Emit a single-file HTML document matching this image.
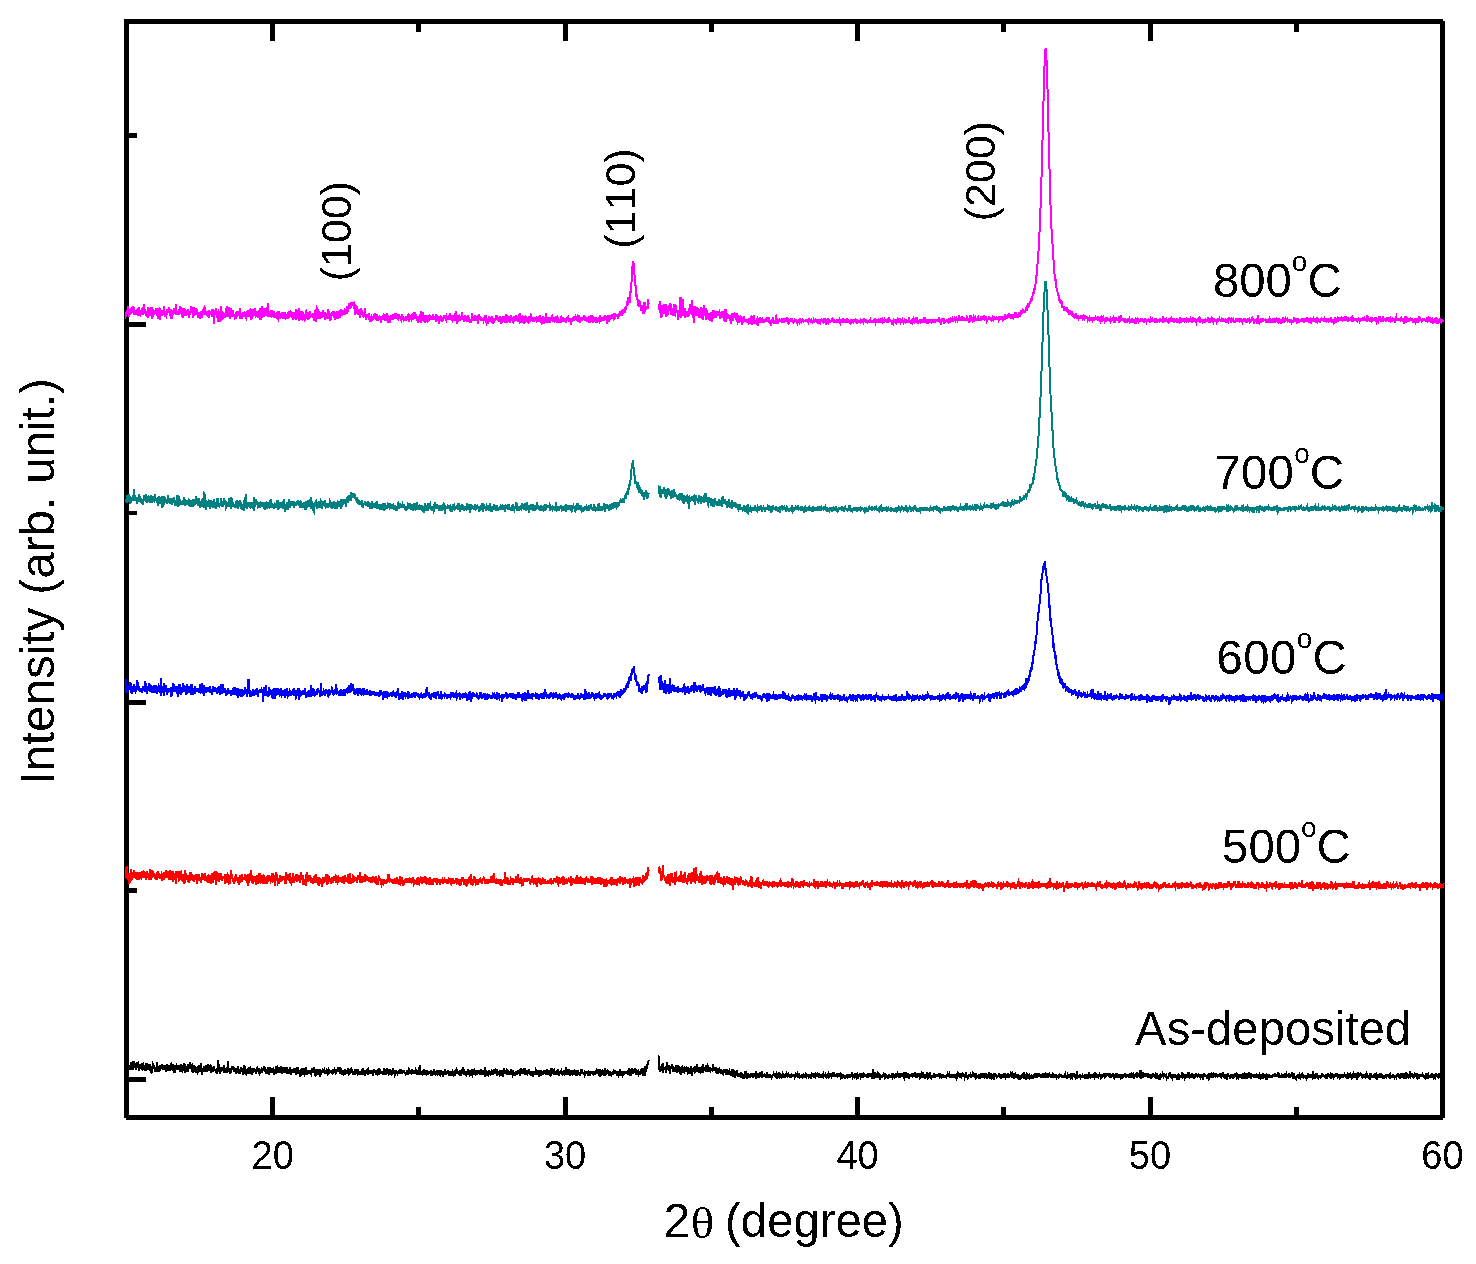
<!DOCTYPE html>
<html><head><meta charset="utf-8"><title>XRD patterns</title><style>
html,body{margin:0;padding:0;background:#fff;width:1476px;height:1264px;overflow:hidden}
svg{display:block}
text{font-family:"Liberation Sans",sans-serif;fill:#000;font-kerning:none;font-feature-settings:"kern" 0,"liga" 0}
</style></head><body>
<svg width="1476" height="1264" viewBox="0 0 1476 1264">
<defs><filter id="crisp" x="0" y="0" width="1476" height="1264" filterUnits="userSpaceOnUse"><feComponentTransfer><feFuncA type="discrete" tableValues="0 1"/></feComponentTransfer></filter></defs>
<rect x="0" y="0" width="1476" height="1264" fill="#fff"/>
<g fill="#000" shape-rendering="crispEdges">
<rect x="124" y="19" width="1319" height="5"/>
<rect x="124" y="19" width="5" height="1099"/>
<rect x="1440" y="21" width="5" height="1097"/>
<rect x="126" y="1115" width="1317" height="5"/>
<rect x="270" y="1097" width="5" height="18"/>
<rect x="270" y="24" width="5" height="17"/>
<rect x="563" y="1097" width="5" height="18"/>
<rect x="563" y="24" width="5" height="17"/>
<rect x="855" y="1097" width="5" height="18"/>
<rect x="855" y="24" width="5" height="17"/>
<rect x="1148" y="1097" width="5" height="18"/>
<rect x="1148" y="24" width="5" height="17"/>
<rect x="416" y="1107" width="5" height="8"/>
<rect x="416" y="24" width="5" height="8"/>
<rect x="709" y="1107" width="5" height="8"/>
<rect x="709" y="24" width="5" height="8"/>
<rect x="1001" y="1107" width="5" height="8"/>
<rect x="1001" y="24" width="5" height="8"/>
<rect x="1294" y="1107" width="5" height="8"/>
<rect x="1294" y="24" width="5" height="8"/>
<rect x="129" y="133" width="8" height="5"/>
<rect x="129" y="322" width="17" height="5"/>
<rect x="129" y="511" width="8" height="4"/>
<rect x="129" y="700" width="17" height="5"/>
<rect x="129" y="888" width="8" height="5"/>
<rect x="129" y="1077" width="17" height="5"/>
</g>
<g fill="none" stroke-width="2" shape-rendering="crispEdges">
<path stroke="#ff00ff" d="M125.7 312.1l .3 4.1 .3-.4 .3-5.4 .3 .7 .3-.7 .3 3.4 .2-2 .3 2.5 .3-8 .3 10.6 .3-5.2 .3 2.4 .3-2.5 .3-.7 .3 2.6 .3 1.1 .3-3.2 .3 .2 .3 2.6 .2-4.9 .3-2 .3 6 .3-3.3 .3-3.9 .3 3.4 .3 1.1 .3-2.2 .3-1 .3 4.8 .3 2.7 .3-3.5 .3-1.6 .3 3.5 .2 1 .3-3.1 .3 2.6 .3 1.5 .3-3.8 .3-1.9 .3 3.6 .3-.3 .3 2.6 .3-7.4 .3 2 .3-.6 .3-2.7 .2 5.7 .3 1.3 .3-3.9 .3 6.5 .3-1.7 .3-.6 .3-.7 .3 1.7 .3-7.1 .3 6.1 .3-.1 .3-7.3 .3 6.6 .2-1.9 .3 3.2 .3-10.9 .3 8.4 .3 1.2 .3-3.8 .3 4.5 .3-2.1 .3 1.8 .3-3.1 .3 5 .3-1.5 .3-2.4 .2 2.5 .3 1.9 .3 1.7 .3-10.4 .3 7.6 .3-1.3 .3-1.7 .3-2.9 .3 7 .3-7.7 .3 5.6 .3 2.3 .3-9 .3 4 .2-3.1 .3 4.8 .3 3.9 .3 1.6 .3-11.7 .3 3.7 .3 4 .3 2.6 .3-3.5 .3-3.6 .3 3.2 .3-.9 .3-.6 .2-1.6 .3 3.4 .3-.2 .3-1.3 .3-.4 .3-3.2 .3 2.4 .3 5.2 .3-4.2 .3-3.9 .3 8.5 .3-2.4 .3 4.8 .2-6.3 .3-1.6 .3-3 .3 8.5 .3 3.8 .3-10.3 .3 .5 .3 3.8 .3-4.4 .3 1.8 .3-.3 .3 1.7 .3 2.7 .2-3.2 .3 2.7 .3-4.1 .3 2.3 .3-7.5 .3 2.1 .3 6.8 .3-4.2 .3 3.6 .3-.1 .3 2.4 .3-1.6 .3 .6 .2-3.4 .3-1.8 .3-.1 .3 .8 .3-2 .3 1.8 .3 1.4 .3 1 .3-1.8 .3-4.8 .3 5.7 .3 .9 .3 2.6 .3-1.6 .2-3.7 .3-.2 .3 8.3 .3-3.8 .3 3.3 .3 .9 .3-9 .3 3.7 .3 .2 .3 .3 .3 0 .3-1 .3-.1 .2-5.1 .3 4.1 .3-1.8 .3 2.7 .3-1.8 .3 3.3 .3 .6 .3-10.7 .3 9.2 .3-.7 .3-1.7 .3 .9 .3-1 .2 2.7 .3-1.1 .3 1.7 .3-5.8 .3 6.7 .3-5 .3 .1 .3-4.2 .3 4.8 .3 2.5 .3-2.6 .3-1.5 .3 .7 .2 6.5 .3-3.8 .3-3.6 .3 3.5 .3-4.7 .3 10.1 .3-10 .3 6.1 .3 .2 .3-6 .3 5.2 .3 2.1 .3-1.6 .3-.6 .2 2.1 .3-2.4 .3 .6 .3-1.4 .3 2.3 .3-4.8 .3 5.3 .3-3.9 .3-1.8 .3 4.4 .3 4 .3-2.2 .3-4.4 .2 3.6 .3-3.4 .3 .9 .3 .7 .3-7.2 .3 7.5 .3-3.7 .3 1.1 .3-2.4 .3-.1 .3 1.7 .3 5.3 .3 2.6 .2-5.1 .3 3.4 .3-4.1 .3-4.9 .3 6.1 .3 .9 .3-2.6 .3 2.2 .3 .8 .3-4.3 .3-1.8 .3 3.8 .3 0 .2-.4 .3 4 .3 2.2 .3-6.4 .3 3.3 .3 .8 .3-.7 .3 1 .3-4.3 .3 3.4 .3 3.8 .3-3.6 .3-4.2 .3 3.6 .2 2 .3-2.7 .3-2.7 .3 6.3 .3-8.4 .3 5.3 .3-1.5 .3-3.5 .3-.6 .3 5.2 .3-4.5 .3 5.2 .3-3 .2-4.4 .3 3.6 .3 2.9 .3 1.1 .3-1.4 .3-.3 .3 1.2 .3-2 .3 4.2 .3-3.1 .3 .5 .3 .7 .3-4.7 .2 1 .3 6.7 .3-3.6 .3-1.8 .3 1.9 .3-2.5 .3 2.3 .3-2.8 .3 2.8 .3-5.5 .3 8.7 .3-5.5 .3-3.1 .2 4 .3-.4 .3 1.5 .3-3.8 .3 4.6 .3 9.5 .3-14.5 .3 4.8 .3-1.9 .3 1.5 .3-5.9 .3 2 .3 4.7 .3-1.4 .2 4.9 .3-6.9 .3 2.6 .3 8.2 .3-10.9 .3-.4 .3 2.6 .3 0 .3 2.6 .3-2.1 .3-2.6 .3 2.9 .3 7.1 .2-4 .3-11.9 .3 7.8 .3-2.2 .3 4.4 .3-2.3 .3 6.2 .3-2.9 .3-.1 .3-2.1 .3-.7 .3 1.2 .3 2.8 .2-2.2 .3-2.6 .3 4.8 .3-3.2 .3-.8 .3-2.1 .3 .7 .3-.2 .3-6.3 .3 11.2 .3-1.3 .3-2.3 .3 3.7 .2-1.8 .3-.2 .3-8.3 .3 6.6 .3 2.2 .3 3.2 .3-4.8 .3 4.3 .3-7.6 .3-3 .3 8.1 .3-1.6 .3 2.8 .2-3.2 .3 1 .3-5 .3 5.7 .3-2.6 .3 2.4 .3 .3 .3-1.7 .3 1.3 .3-1 .3 2.3 .3-.7 .3-3.1 .3-.1 .2 6.8 .3-5.4 .3 3.2 .3-1.7 .3-2.8 .3-.5 .3 2.5 .3 .5 .3 1 .3-5.5 .3 2 .3 1.5 .3 4.9 .2-11.5 .3 8.1 .3-2.8 .3 2.8 .3-2.7 .3 2.4 .3 3.5 .3-3.5 .3 .2 .3-.2 .3-3.3 .3 3.7 .3-2.2 .2-1.8 .3 2.3 .3-.6 .3 2.8 .3-2.3 .3-1.4 .3 5.7 .3-1.4 .3 .8 .3-1.9 .3-2.1 .3-.9 .3 .4 .2 3.5 .3-2.4 .3-4.7 .3 4.2 .3-4 .3 4.5 .3-4 .3-.2 .3 4 .3-.6 .3-4.6 .3 7 .3 4.1 .3-10.6 .2 9.5 .3-7.2 .3 .5 .3 .9 .3-3.7 .3 7.9 .3-2.3 .3-3.6 .3 1.3 .3-3.6 .3 3.4 .3 3.6 .3-7.6 .2 3.6 .3 1.7 .3 2.6 .3 .8 .3-5.2 .3-.8 .3 3.4 .3-2.4 .3 .1 .3 4 .3 1.8 .3-4.2 .3-1.3 .2 2.2 .3-7.1 .3 5.4 .3-3.1 .3 9.9 .3-4.8 .3-1.7 .3-1 .3-6.7 .3 9.3 .3 2.6 .3-6.8 .3 4.1 .2 .1 .3-6.6 .3 7.1 .3 1.2 .3-3.2 .3-.9 .3 2.4 .3-6.6 .3 4.7 .3 2.8 .3-6.5 .3 6.5 .3-4 .3-4.7 .2 5.7 .3-2.4 .3 3.8 .3-11.3 .3 13.5 .3-5.1 .3 3.2 .3-2.6 .3 .8 .3 4.4 .3-2.7 .3-1.7 .3-2.4 .2 7 .3-1.2 .3-3 .3 1.7 .3-3.6 .3 .1 .3 .7 .3 3.4 .3-.1 .3-2.9 .3 4.3 .3 .2 .3-1.7 .2 2.5 .3-3.7 .3 .5 .3 1.8 .3-1.4 .3 2.4 .3-5.8 .3 7.7 .3-6.2 .3 1.8 .3-3.4 .3 5.7 .3 2 .2-.5 .3-.6 .3-6.8 .3 2.3 .3 1 .3-1.3 .3 5.8 .3-2.7 .3-.6 .3 1.5 .3-4.1 .3 .1 .3 0 .3 3.9 .2-.4 .3 .6 .3 1.4 .3-6.9 .3 2.2 .3 2 .3-4.2 .3 2.3 .3 4.4 .3 .2 .3-.1 .3-2.9 .3-.8 .2 3.7 .3-4.2 .3 2 .3 2.8 .3-4.8 .3-.7 .3 1.7 .3 1.7 .3-.4 .3-.9 .3 1.1 .3-6.1 .3 2.1 .2 2.9 .3-3.1 .3-1.2 .3 .3 .3 .9 .3 2 .3-2.4 .3 3.6 .3 4.1 .3-5.2 .3 3.9 .3-2.8 .3-3.9 .2 2.4 .3-2.1 .3 4.9 .3-5.4 .3 7 .3-2.1 .3-7.4 .3 7.9 .3 2.2 .3-6.7 .3 5 .3-7.8 .3 5.7 .2-5.4 .3 6 .3-6.4 .3-2.3 .3 8.5 .3 5.3 .3-8.2 .3 4 .3-2 .3-1.2 .3 2.6 .3 2.9 .3-8 .3 5 .2-.6 .3-4.9 .3 8.5 .3 .9 .3-8.1 .3 7.5 .3-4.6 .3-.7 .3 4.7 .3-3.6 .3 .3 .3 3.3 .3-.6 .2-1.1 .3-6.3 .3-.5 .3 7.5 .3-5.7 .3 3 .3-3.4 .3 2.5 .3-3 .3 8 .3-7.3 .3 2.5 .3-.2 .2 3.8 .3-7.1 .3 3.8 .3-.5 .3 2 .3-.1 .3-2.6 .3 1.9 .3-1.6 .3 2.3 .3-1.6 .3-1.5 .3 1.7 .2 1.1 .3 5.2 .3-7.5 .3 2.2 .3 3.1 .3-9.5 .3 .9 .3 1.5 .3 2.9 .3 6.8 .3-5.5 .3 2.2 .3-3.8 .3-6 .2 .4 .3 8.9 .3-2.2 .3-3.9 .3 6.4 .3-7.1 .3 7.2 .3 .8 .3-5.9 .3-.9 .3 5.2 .3-5.2 .3 5.2 .2-5.5 .3 5.3 .3-1.9 .3-1.4 .3-1.2 .3 3 .3-5.7 .3 4.3 .3-.4 .3 2.9 .3-5.1 .3 7.7 .3-5.3 .2-2.2 .3 6.6 .3 .7 .3-4.8 .3-1.9 .3 2.4 .3-1.9 .3 1 .3 4.8 .3-3 .3-.7 .3-6.2 .3 5.7 .2 2.3 .3 .1 .3-3.3 .3 1.2 .3 5.9 .3-5.1 .3-1.6 .3 5.7 .3-5.2 .3-2.9 .3 4.5 .3-4 .3 1 .3 2.1 .2-1.2 .3-1.7 .3 .6 .3-.2 .3 4.5 .3-4.9 .3 .4 .3 6.6 .3-6.6 .3 5.1 .3-.4 .3-3.8 .3-3.2 .2 4.7 .3 .5 .3 .7 .3-2.3 .3 2.8 .3 .4 .3-6.2 .3 6.2 .3-3.2 .3-1.9 .3 .6 .3 5.4 .3-2.3 .2-6.9 .3 4.6 .3-.6 .3-.1 .3-.9 .3-2.4 .3 5.7 .3-4.6 .3 1.3 .3-.6 .3-.4 .3 3.5 .3-1 .2-2.7 .3-.8 .3 1 .3 3.4 .3-2.3 .3 .1 .3-1.7 .3 0 .3 .8 .3-5.3 .3 8.1 .3-6.3 .3 .1 .3 4.2 .2-3.2 .3-1 .3-2.1 .3-3 .3 3.7 .3 2 .3-5.6 .3 5.1 .3-6.3 .3 .9 .3 3.1 .3-1 .3-1.7 .2 .6 .3-.3 .3-1.6 .3 2 .3 .8 .3-.5 .3 4.6 .3-2 .3-2.9 .3 11 .3-7.6 .3-.8 .3 6.2 .2 .1 .3-5.3 .3-.5 .3 1.3 .3 5.3 .3-3.2 .3-.9 .3 2 .3 3.1 .3-5.9 .3 2.6 .3-2.2 .3 8.5 .2-.6 .3-1.9 .3-2.4 .3 2 .3-6.3 .3 5.7 .3-3.6 .3 .2 .3 1.5 .3 1 .3 2.2 .3 .4 .3-.9 .2-2.7 .3 3.9 .3-1.8 .3 3.1 .3-4.7 .3-4.2 .3 5.4 .3 6.1 .3-3.8 .3-1.4 .3 2.6 .3-.8 .3 0 .3-2.2 .2 1.4 .3 .4 .3-1.9 .3-1 .3 3 .3 1.9 .3-.6 .3-.3 .3 .1 .3 4.7 .3-5.2 .3 1.8 .3 2.2 .2-4.3 .3 .6 .3 1.8 .3 1.5 .3-3.1 .3 .2 .3-.6 .3-2.8 .3 5.2 .3-3 .3-3.2 .3 3.6 .3-3.5 .2 1.7 .3 2.3 .3-2 .3 4.4 .3-5.6 .3 3.9 .3 .7 .3 2.1 .3-1.2 .3-1.5 .3-.2 .3-.3 .3 2.7 .2-3.9 .3 2.6 .3-1.3 .3 .8 .3-1.2 .3 5.3 .3-6.1 .3 2 .3 0 .3 .7 .3-.3 .3-.1 .3 1.2 .3-5.4 .2 3.3 .3-2.7 .3 3.2 .3-3.1 .3 .4 .3 2 .3 3.2 .3-1.8 .3-.7 .3 2.4 .3-5.1 .3-2.5 .3 3.6 .2 .3 .3 3.3 .3 2 .3-7.6 .3 8.3 .3-2 .3-1.6 .3-1 .3 4.5 .3-5.2 .3-1.2 .3 1.4 .3-3.3 .2 4 .3-1.3 .3 .9 .3 .1 .3-3.1 .3 5.1 .3-5 .3 4.1 .3-5.4 .3 4.2 .3-2.6 .3 1.9 .3-1.5 .2-3.4 .3 2.4 .3 2.5 .3 1.2 .3-4.5 .3-1.5 .3 2.7 .3 1.5 .3-1 .3-.4 .3 3.6 .3 .3 .3-.5 .3-3.7 .2 2.2 .3-.6 .3-2.7 .3 5 .3-1.7 .3-1.2 .3 4.1 .3-1.4 .3 .2 .3 .8 .3-1.1 .3-4.3 .3 2 .2 3 .3-3.8 .3 1.7 .3 .8 .3 2.3 .3-.3 .3-.8 .3-2.4 .3 2.4 .3-.8 .3-1.5 .3 3.3 .3-1.8 .2-2.7 .3 4.4 .3-3.3 .3 1.8 .3-4.5 .3 3.2 .3-2 .3 0 .3-2 .3 8.8 .3-5 .3 .9 .3 1.9 .2-2.7 .3 1.4 .3-4 .3 3.3 .3-1.3 .3 2 .3-.6 .3-3.4 .3-1 .3 1.8 .3 3.8 .3-6.3 .3 5.6 .3-5.2 .2-1.4 .3 4.4 .3 .7 .3-.6 .3 2.1 .3-1.1 .3-2.2 .3 .7 .3 2.2 .3-.2 .3-.3 .3 5.1 .3-5.4 .2 .8 .3-2.4 .3 1.4 .3 1.9 .3 .1 .3-1.5 .3 1.2 .3-.8 .3-4.1 .3-3.1 .3 12.1 .3-3.2 .3-8 .2 2.5 .3 .9 .3 5.7 .3-8.9 .3 5.3 .3 2.6 .3-1.6 .3 1.3 .3-1.9 .3 5.4 .3-7.3 .3-.8 .3 3.6 .2 2.4 .3-3.2 .3 2.4 .3-3.4 .3-1.4 .3 5.6 .3 .3 .3-.1 .3-4.2 .3-1.5 .3-.1 .3 2.1 .3 1.7 .2-.2 .3-4.2 .3 3.5 .3-.3 .3 .1 .3-.2 .3-.4 .3 1.7 .3-1 .3 .2 .3-2 .3 2.4 .3-1.2 .3-4.2 .2 5.5 .3-1.6 .3 2.6 .3-2.4 .3 .2 .3 .6 .3-.4 .3-1 .3-2.9 .3 7.8 .3-7.3 .3 2.6 .3 2.2 .2-.6 .3 .4 .3 .4 .3 1.1 .3-2.1 .3 5.6 .3-8.4 .3 2.6 .3-1.2 .3-.4 .3 1.7 .3 2.6 .3-4.7 .2 0 .3 3.1 .3-.4 .3 3 .3-2 .3-1.7 .3-1.2 .3 1.2 .3-.9 .3-2.5 .3 2.9 .3-.4 .3-.1 .2-.4 .3-1.6 .3 4 .3 .5 .3-3.3 .3-.9 .3 1.6 .3 1.1 .3-1.3 .3 .4 .3 2.4 .3-1.4 .3-2.7 .3 1.1 .2-.5 .3 1.8 .3-2.9 .3 2.2 .3 1.8 .3-1.4 .3-2 .3 .7 .3 1.6 .3 .8 .3 .7 .3-2.1 .3-2.4 .2 5.8 .3-2.4 .3 .3 .3-.2 .3-2.9 .3 1.6 .3 1.2 .3 1.7 .3-2.1 .3-6.8 .3 6.2 .3 1.3 .3 2 .2-1.2 .3 3.8 .3-2.3 .3-.1 .3-.9 .3-4.9 .3 4.7 .3-.5 .3-2.4 .3 2.4 .3-.3 .3-1.9 .3 .8 .2-.3 .3 1 .3-1.3 .3 2 .3-5.2 .3-2.5 .3 3 .3 2.6 .3 2.1 .3-1 .3-.3 .3 .4 .3 3.2 .3-5.6 .2 4.2 .3-5.1 .3 2.3 .3 1.3 .3-2.1 .3 2.2 .3 1.2 .3-4.1 .3 2.4 .3-.6 .3-3.4 .3 3.8 .3-1.3 .2 4.6 .3-4.7 .3 5.4 .3-4.7 .3 5.3 .3-3 .3-.1 .3 .7 .3 .2 .3 1.1 .3 .7 .3-4.4 .3-1.9 .2-3 .3 4.9 .3 2.4 .3-.8 .3-.5 .3-1 .3-.6 .3 .8 .3 1.4 .3-4.5 .3 5.3 .3-4.7 .3 2.8 .2-1 .3 .6 .3-1.4 .3-.2 .3 1.9 .3-1.8 .3 7.5 .3-6 .3-.5 .3 .2 .3-1.1 .3-2.9 .3 4.7 .3 1.2 .2-3.9 .3 3.2 .3-2.5 .3 2.5 .3 .8 .3 .3 .3-.1 .3-2.5 .3 3.4 .3-2.8 .3 1.7 .3 .7 .3-2.1 .2-2.1 .3 4 .3-3.6 .3 .4 .3-.4 .3 4.1 .3-2.1 .3-4.4 .3 6.3 .3 2.8 .3-.6 .3-5 .3 1.4 .2 .9 .3 .8 .3-1.8 .3-2.4 .3 3.9 .3-.3 .3-4.1 .3 2.1 .3 1.3 .3-.6 .3 1.1 .3 .6 .3-.5 .2-1.4 .3-2.6 .3 4.1 .3 1.7 .3 1.2 .3-4.2 .3 0 .3 3.1 .3 0 .3-2.3 .3 .7 .3-3.1 .3 2.9 .2-3 .3 1.4 .3 .1 .3-.7 .3-3.5 .3 2.7 .3 2.4 .3-.8 .3-.7 .3 1.7 .3 .6 .3 .3 .3-3.5 .3 1.8 .2-.8 .3-1.1 .3-1.3 .3 2.9 .3-1.6 .3 6.4 .3-4.8 .3-.2 .3-.4 .3 4.8 .3-5.9 .3 1.6 .3-1.3 .2 1.4 .3 .2 .3 2.4 .3-5.3 .3 2.9 .3 3.4 .3-4.4 .3 .7 .3-1.5 .3-3.7 .3 5.3 .3-1.6 .3 .9 .2-2.9 .3 4.4 .3-.4 .3 2 .3-.2 .3-2.5 .3 1.4 .3-4.6 .3 6.1 .3-2 .3 1.9 .3 0 .3-2.9 .2 .3 .3-1.5 .3-2.5 .3 4.1 .3 .6 .3-2.6 .3 3.7 .3-1.2 .3 .7 .3-2.6 .3-2 .3 5.3 .3-.4 .3-1.5 .2-.6 .3 .3 .3 .3 .3-.8 .3-3.2 .3 5.9 .3-4.8 .3 2.5 .3 0 .3 1.2 .3-3.9 .3 5.9 .3-1.2 .2 .3 .3 1 .3-4.3 .3-4.9 .3 7.3 .3 2 .3-.3 .3-3.5 .3 .9 .3 .8 .3-4.4 .3 2.4 .3 .1 .2 4.6 .3-4.7 .3 4.7 .3-3.3 .3-3.5 .3 8.1 .3-6.6 .3 3.3 .3 2.3 .3-4.7 .3-1.5 .3 4.8 .3-2.1 .2-2.7 .3 .3 .3 1.5 .3 2.8 .3-2.6 .3 2 .3 2.1 .3-.8 .3 .3 .3-.4 .3-6 .3 6 .3-1.9 .3-1 .2-2 .3-1 .3 1 .3 2.3 .3-2.4 .3 .7 .3 .4 .3 2.7 .3-2 .3 .3 .3 3.1 .3-3.5 .3 2 .2-3.5 .3 2.9 .3-.4 .3 .1 .3-1.4 .3-1.1 .3 1.5 .3-.4 .3 3.2 .3-.3 .3-4.4 .3 3.8 .3-2.3 .2 2 .3-2 .3-2.1 .3 5.2 .3-1.1 .3-3.5 .3-1.4 .3 2.8 .3-1.3 .3 1.7 .3 2 .3 1.8 .3-3.8 .2 3.6 .3-.5 .3-3.3 .3-2.6 .3 5.3 .3-.5 .3 3.6 .3-1.9 .3-1.4 .3 1.9 .3-5.7 .3 2.6 .3-.9 .3 4.1 .2-2.4 .3-7.5 .3 9.2 .3-4.8 .3 3.5 .3-2.6 .3 1.5 .3 .9 .3-1 .3-2.3 .3 4.8 .3-2 .3-.9 .2 1.5 .3-2.6 .3 5.1 .3-3.5 .3 .3 .3 0 .3-2.6 .3-.6 .3 2.9 .3 .3 .3 2 .3-1.8 .3-3.2 .2 3.3 .3 .7 .3 .3 .3-1.4 .3-3.2 .3 5 .3-4 .3 2.7 .3-4.4 .3 4.8 .3-3.2 .3 3.9 .3 1.4 .2-1.2 .3-4.9 .3 .5 .3 .1 .3 3.2 .3-.6 .3-.4 .3 .3 .3 .5 .3 .2 .3 2.1 .3-3.6 .3 .6 .2-4.3 .3 1.1 .3 1.3 .3-1 .3 2.9 .3 1.7 .3-3.1 .3-.1 .3 0 .3 1.3 .3-1.4 .3 2 .3-.3 .3 .1 .2 .9 .3-1.5 .3 .2 .3 3.3 .3-3.7 .3 1.7 .3-1.5 .3-1.1 .3 0 .3-.7 .3 1.7 .3-1.3 .3 .4 .2 3.4 .3-2.8 .3 2.6 .3-1.8 .3 1.3 .3-3.1 .3 1.6 .3 5.1 .3-3.7 .3 .3 .3-1.6 .3 1.3 .3-4.1 .2 .6 .3 2.6 .3 .8 .3-2.5 .3 .5 .3-.4 .3 .4 .3-2.1 .3-.5 .3 2.8 .3-3.4 .3 1.5 .3 .7 .2-.8 .3 2.6 .3-1.4 .3 .8 .3-2 .3 .6 .3 2.6 .3-.4 .3-5.2 .3 5.2 .3-.3 .3-.1 .3 3 .3-4.1 .2 1.6 .3 0 .3-1.3 .3-1.9 .3 3.8 .3-.9 .3-.4 .3-.1 .3 0 .3-1.9 .3 2.4 .3-4.3 .3 3.7 .2-3.1 .3 2.4 .3 2.2 .3-2 .3-.5 .3 2 .3-1.6 .3-.3 .3 .1 .3 3.9 .3-1.8 .3-.4 .3-3.4 .2 3.7 .3-3.9 .3 3.6 .3-3.3 .3 6.3 .3-7.4 .3 5.9 .3-.8 .3-5.3 .3 3.1 .3 3.5 .3-.7 .3-5.7 .2 2.3 .3-1.3 .3 .3 .3 .7 .3 5.1 .3-3.5 .3-.7 .3-.2 .3 2 .3 0 .3-3.3 .3 4.9 .3-5.2 .3 1.6 .2 1.5 .3 2.6 .3-4.2 .3 1.3 .3 2 .3-1.4 .3 1.1 .3-.2 .3-1.6 .3 .7 .3 .6 .3-2 .3 3.4 .2-7.4 .3 2.2 .3 4.8 .3-2.1 .3-2.2 .3 2 .3 1.4 .3-3.3 .3 2.6 .3-1.8 .3 0 .3 0 .3 2.4 .2-4.6 .3 1.6 .3 2 .3-3.8 .3-.8 .3 4.3 .3-1.2 .3-.3 .3 .6 .3-2.3 .3 7.8 .3-7.9 .3 1 .2-2 .3 2 .3 3.9 .3-3.1 .3 1.2 .3-2.3 .3 4.7 .3-3.5 .3-2.9 .3 4.1 .3-2.4 .3 2 .3-1 .3 .2 .2-.4 .3-2.1 .3-1.3 .3 4.9 .3-2.3 .3 .8 .3-1.6 .3-3.3 .3 1.5 .3 5.3 .3-4.5 .3 .7 .3-2.3 .2 1.8 .3 .2 .3 .2 .3 .2 .3-1.2 .3 0 .3 1 .3 .5 .3-1.1 .3 3.7 .3-3.2 .3-.3 .3-1.8 .2 3.2 .3-4.3 .3-1.4 .3 1.1 .3 3 .3-3.9 .3 4.9 .3-3 .3-3.4 .3 2.4 .3 3.9 .3-5.9 .3-1.3 .2 3.5 .3 1.4 .3-1 .3-3.3 .3 .7 .3-.2 .3 1.4 .3 1.7 .3-5.5 .3 2.5 .3-4.2 .3 1.5 .3-4 .2-.3 .3 2 .3-3.6 .3 3.3 .3-4.1 .3 .6 .3-1.2 .3-1.6 .3 .1 .3 1.1 .3 3.5 .3-11.6 .3 1.9 .3-3 .2-4.1 .3 .3 .3-5.9 .3-1.5 .3-.6 .3-12.1 .3 2 .3-2.4 .3-5 .3 4.1 .3 1.7 .3 1.7 .3 8.1 .2-2.1 .3 9.1 .3 1.4 .3 1.1 .3 5 .3 2 .3 5 .3-4.1 .3 4.7 .3 .6 .3 1.2 .3-.8 .3 6.4 .2-6.5 .3 6 .3-.7 .3 1.8 .3-2.4 .3-2.9 .3 1.3 .3 7.8 .3-2.7 .3-2.7 .3 4.8 .3-4.2 .3 .1 .2-1.2 .3 6.5 .3 2.2 .3-7.8 .3 3.4 .3 1.9 .3 3.1 .3-12.3 .3 6.8 .3 1.4 .3-5.9 .3 5.1 .3-.6 .3 1.4 .2-3.7 .3 2.7 .3-2.9 .3 3.3 .3-1.3 .3-1.6 .3-6.9 .3 4.7"/>
<path stroke="#ff00ff" d="M658.5 306.2l .3-.6 .3 2.6 .3 .5 .3 3.4 .3-6.7 .3-4.4 .3 17.3 .3-6.8 .3-2.5 .3 8.3 .3-12.3 .2 1.3 .3 1.2 .3 3.3 .3-3.3 .3 4.3 .3-3.8 .3 5.7 .3-2.8 .3-7.3 .3 5.6 .3-3.7 .3 3.4 .3 .5 .2 7.7 .3-8.4 .3-4.7 .3 5.9 .3-4.3 .3 10.3 .3-3.8 .3 3 .3-6.7 .3-2.2 .3 4.6 .3-5.7 .3 1.5 .2 .7 .3 2.1 .3-4.6 .3-1.8 .3 11.9 .3-6.7 .3 1.3 .3 2.7 .3-.5 .3-3.7 .3 .7 .3 7 .3-1.1 .2-1.7 .3 3.1 .3-11.9 .3 6.8 .3-1.3 .3-5.5 .3 7.6 .3 1.1 .3-1.2 .3-7 .3 5.4 .3 1.5 .3-1.5 .3 1.8 .2 .8 .3 3.1 .3-3.9 .3 8 .3-8 .3 .2 .3 1.7 .3-2.8 .3-.8 .3 5.3 .3-18.8 .3 8.8 .3 12.9 .2-4.5 .3-.6 .3-.7 .3-.1 .3-4 .3 2.2 .3-11.7 .3 16.6 .3-1.7 .3-1.3 .3 .5 .3-1.7 .3-3.3 .2 9.5 .3-3.5 .3-2.7 .3 2.6 .3 2.2 .3-.3 .3-1.6 .3 .5 .3-3.4 .3 5.2 .3-1.3 .3 0 .3-7.3 .2 6.4 .3 .1 .3 .4 .3-11.1 .3 2.4 .3 7.1 .3-4 .3 4.3 .3-1.5 .3 3.1 .3-4.6 .3-10.6 .3 14.2 .2-2.6 .3-2.9 .3-2.6 .3 16.6 .3-11.3 .3 .4 .3-5.6 .3 3.1 .3 2.8 .3 1.6 .3 1.5 .3-4.9 .3 4 .3 2.1 .2-5.3 .3 1.4 .3-5.5 .3 3.2 .3-1.8 .3 6.6 .3-2.7 .3 5.7 .3-4.5 .3 2 .3-.9 .3-1 .3-4 .2 8.7 .3-5.5 .3-5.5 .3 4 .3-1.6 .3 7.3 .3-.4 .3 1.5 .3 2.1 .3-8.9 .3-3.9 .3 3 .3 4.3 .2-9.7 .3 6.6 .3 4.6 .3-5.3 .3 2.3 .3-2.4 .3 8.3 .3 .7 .3-9.2 .3 .5 .3 3.1 .3 1.8 .3-.8 .2 .8 .3 1.1 .3 .7 .3 2.1 .3-5.1 .3-2 .3 1.3 .3 7.1 .3-4.2 .3-.3 .3 1.9 .3-.3 .3 3.5 .3-9.6 .2 3.1 .3 1.7 .3 .2 .3-3.6 .3-3.7 .3 4.1 .3-1.2 .3 1.7 .3 3.7 .3-1.2 .3-5.4 .3 1.2 .3 2.8 .2 2.9 .3-3.6 .3 .9 .3-5 .3 3 .3-.8 .3 2.9 .3-1.3 .3-1.7 .3-.6 .3 3.8 .3-2.5 .3 5.3 .2-2.9 .3-1.1 .3 3.4 .3-6 .3 6.1 .3-4.6 .3 4.2 .3-4 .3-.7 .3-2.5 .3 5.4 .3 1.3 .3-5.3 .2 9 .3-5 .3-3.1 .3 8.7 .3-6.5 .3 5.2 .3-11.8 .3 13.8 .3-5.4 .3-.5 .3 1 .3-4 .3 5.7 .3-1.2 .2-.3 .3-2.4 .3-1.6 .3 4.2 .3 1.3 .3-1.8 .3-.8 .3-.8 .3 3.3 .3 2 .3-4.2 .3-1.9 .3 8.9 .2-10.7 .3 4.9 .3-1 .3 3.8 .3-3.8 .3-4 .3 1.5 .3 3.3 .3-.4 .3-1.6 .3 .3 .3-2.6 .3 .3 .2 2.2 .3-.1 .3 1.5 .3-2.7 .3 7.1 .3-8.5 .3 6.8 .3-.8 .3 2.7 .3-.5 .3-6.8 .3 4.3 .3 1 .2 .5 .3-1 .3-2.7 .3 4.7 .3-3.5 .3-.8 .3 1.7 .3-1.5 .3-.4 .3 2 .3 6.2 .3-5.6 .3-.5 .3-1.3 .2 2.1 .3-3.7 .3 4.1 .3-.4 .3-.4 .3 1 .3-1.6 .3 2.1 .3-.2 .3 .1 .3-1.2 .3 2.1 .3-2.4 .2 3.5 .3-3.3 .3 3.3 .3-2.3 .3-.6 .3-2.1 .3 3.8 .3-.6 .3-.6 .3 .9 .3-.6 .3-2.4 .3-.5 .2 4 .3-1 .3 3 .3 1.1 .3-2.7 .3-.4 .3-.1 .3-1 .3-1.6 .3-4.3 .3 7.3 .3-.4 .3-1.1 .2 .2 .3 1.8 .3-.2 .3-1.5 .3-.9 .3 1.8 .3 .4 .3 2.9 .3-6.4 .3-.5 .3 .6 .3 .8 .3 5.7 .2-5.6 .3 .6 .3-.9 .3 2.9 .3-2.5 .3-2.5 .3 3.6 .3 1.3 .3-1.6 .3 .3 .3-1.6 .3-.5 .3 1.9 .3-2.2 .2 1.3 .3-1 .3 1.4 .3 2 .3-1.6 .3 2.2 .3-1.4 .3-1 .3-1.4 .3 1.9 .3-2.3 .3 3.5 .3-3.8 .2-.1 .3 1 .3-1.5 .3 3.2 .3-1.5 .3 .5 .3 1.9 .3-4.9 .3 3.4 .3 1.1 .3 1.1 .3-1.5 .3-1.4 .2 2.8 .3-.1 .3 2.2 .3-.1 .3-4 .3 2.6 .3-1.9 .3-2 .3 2.8 .3 1 .3-5.9 .3 5.9 .3-3.4 .2 3.8 .3-2.1 .3-.2 .3 2 .3-2.7 .3 3.7 .3-4.7 .3-3.2 .3-.4 .3 5.9 .3-.9 .3 1.3 .3 .4 .3-.4 .2 .4 .3 0 .3-1.7 .3-1 .3-.3 .3 2.4 .3-1.8 .3-.6 .3 .2 .3 .9 .3 .6 .3-.7 .3-1.1 .2 2.2 .3-3.8 .3 2.6 .3 1.8 .3-1 .3 1.2 .3-1.4 .3 .6 .3-.7 .3-.6 .3 1 .3 .7 .3-3.7 .2 1.5 .3-1.6 .3 1.4 .3-.4 .3 1 .3-2.7 .3 4.4 .3 .4 .3-2.5 .3 .4 .3 1.3 .3-1.5 .3 .3 .2-1.6 .3 2.9 .3-.5 .3-1.4 .3-.4 .3 .3 .3 1.7 .3-1.1 .3-.8 .3 1 .3 1.4 .3 .4 .3 .1 .3-1.4 .2 .2 .3 0 .3 .5 .3-.1 .3-1.8 .3 .3 .3 .4 .3 1.2 .3-1.4 .3-.2 .3 2 .3 .5 .3-2.7 .2 .9 .3 1.4 .3-1.7 .3 1.5 .3-2.7 .3 1.4 .3 1 .3 1 .3-.7 .3-2.9 .3 .1 .3 .8 .3 1.9 .2-.1 .3 .4 .3-.5 .3-1.4 .3 .2 .3-.6 .3 2 .3-2.4 .3 1.5 .3 .2 .3 1.1 .3-2.2 .3 1.3 .2-1.6 .3 2.3 .3-1.6 .3 .1 .3-.7 .3 .4 .3-.1 .3 .1 .3 1.9 .3-2.4 .3 1.4 .3 .7 .3-2.2 .3-1.2 .2 3 .3-2.4 .3 1 .3 .7 .3 .5 .3-.7 .3-.4 .3 1.9 .3-.9 .3 1.9 .3-3.2 .3 1 .3 0 .2 .7 .3-.4 .3-.2 .3 2.2 .3-2.4 .3 .7 .3-.3 .3-.9 .3 1.5 .3-2.9 .3 3.3 .3-3 .3 1.4 .2 .5 .3-.7 .3 0 .3 1.9 .3 1.4 .3-1.6 .3-.9 .3-.9 .3-.2 .3 2.2 .3-.3 .3 .5 .3-.4 .2 .4 .3-2.2 .3-.2 .3-.3 .3 1.1 .3-.1 .3 .3 .3-1.5 .3 1.6 .3 .7 .3-.8 .3-3.1 .3 2.9 .2-.3 .3 1.4 .3-1.2 .3 .9 .3-1.2 .3 .8 .3 .8 .3-1.4 .3 .6 .3-.1 .3 .5 .3-.9 .3 .7 .3-2.6 .2 1.8 .3 1.2 .3-.2 .3-1.8 .3 .2 .3 1.3 .3 0 .3 .1 .3-.4 .3 0 .3 1 .3-2.2 .3-.5 .2 2.7 .3-2 .3 1.6 .3-1.5 .3-.4 .3 2.9 .3-1.8 .3-1.5 .3 1.3 .3 .1 .3-.1 .3 .5 .3-1.5 .2 1 .3 .8 .3 .2 .3-.6 .3-1 .3-1.3 .3 3.8 .3-2.9 .3 .8 .3 .5 .3 .5 .3-.5 .3-.9 .2 .8 .3 2.4 .3 .5 .3-3.1 .3 1 .3-2.7 .3 2.2 .3 .6 .3-1.1 .3 2.3 .3-1 .3-.3 .3-3.6 .3 2.2 .2 1.5 .3-1.3 .3-1.5 .3 1.4 .3 2.3 .3-.9 .3 .2 .3-.8 .3 1.6 .3-4.9 .3 1.8 .3 3.4 .3-.9 .2-.9 .3-.7 .3-1.6 .3 1.5 .3 .4 .3-.9 .3 2.5 .3-.3 .3-1.5 .3 1.3 .3-1 .3 .3 .3-.8 .2 3.3 .3-4.4 .3 1.5 .3 1.3 .3 0 .3-3 .3 .8 .3 .9 .3-.8 .3 .2 .3 .4 .3 .2 .3 1.3 .2-3.1 .3 3.1 .3-1.4 .3 .9 .3-1.1 .3 3 .3-4.6 .3 3.3 .3-1.8 .3 .3 .3 1.8 .3-1.8 .3 1.2 .3 .7 .2-2.3 .3 2.9 .3-.9 .3-1.6 .3 .5 .3-1 .3 1.1 .3 .6 .3 .2 .3-.9 .3-.8 .3-.2 .3-.3 .2 .7 .3 1 .3-1.3 .3-.1 .3-.4 .3 1.8 .3-.9 .3-1.5 .3 3 .3-.1 .3-1.1 .3-.4 .3 .3 .2-1 .3 2.2 .3 .4 .3-.4 .3-.9 .3 0 .3 .3 .3 1.3 .3-2.7 .3 .8 .3-.7 .3-.6 .3 1.7 .2 .9 .3-2.4 .3 2.2 .3-.3 .3-.2 .3 1 .3-2.3 .3 2.5 .3-2.1 .3 1 .3-2.4 .3 2.8 .3-1 .3-.7 .2-.5 .3 1.4 .3 1.2 .3-.9 .3-.9 .3-.5 .3-.3 .3 .8 .3-1.4 .3 1.3 .3 1.7 .3-1.3 .3-.1 .2-.5 .3 1.4 .3-.1 .3 .9 .3-2.3 .3-.5 .3 .6 .3-.7 .3 1.3 .3-.4 .3-.5 .3 .9 .3 1.1 .2-.3 .3-1.5 .3 .8 .3 .3 .3 .4 .3-1.1 .3-1.1 .3 1.8 .3-1.4 .3 .6 .3 .1 .3 1.3 .3-1.5 .2 .7 .3-.4 .3-.4 .3 1.6 .3-1.5 .3 1.1 .3-.3 .3-2.3 .3 .2 .3-1.7 .3 3.9 .3-.1 .3-.9 .2 .1 .3 .2 .3-.4 .3 .7 .3 0 .3-1 .3 2.6 .3-.5 .3-1.5 .3 2.8 .3 .3 .3-1.3 .3 0 .3-2 .2 .3 .3-1.4 .3 1.3 .3 1.5 .3-1.5 .3-1.4 .3 3.6 .3 .4 .3-.5 .3-3.4 .3 2.7 .3-1.9 .3 .8 .2 .9 .3 .9 .3-2.4 .3 .4 .3-1.1 .3-1.2 .3 1.6 .3 .5 .3 1.4 .3-.9 .3 .2 .3 .2 .3 .5 .2 .7 .3-2.9 .3-.4 .3 2.3 .3 .2 .3 .8 .3-.7 .3 1.1 .3-1.4 .3-1.3 .3 1.9 .3-2.2 .3 .3 .2 1.2 .3-.7 .3 1.3 .3-1.5 .3 2.5 .3-3.2 .3 1.9 .3-1.3 .3 2.1 .3-2.2 .3 1.5 .3-4.4 .3 2.7 .3 2.7 .2-1.6 .3-.2 .3 .9 .3 1.7 .3-3.9 .3 1.2 .3-.5 .3 1.3 .3-1.5 .3-1 .3 .1 .3 2.4 .3-.5 .2 .7 .3-2.7 .3 .7 .3 .4 .3 1.6 .3-.5 .3-.6 .3-1 .3 1.4 .3-3.8 .3 4.5 .3 1 .3-1.8 .2-3.9 .3 6.4 .3-1.9 .3-.2 .3-.4 .3 0 .3-.1 .3 .2 .3-1.9 .3 .9 .3 .6 .3-1.5 .3 1.9 .2 .2 .3-2.5 .3 1 .3 .3 .3 .9 .3-.4 .3 2.4 .3-2.6 .3 .2 .3-3.6 .3 5.9 .3-2 .3-.2 .3-.6 .2 .8 .3-.5 .3 1.8 .3-2.3 .3 .5 .3-.2 .3 1.3 .3-.3 .3 .7 .3-.5 .3 .1 .3-.6 .3 .9 .2-.4 .3-.2 .3-2.2 .3 1.3 .3-.2 .3-1.3 .3 3.5 .3 .1 .3-.4 .3-.5 .3 1 .3-3.6 .3 3.3 .2-3.6 .3 2.4 .3-.1 .3 .5 .3 .1 .3 .1 .3-1.6 .3 0 .3-.1 .3 1 .3-.5 .3-1.4 .3 2.9 .2-2.4 .3 .7 .3-.2 .3-.1 .3 1.5 .3-1.4 .3-.8 .3 .8 .3-.4 .3-.5 .3 2.7 .3 .2 .3-2.8 .3 3.3 .2 .3 .3-3.6 .3 2 .3-.8 .3 1.3 .3-4.2 .3 3.9 .3-1.1 .3 1 .3 .4 .3-3.6 .3 2.6 .3 0 .2 .7 .3 .6 .3-.4 .3-1.7 .3 1.6 .3-1.6 .3 1.7 .3-1.1 .3 0 .3 .4 .3-2 .3 1.5 .3-1 .2 2.3 .3 .4 .3-3 .3-.9 .3 2.8 .3-.9 .3-.5 .3 3.5 .3-3.1 .3-.8 .3 .7 .3 .5 .3 1.4 .2-1.5 .3-1.9 .3 .8 .3 2.4 .3-4 .3 1.7 .3 1.3 .3-1.1 .3-.7 .3-.8 .3 1 .3 .3 .3-.4 .2 .8 .3-.9 .3 1.2 .3-1.3 .3 .9 .3-1.4 .3 2.3 .3-.5 .3-.7 .3-1.8 .3 1.3 .3-3.5 .3 2.9 .3 .6 .2-1.2 .3 1.2 .3 .5 .3 1.3 .3-2 .3-1.7 .3-.9 .3 2.4 .3 1.2 .3 .3 .3-1.2 .3-.8 .3-.1 .2 .7 .3 .2 .3 .6 .3-.5 .3 2.1 .3-2.1 .3 .4 .3 .6 .3-.1 .3-1.8 .3-1.1 .3 .4 .3 1.9 .2 .2 .3-.3 .3 .5 .3 .6 .3-2.3 .3 3.7 .3 .1 .3-2.1 .3-4.3 .3 3.7 .3-1.8 .3 1.6 .3-.9 .2 .8 .3-.3 .3 2.7 .3-3.3 .3 1.3 .3-.8 .3 2.2 .3-.6 .3-2.8 .3 .6 .3 1.4 .3-2.8 .3 3 .3-.5 .2-1.2 .3 .8 .3 .9 .3-.6 .3 .2 .3 .3 .3-.6 .3 1.7 .3-3 .3 2 .3-1.1 .3 1 .3 .5 .2-.2 .3 0 .3 .1 .3-.3 .3-.8 .3 1 .3 .3 .3-.1 .3-.7 .3 0 .3-2.5 .3 1.3 .3 .7 .2-.4 .3 1.9 .3-1.2 .3-1.4 .3-.5 .3 2.9 .3-.3 .3-1.6 .3-.5 .3 .2 .3-.2 .3 2.4 .3-.8 .2 2 .3-.5 .3-.8 .3-1.9 .3 1.5 .3-.2 .3-2.1 .3 .1 .3 .6 .3 2.3 .3-1.9 .3-1.1 .3 1.6 .3 .6 .2-2.1 .3 3.5 .3-3 .3 2.1 .3-.5 .3-1.6 .3 .7 .3 .1 .3-.4 .3 1.2 .3-.7 .3-2.1 .3 2.1 .2-1.4 .3 1 .3 .5 .3-.4 .3 1.2 .3-1.2 .3-.5 .3 2.4 .3-1 .3-1 .3 .1 .3-.5 .3 .6 .2-1.2 .3 3 .3-.6 .3-3.9 .3 1.4 .3 1 .3-.7 .3-1.7 .3 3.1 .3-2.1 .3 2.1 .3-.3 .3 1.1 .2-2.7 .3 3 .3-3.5 .3 3.1 .3-.5 .3-.8 .3-1.7 .3 3 .3-1 .3-2.8 .3-1.1 .3 2.2 .3-.3 .3 1.7 .2-.7 .3 .2 .3-1 .3 1.6 .3-1.8 .3-1.1 .3-1 .3 3.2 .3-1.3 .3-1.3 .3 .9 .3 .5 .3 1.2 .2-3.3 .3 1.9 .3 1.2 .3-.3 .3 .3 .3 1.3 .3-3.3 .3 .2 .3 1.9 .3 .5 .3-1.5 .3-.9 .3-1 .2 2 .3-.4 .3-1.7 .3 .5 .3-.6 .3 1.7 .3-.9 .3 1.5 .3 0 .3-1.3 .3 .9 .3-.3 .3 .4 .2-2.3 .3 1.1 .3 1.3 .3-1.5 .3-1.4 .3 .7 .3 2.2 .3-3.3 .3-.4 .3 1.6 .3-1.6 .3-1.6 .3-.2 .2 1.7 .3-.9 .3 2.2 .3-2.6 .3-1.1 .3 .5 .3-.8 .3 2.6 .3-2.5 .3 2.4 .3-1.3 .3 1.5 .3-2.9 .3 .9 .2-3.8 .3 1.6 .3-.7 .3 1.9 .3-1.9 .3 .6 .3-2 .3-1.1 .3 1 .3 1.2 .3-2.1 .3 1.5 .3-2.9 .2-.6 .3-.5 .3-.5 .3-1.2 .3-.1 .3-1.5 .3-1 .3 2.4 .3-1.7 .3-2.3 .3-1.4 .3-2.2 .3 1.6 .2-2.7 .3 2.1 .3-6.1 .3 1.3 .3-.3 .3-4 .3 1.7 .3-3.2 .3-2.1 .3-4.7 .3 .2 .3-2.6 .3-4.1 .2-.6 .3-5.5 .3-7.4 .3-.1 .3-2.2 .3-8.3 .3-2.9 .3-7.7 .3-5 .3-11 .3-5.6 .3-5.1 .3-8.6 .3-11.2 .2-4.7 .3-10.6 .3-12.9 .3-13.4 .3-6.3 .3-14 .3-9.4 .3-11 .3-14.8 .3-10.6 .3-7.8 .3-10.8 .3-10.9 .2 1.2 .3-3.2 .3-2.3 .3 4.9 .3 2.4 .3 6.6 .3 11.1 .3 4.9 .3 10.4 .3 14.7 .3 9.4 .3 16.6 .3 8.5 .2 9.6 .3 13.8 .3 7.1 .3 16.8 .3 6.9 .3 10.1 .3 7.9 .3 7.1 .3 5.1 .3 9.5 .3 4.3 .3 4.9 .3 3.2 .2 9.8 .3 2 .3 3.8 .3 1.4 .3 7.6 .3 1.6 .3 4.4 .3 1.1 .3 1.3 .3 4.2 .3-.8 .3 1.9 .3 3.8 .3 2.7 .2 2 .3-.1 .3 1.3 .3 1.6 .3 .7 .3 .7 .3 2.3 .3-.3 .3 1.2 .3 2.7 .3-.5 .3-.1 .3 2.2 .2-.3 .3 1.6 .3-1.3 .3 .7 .3-.2 .3 3.6 .3 .9 .3 .2 .3-.5 .3 .2 .3-.1 .3 1.4 .3-.6 .2-.6 .3 2.8 .3 .2 .3-.1 .3-.4 .3-3 .3 3.7 .3 .4 .3-1.3 .3 1.1 .3-.5 .3 2.8 .3-2.7 .2 .4 .3 .6 .3 1.4 .3-1.1 .3 3.4 .3-1.1 .3-3.4 .3 3.2 .3 .3 .3-1.7 .3 1.5 .3 .4 .3-.7 .3 .7 .2 .7 .3-.9 .3 .7 .3-1.2 .3 2.2 .3-1.3 .3 2.2 .3 1.1 .3-.4 .3-2.3 .3 1.1 .3-.7 .3 .9 .2-1.3 .3-.2 .3 1.2 .3-.8 .3 2.4 .3-.5 .3-.3 .3-.5 .3 .1 .3 1.3 .3-.9 .3 0 .3 2.2 .2-1.9 .3-.4 .3 .1 .3 1.7 .3-1.9 .3 .1 .3 1.8 .3 .1 .3 .4 .3-2.5 .3 1.5 .3-1.1 .3 1.2 .2-2.3 .3 1.7 .3 1.4 .3-.9 .3-2.9 .3 3.9 .3-.7 .3-.7 .3 .4 .3-.3 .3 1.7 .3-1.3 .3-1.8 .2 .9 .3 2.9 .3-.6 .3-.3 .3-1.8 .3 1.6 .3 .6 .3-1.1 .3 .8 .3 .5 .3-.1 .3-.6 .3 0 .3-1.9 .2 1.1 .3 1.3 .3 1 .3-1.7 .3 1.1 .3-1.2 .3-1.1 .3 1.6 .3 .1 .3-1.5 .3 0 .3 1.1 .3-.6 .2 1.2 .3-2.1 .3 2.4 .3-1.5 .3 1.1 .3-2.2 .3 2.9 .3-.8 .3 2.1 .3-4.2 .3-.2 .3 2.9 .3 .2 .2-2.9 .3 2.6 .3 .4 .3 .6 .3-1.4 .3-1.9 .3-.4 .3 4.5 .3-1.8 .3 .6 .3-1.4 .3 .1 .3 0 .2-.8 .3 .8 .3-.9 .3 .8 .3 1.7 .3-1.2 .3-.8 .3 2.7 .3-.4 .3-1.4 .3-2 .3 3.4 .3 0 .3-2.1 .2 2.3 .3-2.5 .3 .6 .3-.2 .3 .7 .3-.3 .3 1.8 .3-2 .3 .9 .3-.5 .3 .3 .3-1.2 .3 .9 .2 1.6 .3-.6 .3-2.2 .3 .8 .3-.6 .3 .3 .3 .1 .3-.7 .3 1.9 .3 .6 .3-.9 .3-.7 .3 .7 .2-1 .3 2.1 .3 1.4 .3-5.6 .3 3.4 .3-.3 .3 .2 .3-.6 .3-1.3 .3 1.6 .3-.4 .3 .3 .3 .1 .2-.5 .3 3.2 .3-4 .3-1.9 .3 1.9 .3 1.3 .3 1.9 .3-1.8 .3-.9 .3-3.5 .3 5.1 .3-1.4 .3 1.5 .3-1.5 .2 .2 .3 .5 .3-1.7 .3 3.2 .3-2.6 .3 1.4 .3 .4 .3 2.1 .3-2.1 .3 .4 .3-1.5 .3 .4 .3 .2 .2 1.2 .3-2.3 .3 1.6 .3 2.7 .3-4.2 .3-1 .3 1.5 .3 .4 .3 2 .3-1.3 .3 .7 .3-2 .3 .7 .2 .4 .3-1.2 .3 1.2 .3-.6 .3 .6 .3-1.8 .3-.7 .3 3.8 .3-1.5 .3-.1 .3 2.9 .3-1.7 .3-.6 .2-1.2 .3 1.1 .3-.1 .3-.6 .3 1.9 .3-.7 .3-.2 .3-1.6 .3 .2 .3-.9 .3 1.9 .3-.8 .3 .9 .3-.3 .2-.5 .3 .3 .3 1.1 .3-.5 .3-1.3 .3 .1 .3 1.2 .3-1.5 .3 1.3 .3-.3 .3-1.3 .3-1.2 .3 1.7 .2 .9 .3 .1 .3 1.4 .3-1.4 .3-.1 .3 .5 .3-.9 .3 2.4 .3-2.6 .3-.3 .3 .4 .3 1.9 .3-1.9 .2-.2 .3 1.4 .3 .7 .3-1.8 .3 1.3 .3-1.5 .3 2.3 .3-2.8 .3 .9 .3-.2 .3-.5 .3 .9 .3 .9 .2-1.7 .3 3 .3-1.8 .3 .1 .3-1.2 .3 .8 .3 1 .3-2.1 .3 .4 .3-.2 .3-.5 .3 2.2 .3-1.6 .2 2.7 .3-3.2 .3 1 .3 .4 .3-1.1 .3-1.3 .3 1.7 .3 .7 .3-1.1 .3 1.4 .3-2.3 .3 2.3 .3 2 .3-1.2 .2 0 .3-1.5 .3 0 .3 1.7 .3-1.6 .3 1.1 .3-1.8 .3 1.5 .3-.3 .3-2.6 .3 2.3 .3 .8 .3 0 .2-.2 .3 1 .3-1.5 .3-.8 .3 1.9 .3 1.3 .3-2.7 .3 2 .3-1.8 .3-1.5 .3 .7 .3 0 .3 2.2 .2-1.1 .3-.8 .3 .8 .3 1.4 .3-1.6 .3-.8 .3 1.2 .3-1.3 .3 1.5 .3 .5 .3-.8 .3-.7 .3 .6 .2-1.7 .3 3.3 .3 .9 .3-2.6 .3-2.3 .3 1.5 .3-.9 .3-.4 .3 1.9 .3 0 .3-.6 .3 2 .3-1.2 .3-1.2 .2 1.6 .3-1.9 .3 1 .3-.5 .3 1.3 .3-.7 .3-.3 .3 .9 .3 .3 .3-.3 .3 1 .3-2.4 .3 1.6 .2 1.4 .3-1.9 .3-2.4 .3 3.5 .3-1.3 .3 .9 .3-.4 .3 .4 .3 .7 .3-1.2 .3 .7 .3-2.3 .3 .4 .2 .9 .3 1.9 .3-2.7 .3 .5 .3 1.1 .3-1.3 .3-.8 .3-.8 .3 3.1 .3-2.2 .3 1.7 .3 .2 .3-1.7 .2 1.6 .3-2.9 .3 2.3 .3-1.1 .3 1.4 .3 0 .3 0 .3 .5 .3-1.4 .3-.9 .3 .2 .3 2.5 .3-2.3 .3 .8 .2 .8 .3-.6 .3-.9 .3-1.3 .3 3.4 .3-1.7 .3-1.1 .3 1.1 .3 .7 .3-2.2 .3 2.3 .3-.1 .3 .5 .2-.5 .3-1.1 .3-.7 .3 1.5 .3-.3 .3 2.3 .3-2.1 .3 .8 .3-.4 .3-2 .3 2.8 .3-1.4 .3-1.1 .2 2.1 .3 .9 .3-1.5 .3-.2 .3-.4 .3 .3 .3 1.7 .3-1.2 .3-2.9 .3 3.5 .3-3.9 .3 3.4 .3 .4 .2-.3 .3-1.9 .3 .7 .3 1.7 .3-.3 .3 0 .3-1.8 .3 1.6 .3 1.3 .3-1.6 .3 1.5 .3-.5 .3-.1 .3-1.6 .2 0 .3 0 .3 2 .3 .1 .3-2.6 .3-.2 .3 1.5 .3 1.3 .3-1.1 .3 .4 .3-.2 .3 .1 .3-.8 .2 .7 .3 .2 .3-.8 .3 1.9 .3-3 .3 .7 .3-.5 .3 2.1 .3 .1 .3-2.1 .3 .9 .3-.5 .3-1 .2 .6 .3 1.2 .3 .3 .3-1.4 .3 .8 .3 .9 .3 .6 .3-1.2 .3-1.2 .3-.9 .3 1.8 .3-.4 .3-.3 .2-.1 .3 .1 .3 .8 .3 .6 .3-1.7 .3 3 .3-.5 .3-1.8 .3 .6 .3 1.3 .3-2.7 .3 .4 .3 0 .2-.5 .3 1.9 .3-1 .3 .3 .3 0 .3-.3 .3 1.9 .3-1.8 .3-.8 .3-.6 .3 .8 .3 .9 .3 0 .3 .1 .2-.7 .3 .9 .3 0 .3-1.8 .3 1.8 .3 0 .3-.8 .3 1.5 .3-1.1 .3-.9 .3 1.9 .3 .9 .3-3.2 .2 1.2 .3 1 .3-.3 .3 .5 .3 .3 .3-3.4 .3-.4 .3 .6 .3 .7 .3-.1 .3 1.7 .3-2.4 .3 2 .2-1.8 .3 3.8 .3-2.7 .3 .5 .3-1.3 .3 .7 .3 2.1 .3-1.2 .3-1.5 .3 .7 .3 .4 .3 2.1 .3-2.1 .2 .6 .3 .7 .3 1.5 .3-1.9 .3-1.9 .3 .1 .3 2.9 .3-1.4 .3-2.6 .3 1.6 .3 0 .3 .2 .3 1 .3 .1 .2 .7 .3-3.5 .3 2.4 .3-.6 .3-.9 .3 2.1 .3-2.4 .3-.1 .3 3.3 .3-1.3 .3 .4 .3 .6 .3-2.9 .2 3 .3-1.4 .3 .4 .3 .3 .3-.1 .3-1.2 .3 .4 .3 .2 .3 1 .3-3.6 .3 4 .3-2.6 .3 3.5 .2-1.9 .3 1.4 .3-2.2 .3 2.2 .3-1.5 .3 0 .3 .1 .3-3.3 .3 1.1 .3-.1 .3 1.8 .3-.3 .3 1.2 .2-.6 .3 1 .3-2.1 .3 1.1 .3-.9 .3-.7 .3-.7 .3 1.8 .3-.9 .3 .4 .3-.4 .3-.2 .3 4.4 .3-3.1 .2-1.5 .3 1.2 .3 .3 .3-1.7 .3 2.8 .3-2.2 .3 1.6 .3-1.1 .3-.4 .3 4.5 .3-4.3 .3-1 .3 1.1 .2-.5 .3 2.3 .3-.7 .3-1.8 .3 3.3 .3-2.3 .3-1.2 .3 2.7 .3-.5 .3-1.8 .3-.2 .3 1.1 .3-.6 .2 1.4 .3-.3 .3-1.6 .3 .1 .3 .9 .3 1.7 .3-2.1 .3 1.4 .3-1.4 .3 1.2 .3-1.2 .3 1.2 .3-1.5 .2 .1 .3 3 .3-1.1 .3-2.4 .3 2.7 .3-1.5 .3 1.7 .3-3 .3 1.4 .3-.4 .3-.3 .3-.5 .3 3.4 .3-2.1 .2-.4 .3-1.5 .3 3.1 .3 0 .3-1.4 .3-1.4 .3 2.2 .3-.6 .3-1.7 .3 4 .3-1.5 .3-1.9 .3 .2 .2 1.8 .3 .4 .3-.6 .3-.1 .3-1 .3 2.7 .3-2.6 .3 .6 .3 .1 .3-.7 .3 1.2 .3 .9 .3-4.3 .2 2.3 .3 1.6 .3 .2 .3-2.1 .3 1.3 .3-2.8 .3 2.2 .3-2.8 .3 3.8 .3 .2 .3 .4 .3-1.5 .3-.1 .2 1.1 .3 2.5 .3-4 .3 .2 .3 2 .3-3.2 .3-1.6 .3 4 .3 .4 .3-.1 .3-.3 .3 .1 .3-2 .2 1.9 .3-2.3 .3-.6 .3 1.5 .3-1.2 .3 .2 .3 .5 .3 .3 .3 .6 .3-1.3 .3 .5 .3 .5 .3 .3 .3 .4 .2 .3 .3-.6 .3 .2 .3 .3 .3-.8 .3 .2 .3-1.2 .3 1.3 .3 .8 .3-1.8 .3 2.2 .3-2.1 .3 1.8 .2 .7 .3-1.6 .3-.7 .3 .9 .3-.9 .3-.6 .3 2.2 .3-3.4 .3 3.2 .3-1.9 .3 1.9 .3-1.6 .3 2.6 .2-2.6 .3-2 .3 5.8 .3-3.2 .3-.2 .3 .1 .3-.3 .3 .7 .3-1.2 .3 3.3 .3-3.3 .3 1.5 .3 .8 .2-1.7 .3 1.2 .3-1.6 .3-.5 .3 .2 .3 2.1 .3-2.2 .3 0 .3 2.1 .3-2.1 .3 1.2 .3 .6 .3-3.1 .3 3 .2-1.1 .3-1.3 .3 2.4 .3-.4 .3 0 .3-.7 .3-.4 .3-.7 .3 1.2 .3-1 .3 .7 .3 1 .3 .4 .2-.4 .3-.2 .3-.6 .3 1.4 .3 .2 .3-1.9 .3 .1 .3-.6 .3 .7 .3-.1 .3 2.7 .3-.7 .3-3.1 .2 2.4 .3-1.1 .3-1.7 .3 2.2 .3-1 .3 1.1 .3 .2 .3-1.3 .3 2.4 .3-1.5 .3-1.1 .3-.9 .3 4.3 .2-3.4 .3 1 .3 .2 .3 .7 .3-2.5 .3-1.2 .3 2.8 .3-1.8 .3 1.4 .3 2.6 .3-3 .3 1.4 .3-2 .3 4.6 .2-3.8 .3 .9 .3-.6 .3-.5 .3 1.8 .3-1.4 .3-.8 .3 .4 .3 .3 .3 .4 .3 0 .3-1 .3 .3 .2 2.9 .3-2.6 .3 1.8 .3-2 .3 .8 .3-1.1 .3-1.5 .3 1.6 .3 1.6 .3 .4 .3-.2 .3-1.8 .3 .2 .2-.9 .3 1.6 .3 .6 .3-.7 .3-1.1 .3 1.3 .3-.3 .3 .4 .3-.8 .3 .5 .3-1.1 .3-.1 .3-1.9 .2 3.1 .3-.1 .3-1.2 .3 2.8 .3-.4 .3 .6 .3-2.1 .3-.1 .3 .6 .3 .7 .3 .6 .3-2.7 .3 .9 .3-2.1 .2 1.9 .3 1.4 .3-.3 .3 1.9 .3-1.9 .3-1.2 .3-.4 .3 1.1 .3 1.6 .3-3.3 .3 .3 .3 1.2 .3-.5 .2 1.4 .3-1.5 .3 .6 .3-.1 .3 .2 .3 1.3 .3-3 .3-.5 .3 .3 .3 1.4 .3-1.4 .3 2.3 .3-.3 .2-.2 .3-2.1 .3 1.2 .3 1.2 .3-1.8 .3 .8 .3 .1 .3 1 .3-1.6 .3-.9 .3 1.5 .3 .1 .3 1.3 .2-1.7 .3 .5 .3-.4 .3 .1 .3 2.8 .3-5.2 .3 3.6 .3-1.6 .3 1 .3-1.8 .3 1.9 .3-1.1 .3 1.5 .2 .9 .3-2.9 .3-.4 .3 3.1 .3 .9 .3-2.2 .3-2.4 .3 .6 .3 2.8 .3 .9 .3-2.1 .3-1.4 .3 2.9 .3-2.9 .2 .8 .3 0 .3 0 .3 1.4 .3-1.7 .3 1.2 .3 1.1 .3 0 .3 .3 .3-2 .3-1.5 .3 2.2 .3 0 .2 .1 .3-.8 .3 .9 .3-1.6 .3 2.1 .3 1 .3-1.8 .3-.1 .3 .7 .3-.1 .3 0 .3-.4 .3-.6 .2 2.1 .3-3.1 .3 2.6 .3-2.2 .3 1.5 .3-1.7 .3-.6 .3 .6 .3 0 .3 2.6 .3-2.2 .3-.1 .3-.3 .2 1.1 .3 0 .3 .6 .3-1.4 .3-3.3 .3 4 .3 1.1 .3-.2 .3-1.9 .3 .5 .3 .9 .3-1 .3-.9 .3 1.8 .2-.6 .3 .7 .3 .6 .3-1.5 .3-.7 .3 .4 .3 1.7 .3-.7 .3 .7 .3-1.2 .3 1.2 .3-1.4 .3-.2 .2 .7 .3-.1 .3-.1 .3 .3 .3 1 .3-1.8 .3-1.2 .3 2.4 .3 1.6 .3-.9 .3-2.5 .3 1.8 .3 .8 .2-.3 .3 1.1 .3-1.1 .3-4.1 .3 3.8 .3-1.5 .3-.2 .3-.9 .3 .5 .3 1 .3 1.6 .3 .1 .3-.5 .2 .6 .3-1.8 .3-.5 .3 3 .3-1.6 .3-.9 .3 1.2 .3-1.6 .3 2.6 .3-3.3 .3 .9 .3 .4 .3 0 .3-1.2 .2 2.4 .3-.3 .3-.6 .3 .5 .3-1.1 .3-1.3 .3 1.1 .3-.5 .3 1 .3 0 .3 .6 .3 .3 .3 1.2 .2-3.4 .3-.3 .3 2.1 .3 1.2 .3-.4 .3-1.2 .3-.2 .3 0 .3 2.3 .3-2.2 .3 .6 .3-1.8 .3 2.4 .2-1.1 .3-.2 .3 0 .3 .2 .3 3.1 .3-2.3 .3 0 .3-1.5 .3-.8 .3-.8 .3 1.7 .3 .9 .3 .1 .2-1.9 .3 2.3 .3-1.3 .3 1.9 .3-1.6 .3 .3 .3-.8 .3 0 .3 .8 .3 .6 .3 .2 .3-1.6 .3-.6 .3 1.9 .2 1 .3-2 .3 .1 .3 0 .3 .8 .3 .7 .3-2.1 .3 1.6 .3 1.1 .3-.9 .3-1.6 .3-.7 .3 1.7 .2 1.4 .3-.6 .3 .7 .3-2 .3 .5 .3-.9 .3 1.5 .3-.8 .3-.7 .3 .5 .3 1 .3-2.4 .3 2.7 .2 1.7 .3-1.7 .3-1.9 .3 2.3 .3-2.2 .3-.2 .3 2 .3-1.4 .3 .6 .3-.5 .3 .3 .3-1.7 .3 2.9 .2 .4 .3-1.6 .3 1.7 .3-.5 .3 .4 .3 .3 .3-2.9 .3 2.2 .3-1 .3 1 .3-1.2 .3 2.6 .3-.4 .2-1.8 .3 .5 .3-.3 .3 .1 .3 .7 .3-2.1 .3-.5 .3 2.9 .3-.9 .3-.9 .3-.2 .3-.9 .3 1.3 .3-1.5 .2 2 .3 .2 .3-1.1 .3 1.9 .3-.3 .3-.6 .3-1 .3 .1 .3-.3 .3-1.2 .3 2.2 .3 .8 .3-2.5 .2 2.1 .3-.7 .3 .4 .3 .7 .3 .2 .3-1.7 .3 1.6 .3-1.3 .3-2.4 .3 5.1 .3-2.2 .3-.4 .3 1.8 .2-.9 .3-1.2 .3 .9 .3 .1 .3-.5 .3-2.4 .3 2.8 .3-1.2 .3-.2 .3 1.3 .3 2.3 .3-3.7 .3 1.7 .2-2 .3-.1 .3 1.3 .3 1.5 .3-.7 .3 0 .3 1 .3-.8 .3-1.2 .3-.4 .3 .8 .3 .7 .3-.7 .3 .1 .2-3.1 .3 2.4 .3-.4 .3 .5 .3 2.8 .3-.7 .3 .3 .3-1.4 .3-.2 .3 1 .3-1.3 .3 1.7 .3-1.1 .2 .7 .3-1.7 .3 2.9 .3-1.8 .3 .5 .3-1.6 .3 .1 .3 1.6 .3-2.6 .3 3.2 .3-2.1 .3 1.8 .3-1.8"/>
<path stroke="#008080" d="M125.7 498.7l .3 2.8 .3-.8 .3 0 .3 2.4 .3-7.7 .3 1.6 .2-1.9 .3 3.4 .3 3 .3-2.8 .3 1.4 .3-6.5 .3 5.6 .3-2.9 .3 7.4 .3-2.5 .3 .2 .3-2.7 .3 1.8 .2 .2 .3-2.8 .3-.4 .3 1.1 .3-1.3 .3 0 .3 .9 .3-1.2 .3 4 .3-12 .3 12.2 .3-3.9 .3 .2 .3-2.2 .2 3.3 .3-.3 .3 1.2 .3-1.9 .3 1.7 .3 4.7 .3-3.8 .3-2.7 .3 4.2 .3-3 .3 2 .3 .1 .3-2.7 .2-4.2 .3 4.3 .3 2.4 .3-2.5 .3 2.3 .3 1.4 .3-4.1 .3 4.8 .3 1.1 .3-1.5 .3 .3 .3-.2 .3 3.1 .2-5.5 .3-.5 .3 1.6 .3-4.1 .3-1.7 .3 1.8 .3 3.4 .3 .3 .3-5.4 .3-.9 .3 4.2 .3 .4 .3 .3 .2 2 .3 1.5 .3-2.7 .3 1.1 .3-4.6 .3-.2 .3 3.8 .3 1.1 .3 .2 .3-.3 .3 .5 .3 .1 .3-6.9 .3 2.8 .2 3.2 .3 .4 .3-5.6 .3 7.2 .3-4.3 .3 .6 .3 1.4 .3 1.3 .3-5.9 .3 6.5 .3-2.4 .3-2.2 .3 1.3 .2-5.1 .3 4.2 .3 2.2 .3-2.4 .3 1.1 .3 .5 .3 .6 .3 2.6 .3-2.8 .3-.6 .3 2.2 .3 4.1 .3-6.5 .2 2.4 .3-5.6 .3 7.8 .3-1.8 .3 1.8 .3-3.7 .3-2.6 .3 5.2 .3-.3 .3-4.3 .3-1.6 .3 5.1 .3-1.6 .2 7.5 .3-8.6 .3 .2 .3 1.2 .3-4.2 .3 2.1 .3 6.8 .3-4.7 .3-1.2 .3-1.8 .3 5 .3 .2 .3-1 .2-1.7 .3 1.8 .3 .3 .3-2.9 .3 3.5 .3-7.2 .3 2.2 .3 2.6 .3 .6 .3-2.8 .3 4 .3 2 .3-1.6 .3-.6 .2 1.6 .3-1.1 .3-4.1 .3 2.5 .3 4 .3-6.4 .3 3.2 .3-1.2 .3-1.3 .3-.3 .3 2.9 .3 .6 .3 0 .2-4.6 .3 3.1 .3 1.7 .3 1.6 .3-.7 .3 .4 .3 .7 .3-.7 .3-4.3 .3 2.3 .3-2 .3-4.4 .3 1.9 .2 10 .3-8.5 .3-3 .3 4.4 .3 5.6 .3-4.1 .3 1.2 .3-1.8 .3 .6 .3 3.5 .3-1.2 .3-2.3 .3 2.6 .2 .5 .3-3.4 .3 1.3 .3 0 .3-2.4 .3 4.8 .3-3.5 .3-1.2 .3-2.7 .3 1.1 .3 7.3 .3-7 .3 4.2 .3-2.1 .2 2.3 .3 .3 .3-3.6 .3 1.3 .3 1 .3 .1 .3-.4 .3-.7 .3 2.5 .3 1.8 .3-2 .3-3.4 .3 3 .2-.8 .3 1 .3 3.7 .3-5.4 .3 .5 .3-2.2 .3 1.5 .3-.7 .3 5.7 .3-3.4 .3-2.2 .3 6.5 .3-8.5 .2 5.8 .3 .4 .3-1.1 .3-2.2 .3 .3 .3-.5 .3 3 .3-8.2 .3 4.8 .3 1.8 .3-1.9 .3-3.3 .3 4.2 .2-1.3 .3 4 .3 1.6 .3-3.4 .3-5.3 .3 4.6 .3-1.9 .3 4.2 .3 2.7 .3-3.6 .3 4.5 .3-1.3 .3-2.2 .3-4 .2 2.8 .3-4 .3 6.5 .3-2.4 .3 3.3 .3-2.8 .3-5.8 .3 6.8 .3 .8 .3 1.9 .3-13.7 .3 .4 .3 9.2 .2-2.9 .3-.8 .3 .7 .3 9.6 .3-8.4 .3-1 .3 1.5 .3 1.2 .3 3.3 .3-.9 .3-.4 .3-1.9 .3 .3 .2-2 .3-2.3 .3 9.3 .3-6.5 .3 3.8 .3-3.4 .3 .6 .3-.2 .3-3.1 .3 3.3 .3 1.2 .3 1.2 .3-.8 .2 1.3 .3-1.8 .3-.8 .3-5.1 .3 3.8 .3 5.4 .3-3.7 .3 1.8 .3-2.6 .3-1.2 .3 7 .3-4.3 .3 2.9 .3-2.4 .2-2.2 .3-5 .3 6.1 .3-4.3 .3-1.7 .3 9 .3-1.3 .3-.2 .3-1.6 .3-.2 .3 1.2 .3-.6 .3-.2 .2 1.7 .3-8.2 .3 8.6 .3-3.9 .3 3.8 .3 .9 .3-5.2 .3 4.2 .3 0 .3-3.9 .3 .5 .3 1.6 .3-6 .2 4.6 .3 1.6 .3-1.6 .3-3 .3 3.2 .3 4.9 .3-.5 .3-3.7 .3-1.7 .3 2 .3 .1 .3-1.8 .3 .9 .2 2.5 .3 .8 .3-8.6 .3 8.8 .3-2.2 .3 2.6 .3-3 .3 1.2 .3 3.1 .3-11.8 .3 11.7 .3-3.6 .3-5.1 .2-2.2 .3 7.6 .3-3.4 .3 5.2 .3-2 .3-.9 .3 2.9 .3-2 .3 1.4 .3 .2 .3-1.3 .3 1.2 .3 0 .3-5.5 .2 2.8 .3 .4 .3-.6 .3-3.1 .3 2.6 .3 2.3 .3-.3 .3 3.4 .3-5.4 .3 .4 .3-.3 .3 .6 .3-.7 .2-3.2 .3 5.6 .3 1.7 .3 .3 .3-5.6 .3 2.3 .3 5.2 .3-5 .3 1.2 .3-1.3 .3 3 .3-.1 .3 3.5 .2-4.7 .3-6.4 .3 2.1 .3 2 .3-.7 .3 .9 .3-9.7 .3 13.7 .3-5.8 .3 3.4 .3-3.9 .3 4.1 .3 3.3 .2-6.2 .3 3 .3-1.1 .3 .9 .3 .3 .3-2.6 .3 1.1 .3-1 .3-.6 .3-1 .3 5.6 .3-4.3 .3 3.5 .3-.3 .2-3.9 .3 5.2 .3-4.8 .3 3.8 .3 2.1 .3-5.5 .3-.6 .3-5.8 .3 14 .3-6.7 .3-2.3 .3 5.3 .3-2.5 .2 .4 .3-2.5 .3-3.1 .3 3.8 .3-.8 .3-1.4 .3 1.3 .3 .4 .3 4.4 .3-.2 .3-.5 .3-2.6 .3-1.9 .2 4 .3 .4 .3 1.4 .3-2.6 .3-.3 .3 1.1 .3-3.1 .3 .3 .3 3.6 .3-4.8 .3 3 .3 2.1 .3-1.3 .2 .4 .3-3.8 .3 2.4 .3-.3 .3 2.1 .3-.4 .3-1 .3 4.7 .3-3.4 .3-2.1 .3-.8 .3 1.4 .3-1.3 .3 5.5 .2-2.7 .3-2.2 .3-.8 .3-1.1 .3 2 .3 4 .3-1.2 .3-2.3 .3 .5 .3-5 .3 6.6 .3-2.5 .3 4 .2-3.9 .3-5.1 .3 6.1 .3-2.2 .3 5 .3-2.7 .3 .2 .3-.1 .3-1.7 .3 2.1 .3-.8 .3 4 .3-4.3 .2 .8 .3-2.1 .3 .2 .3 .2 .3 4 .3-3 .3 2.2 .3-3.1 .3-.2 .3-3.9 .3 6.9 .3 3 .3-5.7 .2 4.2 .3-1.5 .3-3.8 .3 3.6 .3-4.2 .3 1.5 .3 3.8 .3-2.7 .3-3.3 .3 6.4 .3-6.2 .3 2.3 .3-.5 .3 .5 .2-1.7 .3-2 .3 8.7 .3-7 .3 .2 .3-3.9 .3 6.2 .3 3 .3 .3 .3 3.4 .3-3.2 .3-2.7 .3-.9 .2 3.4 .3-3.6 .3 .6 .3-2.9 .3 2.6 .3 4.6 .3-5 .3 1.1 .3-6.9 .3 9.2 .3-2.4 .3 2.6 .3-2.9 .2-2.7 .3-1.3 .3 4.6 .3-1.3 .3-2.4 .3 2.3 .3-1.4 .3 3.3 .3-2.8 .3-2 .3 2.8 .3-1.2 .3 5 .2-4.8 .3-2.1 .3 3.1 .3-.5 .3 1.3 .3-.1 .3-3.1 .3 2.4 .3-.1 .3-2.7 .3 1.5 .3 1.9 .3-4.4 .2 1.2 .3 1.5 .3 1 .3 1.4 .3-4.6 .3 4.1 .3 .8 .3 2.3 .3-4.9 .3-1.2 .3-1.5 .3 5.1 .3 1.8 .3-4.8 .2 2.8 .3 1 .3 .3 .3-3.3 .3 2.6 .3-1.7 .3-2.1 .3 3 .3 .2 .3-3.2 .3 3.5 .3 3.7 .3-8.4 .2 5.3 .3 .6 .3-2.1 .3 .7 .3-1.5 .3 3.9 .3-5.5 .3 1.9 .3-4.3 .3 5.4 .3 .1 .3-4.9 .3 2 .2 3.2 .3-2.3 .3-1.8 .3-3 .3 6.7 .3 3.8 .3-12.2 .3 8.6 .3 0 .3-1.2 .3 .5 .3 0 .3-2.3 .2 7.9 .3 .6 .3-5.7 .3 3.5 .3-6.2 .3 1.4 .3 3.2 .3-5.3 .3-.4 .3 3.9 .3-5.4 .3 8.7 .3-2.3 .3-1.2 .2 1 .3-3.6 .3-.1 .3 4.2 .3 .2 .3-1.8 .3-4.5 .3 2.9 .3 4.5 .3-6.7 .3 1.5 .3 .7 .3-2.3 .2 .4 .3 .7 .3 4.7 .3 1.8 .3-3.3 .3-4.6 .3 2.3 .3 1.1 .3-.3 .3-.3 .3 2 .3-5.6 .3 3.1 .2 1.8 .3 1.1 .3-1 .3-.6 .3-.3 .3-1.3 .3 1.7 .3-.6 .3-1.2 .3 4.3 .3 0 .3-3.6 .3 2.3 .2 1.3 .3-2.2 .3-.3 .3 .8 .3-4.8 .3 .5 .3 4.3 .3-.5 .3 2.4 .3-4.2 .3 3.5 .3-.1 .3 2 .3-6.2 .2 1 .3 1.4 .3-.1 .3-2.8 .3 .9 .3-1.7 .3 8 .3-5.3 .3 .1 .3-1.3 .3 1.3 .3 1.7 .3-2.5 .2 .6 .3 4.8 .3-2.8 .3-1.5 .3-1.5 .3 .8 .3-1.6 .3 2.2 .3-2.2 .3-.1 .3 .6 .3-1.5 .3 2.7 .2 5 .3-6.9 .3-2.3 .3 5.6 .3-2.4 .3 4.5 .3-3.6 .3 1.2 .3-3.8 .3-1.9 .3 3 .3 1.7 .3-3.4 .2-1.7 .3 2 .3 .2 .3 .1 .3 .4 .3 5.1 .3-5.3 .3-1.3 .3-1.5 .3 3.8 .3-5.3 .3 6.2 .3-3.4 .3-3.5 .2 3.4 .3-1 .3 2.6 .3-6.2 .3 3.3 .3-.8 .3 1.7 .3-4.7 .3 .5 .3 5.6 .3-3.2 .3-4.5 .3 3.7 .2-2.4 .3 .2 .3-1.1 .3 4.8 .3-3 .3-2.3 .3 4.1 .3-3.1 .3 2 .3 3.5 .3-4.5 .3 4.1 .3-.3 .2 1.9 .3 .4 .3 .6 .3-1.3 .3 .7 .3-1.7 .3 .6 .3 3.2 .3-2.8 .3 3.5 .3 .2 .3-3.5 .3 3 .2-2.7 .3 2.5 .3-2.1 .3 2.4 .3-.2 .3-2.3 .3 6.4 .3-2.1 .3-5.1 .3 4 .3-1.4 .3 5.1 .3-4.2 .2 1 .3-1.1 .3 1.7 .3-2.3 .3-.6 .3 .8 .3 .2 .3 2.2 .3-1 .3-1 .3 .1 .3-1 .3 2.1 .3-4.2 .2 3.6 .3 2.9 .3-3.1 .3-.5 .3 1.4 .3-1.9 .3 .4 .3 2.9 .3-2.6 .3 5.2 .3-2.8 .3-1.2 .3-1 .2 .7 .3-3.9 .3 4.9 .3 1.3 .3-.6 .3-1.9 .3 2.1 .3 0 .3-1.4 .3 .9 .3 1.4 .3-1.1 .3-1.6 .2 .7 .3 .3 .3-3.3 .3 3.3 .3-.4 .3-4 .3 .9 .3 6.8 .3-3.2 .3 2.4 .3-3.3 .3 3.7 .3-1.9 .2-2.3 .3 1.8 .3 2.5 .3 1.6 .3-3.6 .3-1.8 .3-.8 .3 3 .3 .8 .3-1.8 .3-.4 .3 1.7 .3-.6 .3-.1 .2-3.7 .3 2.3 .3 4.3 .3-3.6 .3 4.6 .3-7.4 .3 2.3 .3 1.1 .3 .6 .3-2.5 .3 1.9 .3-1.3 .3 3.6 .2-3.6 .3 1.1 .3-3.1 .3 .3 .3 2.4 .3-1.5 .3 1.2 .3 1 .3 .6 .3-3.7 .3 2.3 .3 1.6 .3-2.5 .2-1.2 .3 1.2 .3 4.4 .3-3 .3 2.9 .3-3.5 .3 2.8 .3-5 .3 2.3 .3 .7 .3 3.2 .3-2.5 .3 1.3 .2-2.9 .3 0 .3 3.2 .3 .3 .3-.3 .3-.1 .3-3.2 .3 5.1 .3-3.8 .3 2.1 .3-1 .3-4.7 .3-.4 .3 .7 .2 3 .3 2.2 .3-2.6 .3 2.1 .3-4 .3 1.2 .3-.5 .3 1.8 .3-2.3 .3 2 .3 1.3 .3-1.9 .3-.9 .2 .9 .3-1.5 .3 .4 .3 3.5 .3-.9 .3-3.4 .3 2.2 .3 1.4 .3 .7 .3-.3 .3 .7 .3-2 .3 .1 .2-.5 .3 2.6 .3-.4 .3 1.7 .3-1.2 .3-3.7 .3-1.3 .3 .2 .3 1 .3 2.8 .3-3.8 .3-1.2 .3 3.5 .2 1.9 .3 0 .3 1.6 .3-3.2 .3-1 .3 .5 .3-2 .3 1.3 .3 3.7 .3 1.6 .3-1.6 .3-1.8 .3-1.1 .3 1 .2-4.1 .3 4.7 .3 .4 .3-1.7 .3 .3 .3-3.3 .3 4.7 .3-4.1 .3-2.6 .3 4.1 .3 1.8 .3 2.5 .3-4.8 .2 1.6 .3 2.8 .3-1.8 .3-1.3 .3-.5 .3 .9 .3-1.5 .3 3.4 .3-3.5 .3 2.7 .3 .7 .3 .5 .3-2 .2-.1 .3 .6 .3-.5 .3 2 .3-2.3 .3 3.9 .3 1.6 .3-6.5 .3 2 .3-2.9 .3-1.7 .3 4.7 .3-1.2 .2-1.6 .3 2 .3 3.8 .3-.8 .3-2.3 .3-1.9 .3 1.1 .3-1.4 .3-1.1 .3 .8 .3 2.9 .3-.5 .3-.3 .2-2.4 .3-.6 .3 4.6 .3-2.6 .3 2.9 .3-3.6 .3 3.2 .3-1.3 .3-1.3 .3 0 .3 4.4 .3-1.8 .3-2.3 .3 .9 .2-3.3 .3 6.2 .3-.6 .3-3.4 .3 1.6 .3-6.1 .3 7.1 .3-.9 .3-.4 .3 1 .3-4.4 .3 1 .3 .6 .2 .9 .3 2.1 .3-1.7 .3-1.3 .3 1.9 .3-3 .3 6.3 .3-3.4 .3-2.4 .3 2.2 .3 1.7 .3-1 .3 2.8 .2-6.5 .3 5.7 .3-3 .3 1.7 .3 1.6 .3-5.5 .3-.4 .3 1.9 .3-2.4 .3-.7 .3 4 .3 2 .3-3 .2 1.8 .3 6 .3-6.3 .3-1.2 .3 .3 .3 1.1 .3-1.3 .3 1.8 .3-.9 .3 1.4 .3-1.5 .3-.4 .3-1.6 .3-.9 .2 2.1 .3-.2 .3 1.3 .3-.7 .3-.6 .3 5 .3-3.6 .3 1.6 .3-4.2 .3 3.9 .3 .3 .3-1.4 .3-2.5 .2 4 .3-3.7 .3-1.6 .3-.1 .3 3.2 .3-1.1 .3 2.5 .3-.3 .3 1.3 .3-1.9 .3-.4 .3-.2 .3-1.5 .2-.1 .3 .2 .3 1.8 .3-2 .3 1.4 .3 2.2 .3-6.5 .3 2.8 .3-.2 .3 1.8 .3-2.8 .3 1.6 .3 5.5 .2-6.9 .3 2.4 .3 .6 .3-1 .3-1.7 .3 4.2 .3-5.5 .3 1.8 .3 1.3 .3-.7 .3 3.4 .3-2.8 .3 4.1 .3-3.6 .2 2.9 .3-2.1 .3-1.3 .3 0 .3 2.4 .3-2.9 .3 .9 .3-1.4 .3-2.4 .3 4.9 .3 .2 .3-3.5 .3 3.2 .2-1.4 .3-3.1 .3 1.8 .3 3 .3 .7 .3-1.2 .3 4.5 .3-4.6 .3-2 .3-1.4 .3 5.6 .3-3.7 .3 .2 .2-.8 .3 0 .3 .8 .3 1.6 .3 .2 .3-.4 .3 1.1 .3-2.6 .3-1 .3 1.8 .3-3.8 .3 5.5 .3-.6 .2 0 .3-3 .3 1.1 .3 1 .3-2 .3-.1 .3 1.6 .3 .7 .3-1.5 .3 3.1 .3 2.2 .3-3 .3-1.4 .3-.3 .2 3.6 .3-2.4 .3 .6 .3-.8 .3-1.4 .3 3.8 .3-3.2 .3 .7 .3-4.3 .3 8.1 .3-2.7 .3-1.6 .3-1.3 .2 .4 .3-2.1 .3 4.1 .3-2.5 .3 2.4 .3 .1 .3 2.7 .3-3.2 .3 .2 .3 .4 .3-2.1 .3 .7 .3 1 .2 1.6 .3-.8 .3-1.8 .3 2.7 .3-2.9 .3-2.1 .3 5.7 .3-7.9 .3 4.2 .3-1.4 .3 1.4 .3 4 .3-3.3 .2 4.3 .3-4.1 .3 2.1 .3-2.1 .3-.9 .3 .1 .3 .3 .3-1.8 .3 0 .3 3 .3 1.6 .3-2 .3-.2 .2-1.8 .3 3.8 .3-.2 .3-4.1 .3 2.3 .3-.7 .3-2.2 .3 5.8 .3-.8 .3-1.6 .3 2 .3-3.5 .3 1.4 .3 2 .2-3 .3 1.1 .3-2.4 .3 3 .3 1 .3-4 .3 .3 .3 1.4 .3 2.7 .3-3.6 .3-.6 .3 1.4 .3 2.3 .2-4.9 .3 2.5 .3 2.7 .3-2.5 .3-.5 .3 2.1 .3-3.8 .3 6.1 .3-3 .3-1.5 .3 .8 .3-.3 .3-.4 .2-1.7 .3 1.8 .3-2.7 .3 5.7 .3-4.7 .3 .8 .3-.2 .3 2.8 .3-1.7 .3 3.1 .3-3.5 .3 1.1 .3-.4 .2-.5 .3 2.7 .3 .2 .3 .1 .3-4.9 .3 3.2 .3-2.7 .3-.1 .3-1.2 .3 1.6 .3 2.8 .3 1.5 .3 .6 .3-4.8 .2 .5 .3 1.6 .3-.2 .3 .1 .3-3.6 .3-2 .3 6.3 .3-.6 .3-.7 .3-1.1 .3 1.2 .3 3.1 .3-2 .2 1 .3 1.1 .3-5 .3 3.2 .3-.4 .3 1.6 .3-2.9 .3 .1 .3-.8 .3 1.5 .3-.9 .3 .3 .3 .9 .2-1.3 .3-1 .3 .9 .3-.3 .3 1.8 .3 1.5 .3-2.9 .3-3.8 .3 5.5 .3-1.2 .3-1.6 .3 1.3 .3 3.9 .2-6.2 .3 .6 .3 2 .3-5.5 .3 4.8 .3 2.6 .3-.8 .3-.3 .3-1.3 .3 .4 .3 5.3 .3-4.6 .3 2 .3-4.7 .2 2.7 .3 .2 .3-.3 .3-4.3 .3 3.2 .3 3.4 .3-1.6 .3-2.4 .3 3 .3-5 .3 4.5 .3-.5 .3-1.7 .2-.8 .3-1.1 .3 2.6 .3 3.6 .3-1.6 .3-.8 .3 .9 .3-2.8 .3 2.1 .3-6.3 .3 4.4 .3 0 .3 .8 .2-.2 .3 1.4 .3-2.2 .3 2.8 .3-2.1 .3 2 .3-1.4 .3 1.3 .3-.7 .3-1.9 .3 1.4 .3-2.7 .3 2.5 .2 .6 .3-1.2 .3 .2 .3 2.1 .3 .4 .3 .4 .3-3.6 .3 .2 .3 2.3 .3 .1 .3-4.9 .3 6.9 .3-1.5 .3-4.3 .2 4.3 .3-2.8 .3 .5 .3-1.5 .3 .3 .3 .8 .3 .8 .3-2.1 .3 1.8 .3-1.1 .3 .3 .3-.6 .3 .4 .2 4.1 .3-5.8 .3 .5 .3 2.3 .3-.8 .3-1 .3 2.6 .3-2.8 .3 2.1 .3 1.7 .3-.7 .3-1.5 .3 .5 .2 .3 .3 .8 .3-2.8 .3 4 .3-.9 .3 2 .3-1.9 .3 .4 .3-7.2 .3 4.5 .3 4.2 .3-2.7 .3-1.5 .2 2.1 .3-1.1 .3 .6 .3-2.1 .3 2.3 .3 1.8 .3-2.3 .3 .3 .3-2 .3 2.1 .3-1.6 .3-1.7 .3 1.7 .2 .3 .3 1.5 .3 .7 .3-2.1 .3-.3 .3 1.8 .3-2.8 .3 1 .3 .2 .3 .2 .3-.8 .3 4 .3-1.2 .3-2 .2-2.3 .3 1.7 .3 1.9 .3-4.6 .3 8.1 .3-4.7 .3 .1 .3 1.2 .3-3.7 .3 2.7 .3-.1 .3 1.3 .3-3.1 .2 2.9 .3 1.1 .3-1.7 .3-1.5 .3-.5 .3-1.7 .3 2.2 .3 1.9 .3 1.8 .3-.8 .3 .3 .3-3 .3 0 .2-2 .3 1.6 .3-.8 .3 1.6 .3 1.6 .3-1.4 .3-.4 .3 1.9 .3 1.5 .3-.8 .3-5 .3 6.2 .3-4 .2-1.8 .3 2 .3 2.4 .3-6.6 .3 7.2 .3-2 .3 .7 .3-3.5 .3 1.4 .3-1 .3 4.2 .3-3.6 .3 2.1 .3-1.8 .2-1.8 .3 4.5 .3 .6 .3 .6 .3-3.8 .3 1.1 .3 1.2 .3-.7 .3-.2 .3 3.9 .3-5 .3 2.3 .3-2.5 .2 3.5 .3-3 .3-1.3 .3 3.1 .3-1.3 .3-.7 .3 .2 .3-.7 .3 2.1 .3-.4 .3 2.4 .3-4.2 .3 3.8 .2-1.6 .3-3.5 .3 5.2 .3-5.9 .3 4.2 .3-4.3 .3 3.8 .3-1.1 .3 .1 .3-2.9 .3 2.1 .3 3.5 .3-1 .2-1.3 .3-.1 .3-.9 .3 3.8 .3-2.7 .3 2 .3-4.6 .3-.1 .3 5.3 .3-4.1 .3 1.2 .3 1.3 .3 .8 .3-.6 .2-.1 .3 1.9 .3-2.4 .3 1.1 .3-1.5 .3 .2 .3 3.1 .3-3.9 .3-4.1 .3 4.7 .3 .2 .3 3 .3-4 .2-1.5 .3 2.3 .3 3.1 .3-4 .3 2.9 .3-1.4 .3 .2 .3-2.7 .3 1.6 .3-1.6 .3 1.4 .3-1.3 .3 3.2 .2-3 .3 .5 .3-3.7 .3 2.2 .3 6.2 .3-5.2 .3-2.2 .3 2.8 .3-.4 .3-.5 .3 .3 .3-.4 .3 2.5 .2-3.9 .3 2.6 .3 1 .3-3.1 .3 5.6 .3-4 .3-.3 .3-.9 .3 2.4 .3-4.4 .3 3.9 .3 2.9 .3-3.4 .3 .9 .2-3.2 .3 3 .3-2.9 .3 .5 .3 .7 .3 3.4 .3-4.6 .3-2.5 .3 3.6 .3 1.1 .3-.3 .3-.9 .3 2 .2-1 .3-.2 .3-2.4 .3-1.9 .3 5.4 .3-4.6 .3 3.8 .3-.4 .3-4.3 .3 .8 .3 1.8 .3 .8 .3-3.6 .2 1.1 .3-1.5 .3-.5 .3 2.1 .3-1.3 .3-3.1 .3 4.2 .3-1.7 .3-.3 .3-2 .3 3.5 .3-1 .3-.4 .2-1 .3 .5 .3 2 .3-3.1 .3-.3 .3-1.7 .3 1.7 .3-2.2 .3-1.4 .3 3.1 .3-3.1 .3-2 .3-.3 .2-.3 .3-1.9 .3 4.3 .3-2.5 .3-5 .3 4.2 .3-4.3 .3 .1 .3-2.8 .3 .1 .3-1.8 .3-1.1 .3-2 .3-9.7 .2 1.9 .3-1.6 .3-2.9 .3-4.9 .3 .9 .3-.3 .3-4 .3 3.7 .3 5.2 .3-1.4 .3 3.4 .3 2.5 .3 3.1 .2 2.3 .3 2.3 .3-.7 .3 1.5 .3 .3 .3 1.8 .3 .2 .3 2.8 .3 .6 .3-4 .3-1.4 .3 6.7 .3-1.7 .2-1.9 .3 6.2 .3 1.6 .3-5.7 .3 .8 .3 1 .3 .1 .3 1.9 .3-2 .3 2.8 .3-.6 .3 3.7 .3-2.4 .2 2.5 .3 1.7 .3-2.1 .3 .5 .3-2.5 .3 1.4 .3 5.6 .3-2 .3-3.1 .3-.9 .3 .7 .3 3.2 .3-7.5 .3 5.7 .2-3.8 .3 6.8 .3-6.9 .3 5.9 .3-2.9 .3 .8 .3 2.7 .3-5.5"/>
<path stroke="#008080" d="M658.5 485.3l .3 6.7 .3-.5 .3-4.4 .3 4.8 .3 4.9 .3-10.8 .3 12.1 .3-6.4 .3 5.9 .3-8.5 .3 5.1 .2-.9 .3-1.7 .3 2.3 .3-3.7 .3 1.3 .3 .4 .3-2.1 .3 3.2 .3-6.3 .3 6.8 .3 3.5 .3-6.7 .3-.1 .2 8.9 .3-4.2 .3-1.4 .3-.9 .3 4.8 .3-6.6 .3 2.2 .3-.7 .3-4 .3 6.7 .3-2.9 .3-.9 .3-.4 .2 4.2 .3-.9 .3 .3 .3 1.3 .3 3.1 .3-8 .3 4.5 .3-.9 .3 1.8 .3-6.1 .3 3.4 .3 4.2 .3-7.3 .2 3 .3-4.4 .3 3.3 .3 1.2 .3 3.4 .3-.9 .3-4.2 .3 5.2 .3-2.8 .3 1.6 .3-1.5 .3 1.3 .3 2.9 .3 .3 .2-3.2 .3 1.4 .3 1.6 .3-2.7 .3 4.4 .3-1 .3-2 .3-4.2 .3 .8 .3 2.6 .3 .8 .3 3 .3-2.5 .2-1.4 .3-3.6 .3 7.4 .3-1.7 .3 2.2 .3 .5 .3-.3 .3-2.1 .3 4.8 .3-2.7 .3-6.2 .3 5.6 .3-4.6 .2 5.4 .3-2.8 .3 .9 .3 2.8 .3-2 .3 .4 .3-2.8 .3-1.1 .3 1 .3 3.7 .3 3.1 .3-3.5 .3 7.9 .2-11.4 .3 .1 .3 4.6 .3-1.9 .3-2.4 .3 .4 .3 2.6 .3-.9 .3-.4 .3-1 .3 2.3 .3-2.9 .3-1.8 .2 5.3 .3-3.5 .3-.9 .3 3.3 .3 .6 .3-4.9 .3-.4 .3 9.8 .3-4.9 .3-.6 .3 1.3 .3-2.2 .3 .7 .3 .1 .2-.9 .3 .9 .3-.2 .3 .3 .3 1.7 .3 .4 .3-3.9 .3-2.9 .3 6.7 .3-1.5 .3 .8 .3-2.6 .3 2.6 .2 .6 .3 2.4 .3-8.3 .3 3.3 .3 .7 .3 2.2 .3-4.3 .3 .8 .3 .6 .3 1.1 .3-5.1 .3 7.5 .3-6.6 .2 5.6 .3-8.8 .3 6.5 .3-3.8 .3 6 .3-8.1 .3 4.3 .3 2.8 .3-.3 .3 .8 .3-3.5 .3 7.3 .3 .5 .2-5 .3-.7 .3-2.1 .3 4.8 .3-3 .3-1.2 .3 2.9 .3 .3 .3 2 .3-5.1 .3 4.8 .3 2.5 .3-2.2 .3 .8 .2-.7 .3 3.9 .3-7.1 .3-.2 .3 7.3 .3-7.8 .3 2.6 .3-.9 .3 .5 .3 2.3 .3-5.8 .3 6.3 .3-3.3 .2 3.1 .3-.9 .3-1.3 .3 3.5 .3-2 .3-1.1 .3 2.2 .3 .8 .3-4.4 .3 5.3 .3-5.6 .3-1.9 .3 3.8 .2-1.8 .3-.1 .3 .3 .3 2.8 .3-4.2 .3 5.9 .3 1.1 .3-4.6 .3-2.7 .3-3.6 .3 4 .3 1.9 .3 2.1 .2-1.5 .3-.3 .3 0 .3 .5 .3-.9 .3-1 .3 .6 .3 3.4 .3-2.8 .3 1.4 .3-.2 .3-1.2 .3 4.9 .3-.2 .2-3 .3-1.2 .3-.6 .3 4.4 .3 .2 .3-7.7 .3 4.9 .3-.6 .3 .6 .3 2.1 .3 .8 .3 .3 .3-2.4 .2 1.3 .3-6 .3 9.7 .3-3.9 .3-2.8 .3 2.1 .3 .2 .3-.2 .3-3 .3 5.5 .3-1 .3-.2 .3-.6 .2-3.3 .3 5.7 .3-5 .3 1.3 .3-.1 .3 1 .3 .3 .3-.1 .3 3.2 .3 .5 .3-5 .3 1.7 .3 1.3 .2-2 .3 2.5 .3-1.9 .3-1.2 .3 5.9 .3-2 .3 .3 .3 .4 .3-.3 .3 .2 .3-.6 .3 .6 .3-1 .3-1 .2 2.5 .3-.4 .3-3 .3-1.1 .3 3.9 .3-2.6 .3 3 .3 2.4 .3-2.7 .3-2.8 .3 1.9 .3-3.2 .3 5.7 .2-.2 .3 1.9 .3 .3 .3-4 .3-4.1 .3 4.4 .3 .3 .3-1.9 .3 2.8 .3 1 .3 0 .3-1.9 .3-.9 .2 1 .3 .6 .3-2.1 .3 2.9 .3-1.4 .3-.6 .3-.2 .3-.6 .3-.8 .3 2.4 .3 1.7 .3-1.4 .3-1.2 .2-2.5 .3 4.8 .3-5.6 .3 3.9 .3-1.3 .3 .6 .3 1.7 .3-.6 .3-1.7 .3-.7 .3 2.6 .3-.7 .3 1.5 .2-1.5 .3-.9 .3 1.9 .3-1.9 .3 1.6 .3-.3 .3-2.1 .3-2.1 .3 4 .3 .1 .3-.9 .3 2.4 .3 .2 .3-.5 .2-1.9 .3 .8 .3-2.2 .3 2.7 .3-1.7 .3 .7 .3-.4 .3 .1 .3 3.7 .3-5.3 .3 .8 .3 2.6 .3-2.3 .2 2.3 .3-1.8 .3-.5 .3 1.3 .3 .1 .3-1.8 .3 .7 .3-1.3 .3-2.1 .3 5.6 .3-2.9 .3 2.1 .3-3.3 .2 4 .3-.7 .3-.4 .3 3.4 .3-3.5 .3 2.8 .3-5.6 .3 2.7 .3-.8 .3-2 .3-.1 .3 1.8 .3 1.4 .2-2.4 .3 1.1 .3 .8 .3 .3 .3-2.5 .3 1.8 .3-2 .3 1.9 .3 .4 .3 2.1 .3-1.1 .3-3 .3 3 .3-1.7 .2 3.5 .3-3.3 .3 2.6 .3 .3 .3-3.7 .3-.1 .3 5.7 .3-3.7 .3-.3 .3-2.5 .3 1.9 .3 1.8 .3-5.2 .2 1.2 .3 3.9 .3-2.4 .3 .4 .3 2.2 .3-3.6 .3-.1 .3 3.7 .3-3.1 .3 1.3 .3 .3 .3-1.1 .3-.1 .2 .4 .3-.4 .3 2.3 .3-.7 .3-3 .3 3.9 .3-.1 .3-2.1 .3 1.6 .3 1.1 .3-.5 .3-.4 .3-1 .2 1.6 .3-.5 .3-.6 .3-.1 .3-1.8 .3 1.9 .3 1.9 .3-6 .3 2.8 .3 1.7 .3-.3 .3 1.2 .3-.9 .3 1.8 .2-2.8 .3-1.4 .3 1.9 .3-.6 .3 0 .3-.6 .3 1.7 .3-.9 .3-2.7 .3 3.6 .3-1.4 .3-1 .3 2.4 .2-2.7 .3 1.7 .3-3.2 .3 3.6 .3 .2 .3 1 .3-2.4 .3 2.4 .3-3.2 .3 2.3 .3-1.4 .3-1.9 .3 1.9 .2 1.8 .3 .1 .3-1.2 .3-.7 .3 .5 .3-.8 .3 .4 .3 .6 .3 .9 .3-1 .3-.9 .3-.4 .3 0 .2 1.9 .3-.7 .3-.7 .3 .7 .3 1.5 .3-.8 .3-.3 .3-.4 .3-1.4 .3 3.4 .3-2.1 .3-.2 .3-.3 .3-.7 .2 .8 .3 .9 .3 .8 .3-.1 .3 0 .3-2.7 .3 3.1 .3-.9 .3-.4 .3-1.1 .3 1.7 .3-.7 .3 1.5 .2-.2 .3 2 .3-2.7 .3-.9 .3 1.6 .3-.2 .3-.8 .3-.8 .3 .2 .3-.3 .3 1.4 .3 .6 .3 .9 .2-2.5 .3-.9 .3-.3 .3 1.7 .3-.2 .3 .2 .3-2.4 .3 1.4 .3-1.4 .3 3.1 .3-.2 .3-.1 .3-.7 .2 1.9 .3-1.9 .3 .4 .3-1.2 .3 .9 .3 .5 .3-.6 .3-.2 .3-.4 .3 1.1 .3-.6 .3-.8 .3 1.9 .2-1.3 .3-.3 .3 .7 .3-.7 .3 2 .3-2.6 .3 .7 .3 2.6 .3-.9 .3 .8 .3 0 .3-1.3 .3-.9 .3 .2 .2 3.1 .3-2.5 .3 1.3 .3-1.2 .3 .8 .3-1.4 .3 2 .3-2.2 .3-.4 .3 1.1 .3 .3 .3 2.2 .3-4.4 .2 3.9 .3-1.5 .3-.1 .3 0 .3-.3 .3-.7 .3 .8 .3 1 .3-3.2 .3 .7 .3-.2 .3 1.2 .3-.2 .2 .3 .3 .6 .3 1.3 .3 .8 .3-2.7 .3 .4 .3 .3 .3 1.8 .3-.2 .3-3.3 .3 1.7 .3-2.1 .3 2.2 .2-2.7 .3 1.3 .3-1.6 .3 2 .3-1 .3 1.8 .3-3.7 .3 4.3 .3-.9 .3 1.1 .3-1.6 .3-1.9 .3 2 .3 1.7 .2-.8 .3 1.6 .3-2.8 .3-1.5 .3-.3 .3 1.5 .3 .2 .3 .9 .3 .2 .3-1.7 .3 1.6 .3 .5 .3-.5 .2 .4 .3-1.7 .3 1.3 .3-1.1 .3 .9 .3 .3 .3-2 .3-2.8 .3 5.4 .3 .4 .3 0 .3-2.3 .3 1.2 .2-1.4 .3 2 .3-1 .3 1.6 .3-.8 .3-.6 .3 .2 .3-.8 .3-.6 .3 .8 .3 0 .3 1.9 .3-2.5 .2-.2 .3 .5 .3 2 .3-3.3 .3 1 .3-1 .3 1.9 .3 2.4 .3-4.5 .3 2.3 .3 1.1 .3 0 .3-2.4 .3 .1 .2 2.1 .3-1 .3-.9 .3 1.4 .3 .5 .3-2.7 .3 .9 .3 1.8 .3-2.1 .3 1.9 .3-2.9 .3 1.3 .3 .5 .2 1.1 .3-1.1 .3 1.5 .3-1.9 .3 2.8 .3 .5 .3-2.4 .3-2 .3 1.4 .3-.2 .3 .2 .3 .1 .3 2.5 .2 .7 .3-2.7 .3 .5 .3 .2 .3-1.4 .3-.4 .3-.9 .3-.4 .3 1.1 .3 1.2 .3-1.3 .3 .7 .3-.2 .2-.3 .3-.4 .3 1.7 .3-2 .3 3.4 .3-3.1 .3 1.2 .3-1.3 .3 .3 .3 .5 .3 .8 .3 .1 .3-1.9 .3-1.2 .2 3.4 .3-1.6 .3-.2 .3 .8 .3-2.3 .3 3.9 .3-1.5 .3 .9 .3 .2 .3 .1 .3-1.6 .3 2.2 .3-1.1 .2-.1 .3 .8 .3-1.8 .3-2.1 .3 1.4 .3 2.7 .3-1 .3 1.7 .3-2.6 .3 .6 .3-1.5 .3 .8 .3 2.9 .2-1.9 .3-2 .3 2.4 .3 .2 .3-1.4 .3-.1 .3 1 .3 .5 .3-.2 .3-1.3 .3-.5 .3-.2 .3 2.6 .2-1.5 .3-.3 .3 1.3 .3 1.1 .3-.2 .3-1.6 .3-1.1 .3-.3 .3 2.5 .3-2.3 .3 1.6 .3 .4 .3 .8 .2-1.8 .3 1 .3-2.1 .3 .2 .3 3.5 .3-3.1 .3 1.7 .3-.3 .3-.5 .3-1.8 .3 2.4 .3-1.7 .3 1 .3-.2 .2-.7 .3 3.1 .3-3.2 .3 1.9 .3-.9 .3-1.8 .3 2.7 .3 1.6 .3-2.6 .3 .4 .3 1.3 .3-.4 .3-3.7 .2 2.1 .3 2.3 .3-3.6 .3 2.5 .3-2.3 .3 .7 .3-.3 .3 1.5 .3 .2 .3-1.8 .3 1.8 .3-.8 .3 1 .2-3.4 .3 .4 .3 .4 .3 .9 .3 .2 .3-1.9 .3 2.7 .3-.5 .3 1.9 .3-1.7 .3 1.9 .3-2.6 .3-.8 .2 .8 .3-.2 .3-.5 .3 1.1 .3-.9 .3 3.5 .3-1.5 .3 .7 .3-4 .3 3.7 .3-.4 .3-2.6 .3 2.6 .3-1 .2-1.2 .3 .6 .3-2.8 .3 4 .3-1.9 .3 4.2 .3-3.4 .3-1 .3 2.1 .3 1 .3-1.6 .3 .5 .3 .4 .2-2 .3 .5 .3-.2 .3-.5 .3-2 .3 1.1 .3 2.8 .3-2.6 .3 3.4 .3-2 .3 1.8 .3-.9 .3-.8 .2 3.4 .3-1.6 .3-1.8 .3 3 .3-2 .3-1.3 .3 1.5 .3-.9 .3 .7 .3 .7 .3-2.6 .3 1.7 .3 0 .2-.4 .3-.1 .3 2.1 .3-1.2 .3-2.5 .3 1.9 .3-.4 .3 .2 .3-.6 .3-.2 .3 0 .3 2.3 .3 .8 .3-2.7 .2-1.8 .3 2 .3 .4 .3-.3 .3 .5 .3-.9 .3 2 .3-3.4 .3 3.8 .3-2 .3-.1 .3 .4 .3-.4 .2-.1 .3 .4 .3 .4 .3-2.1 .3 2.4 .3-.5 .3-1.9 .3 .5 .3 1.8 .3 1.3 .3-2.1 .3-2 .3 1.7 .2 .5 .3-.2 .3 0 .3 .7 .3-.6 .3-1.9 .3 0 .3 2.9 .3-1.3 .3-.1 .3 .7 .3 .3 .3-2.1 .2-.2 .3 4.2 .3-3.6 .3 .4 .3 .1 .3-1 .3 2.4 .3-1.9 .3 1.6 .3-.4 .3 1.5 .3 .6 .3-2.2 .3 1.8 .2-1.5 .3-1.4 .3 1.4 .3 .5 .3-.3 .3-.2 .3-1 .3 2.4 .3-.1 .3-.9 .3-3.2 .3 2 .3-.5 .2 .8 .3 2 .3-3.2 .3 3.4 .3-1.2 .3-2 .3 1.7 .3 0 .3-.6 .3 1.2 .3-.2 .3-3.6 .3 4.2 .2 .7 .3-4.7 .3 1.5 .3-.2 .3 2.3 .3-.9 .3 1.3 .3-3 .3-1.2 .3 4 .3-.2 .3-1.6 .3-1.3 .2-.2 .3 1.3 .3-.5 .3-2.6 .3 2.7 .3-.8 .3 .2 .3 2.2 .3 .1 .3-.1 .3-.8 .3-1.2 .3-1.7 .2 3.3 .3-1.8 .3 .1 .3 1 .3 0 .3 1.6 .3 1.6 .3-4.4 .3 .9 .3 2 .3-1 .3-.5 .3-.1 .3 1.4 .2-2.5 .3-.8 .3 2 .3-.1 .3-2.6 .3 3.5 .3-.7 .3 .9 .3 .3 .3-1.3 .3-2.6 .3 2.3 .3 2.6 .2-2.4 .3-1.7 .3 1 .3-.6 .3 2 .3-2.8 .3 1.5 .3-.5 .3 .7 .3-5.2 .3 4.8 .3 1.4 .3-.6 .2-1.1 .3 2.3 .3-3.9 .3 2.2 .3 0 .3 2 .3-3.4 .3-.3 .3 2 .3 .5 .3-2.3 .3 3 .3-3.4 .2 .8 .3 1.4 .3-2.3 .3 3.9 .3-3.3 .3 .6 .3 3.3 .3-2.2 .3-2.1 .3 4.1 .3-2 .3-1.7 .3-.5 .3-1.4 .2 1.8 .3 2.3 .3-3.3 .3 3.8 .3-.5 .3-4.2 .3 3.4 .3 .1 .3 0 .3-2.5 .3 1.5 .3 .4 .3-.6 .2 .1 .3 .1 .3 1.5 .3-.6 .3 1.7 .3-4.1 .3 .5 .3 .7 .3 0 .3 2.6 .3 .1 .3-2.4 .3 1.9 .2-3.3 .3 3 .3-4 .3 .8 .3 .4 .3-.8 .3 .9 .3-1.2 .3 3.5 .3-2.5 .3-.3 .3 .8 .3 1.9 .2-1.9 .3-1.6 .3 2.8 .3-1.5 .3-1.2 .3 2.4 .3-.2 .3 .1 .3-.7 .3-.9 .3 1.7 .3-.9 .3 .5 .3 1.1 .2 .6 .3-3.5 .3-1.9 .3 3.5 .3-.3 .3 .2 .3-1.3 .3 1.1 .3-.9 .3 1 .3-2.5 .3 2.2 .3-.4 .2 3.6 .3-2.4 .3-.1 .3 .2 .3 1.1 .3-1 .3-.2 .3-1.8 .3-1.1 .3 5 .3-5.1 .3 .8 .3 2.7 .2-.9 .3-.1 .3-1.7 .3 2.1 .3-2.6 .3 1.1 .3 0 .3 .1 .3-1.9 .3 1.6 .3 1 .3-3.7 .3 1.3 .2 .5 .3-2.5 .3 2.5 .3 1.5 .3-2.2 .3 2.1 .3-1.8 .3 3.6 .3-3.4 .3 .3 .3 2.1 .3-2.7 .3-1.2 .3 3.5 .2 .8 .3-3 .3-.6 .3 .8 .3-1.5 .3 .7 .3-.6 .3-.2 .3 .8 .3 2.7 .3-2.3 .3-.3 .3 1.3 .2-.7 .3 2 .3-.7 .3-2.9 .3 1.2 .3-1.1 .3 .9 .3-1 .3 .9 .3 1.5 .3-1.9 .3-2 .3 2 .2-.4 .3 2.7 .3-4.2 .3 2.7 .3-2.7 .3 2.5 .3-.9 .3-1 .3-1.4 .3 4.2 .3-3.8 .3 .7 .3 .2 .2 1.4 .3-2.9 .3 .8 .3 1.5 .3-1.5 .3 1.1 .3-.9 .3-2.9 .3-1.8 .3 5.2 .3-.8 .3-1.2 .3 2.2 .2-1.4 .3-1.8 .3 1.3 .3 .2 .3-2.1 .3 1.3 .3-1.6 .3 .3 .3-1.3 .3-1.7 .3 3.2 .3-.4 .3 0 .3-.3 .2-2.6 .3 .1 .3 .4 .3 1.7 .3-.7 .3 .1 .3-4.3 .3-.5 .3 0 .3-1.5 .3 1.8 .3 1.3 .3-2.9 .2-.9 .3 1.6 .3-4 .3 .4 .3-.2 .3-.6 .3-2.6 .3 1 .3-.6 .3-.4 .3-.5 .3-4 .3 1.4 .2-2 .3 .4 .3-2.1 .3-2.6 .3-1.5 .3-2.1 .3-.1 .3-4.1 .3-5.1 .3 2.2 .3-1.8 .3-7.1 .3-1.8 .2-.9 .3-3.9 .3-4.7 .3-3.5 .3-2.6 .3-3.5 .3-5.5 .3-6 .3-6.6 .3-4.7 .3-6.7 .3-7.4 .3-4.6 .3-8.9 .2-7.6 .3-7 .3-9 .3-8.4 .3-9.5 .3-4.2 .3-13.7 .3-8.6 .3-7.6 .3-2.9 .3-7.4 .3-6.9 .3-.5 .2-8 .3-.5 .3-.9 .3 1.8 .3 3 .3 3.9 .3 12.2 .3-.9 .3 8.9 .3 7.5 .3 8.5 .3 5.4 .3 9.8 .2 8.9 .3 10.4 .3 6.2 .3 6.7 .3 8.9 .3 10 .3 5.8 .3 7.8 .3 4.7 .3 2.6 .3 10.2 .3 3.9 .3 3.1 .2 4.7 .3 5.8 .3 2.4 .3 6.2 .3 4 .3-.9 .3 5.6 .3 3.5 .3 1.1 .3 3.4 .3 .5 .3 3.7 .3-1 .3 3.2 .2 3.5 .3 3.8 .3-2.6 .3 2.1 .3 2.5 .3-.2 .3 2.4 .3 .7 .3-2 .3 2.8 .3 2.6 .3 0 .3 2.2 .2-1 .3 .7 .3-.1 .3 .2 .3 .7 .3 .3 .3 .8 .3 .7 .3 .7 .3 2.1 .3-.4 .3 .7 .3-4.2 .2 3.2 .3-.6 .3-.4 .3 1.1 .3 2.1 .3-2.4 .3 .5 .3 2.8 .3 .9 .3-1.1 .3 1.2 .3 .2 .3 1 .2-2.3 .3-.4 .3 4.6 .3-2.6 .3 1.7 .3-2.2 .3 .6 .3-.4 .3 3.1 .3-4.2 .3 1 .3 .8 .3 2.6 .3-2.8 .2 .4 .3 .5 .3 1.4 .3-1.8 .3 .5 .3-.3 .3 .6 .3 3.3 .3-1.7 .3-.6 .3 .9 .3-2.2 .3-.4 .2 2.7 .3-2.6 .3 1.7 .3-1.4 .3 2.2 .3 1.5 .3-2.1 .3 2.9 .3-.8 .3-1.8 .3 2.3 .3-.1 .3-.9 .2 .6 .3-1.6 .3 2.1 .3 2.2 .3-3.1 .3-.6 .3-.5 .3 3.4 .3-.9 .3-.8 .3 .5 .3-1.7 .3 .7 .2 .5 .3 .7 .3 .8 .3-.2 .3-2.9 .3 3.5 .3-.4 .3-1.3 .3 .6 .3 .8 .3 1.4 .3-1.1 .3 .3 .2-.1 .3-.3 .3-1.4 .3 1.7 .3-1.7 .3-1.6 .3 3.9 .3 1 .3-1.6 .3-1.1 .3 1.1 .3 .4 .3 .4 .3-.9 .2-.1 .3-.2 .3-.2 .3-1.3 .3 3.5 .3-.5 .3-2.9 .3 1.6 .3-1 .3 2 .3-1.9 .3 .4 .3-3.1 .2 4.1 .3-1.4 .3 1.5 .3 .1 .3 2.3 .3-3.2 .3 .7 .3-.2 .3-1.5 .3 .9 .3 1.8 .3 .1 .3-3.5 .2 3.1 .3 .6 .3 .6 .3 1.1 .3-.7 .3-2.1 .3-2.2 .3 1.3 .3 1.1 .3-.9 .3 1.6 .3-1.9 .3-.8 .2 1.1 .3-.9 .3-1 .3 3.1 .3-1 .3-.1 .3-.5 .3 2.2 .3-.9 .3-.4 .3-.6 .3 1.5 .3-.1 .3 1.2 .2-2.6 .3 2.3 .3-1.3 .3 .4 .3-.8 .3 2.4 .3-1.1 .3-1.8 .3 1 .3-.2 .3-2.8 .3 3.7 .3 0 .2-1 .3 2 .3-.6 .3-1.2 .3 .2 .3 2.2 .3-3.4 .3 4.2 .3-2.4 .3 1.6 .3-3.4 .3 1.1 .3-.2 .2-.7 .3 4.3 .3-2.1 .3-.6 .3 .1 .3 2.1 .3 0 .3-1.4 .3 .1 .3-2.2 .3 2 .3 .4 .3-1.3 .2-2.6 .3 1.4 .3 1 .3 .6 .3-1.5 .3 2.3 .3-2.6 .3 4.5 .3-2.1 .3 .7 .3-1.8 .3 .5 .3-2.2 .3 .8 .2 1.3 .3-.4 .3 0 .3 .7 .3 .5 .3-2.4 .3 2.7 .3 .8 .3-3.6 .3-.8 .3 3.2 .3-1.9 .3 1.5 .2-.3 .3-.2 .3 .2 .3 1.3 .3-1.7 .3 1.8 .3-1.7 .3-.4 .3 3.2 .3-2.8 .3 .4 .3-.4 .3-.4 .2 0 .3 1.8 .3-1.1 .3 2.3 .3-1 .3-1.2 .3-1.3 .3 .4 .3 .9 .3 0 .3-.3 .3-.3 .3 2.3 .2-2.4 .3-.7 .3 2.4 .3-.1 .3-2.1 .3 1.6 .3 .7 .3-2.8 .3 .9 .3 .1 .3 1 .3-3.8 .3 4.2 .3-1.1 .2-1.7 .3 1.8 .3-.3 .3 2.8 .3-.2 .3-.5 .3-3.1 .3 1.7 .3-.1 .3 .7 .3-.2 .3-1.1 .3 1.5 .2-1.1 .3 1.4 .3-.7 .3 .4 .3 3.1 .3-3.8 .3 1.4 .3-2.7 .3 3.2 .3-2 .3-1.7 .3 3.9 .3-3.2 .2 3.1 .3-2.3 .3-1.4 .3 1.4 .3 2.8 .3-1.7 .3-.6 .3 .4 .3 .3 .3 .1 .3 .6 .3-.8 .3 .7 .2-2.9 .3 .1 .3 1.2 .3-.8 .3 1.1 .3 .6 .3-.9 .3 .3 .3 .8 .3-.8 .3-.2 .3 .7 .3-2.2 .2 2.9 .3-3.1 .3 1.8 .3-.5 .3-.7 .3 1.1 .3 1.2 .3-.7 .3 0 .3-4.2 .3 6.1 .3-2.4 .3 .4 .3-.1 .2 1.8 .3-.3 .3-1.7 .3 1.7 .3-.1 .3-2.1 .3 1.3 .3-1.8 .3 .6 .3-2.2 .3 1.2 .3 1.3 .3 1.5 .2 .8 .3-2.9 .3 2.5 .3-.8 .3-3.8 .3 3.9 .3-2.6 .3 0 .3 2.3 .3-1.7 .3-.3 .3 5.4 .3-7.5 .2 1.5 .3 2.2 .3-.4 .3 .9 .3 1.7 .3-5.6 .3 .9 .3 4.1 .3-.5 .3-1.5 .3-.4 .3 1.8 .3 1.8 .2-1.2 .3-2.5 .3-.7 .3 2.2 .3-2.5 .3 .9 .3-1.2 .3 2.5 .3 .4 .3 .5 .3-2.3 .3 1.4 .3 1.4 .3-1.6 .2 1.8 .3-2 .3-1 .3 3.1 .3-3.3 .3 2.1 .3-.8 .3-.7 .3 .2 .3 1.7 .3-1.4 .3-.2 .3-2.3 .2 1.3 .3-.7 .3 1.4 .3 1.6 .3 .3 .3-.9 .3-2.2 .3 2.1 .3 1.4 .3-3.6 .3 1.5 .3 1.3 .3-2.6 .2 4.2 .3-3.3 .3 1.1 .3-.6 .3-.7 .3 2 .3-2 .3-.2 .3-.8 .3 1 .3 1.4 .3 1.1 .3-4 .2 .8 .3 3.5 .3-5.5 .3 3.9 .3-2 .3 1.5 .3 0 .3-.4 .3 .9 .3-1 .3 .6 .3 1.3 .3 1.9 .3-1 .2-.1 .3-2.5 .3-1.5 .3 2.6 .3 1.9 .3-2.5 .3-.7 .3 1 .3 .2 .3-2 .3 1.1 .3 1.3 .3-2 .2 0 .3-2.1 .3 3.1 .3 .3 .3 0 .3 .6 .3-1.5 .3-.3 .3-.9 .3 1.9 .3 1.7 .3-.3 .3-2.4 .2 2.8 .3-2.4 .3-.5 .3 1.7 .3-1.9 .3-.4 .3 1 .3-.6 .3-.5 .3 3.6 .3 1.3 .3-1.2 .3-2.2 .2-1.5 .3 1 .3 1 .3-.1 .3 1.5 .3-.3 .3-.9 .3-.1 .3-1.1 .3 1.7 .3 .2 .3-1 .3 1.2 .3-1.3 .2-.8 .3 2.4 .3-2.7 .3 4.6 .3-3.3 .3 2 .3-2.7 .3-1.5 .3 3 .3-.7 .3-1.4 .3 1.7 .3 .2 .2-1.9 .3 2.2 .3-2.5 .3 .2 .3 .4 .3 2.8 .3-4.2 .3 3.2 .3-.8 .3 .4 .3-2.3 .3 2.9 .3-3 .2 .1 .3 3.8 .3-1.6 .3-1.6 .3 2 .3-2.5 .3 3.7 .3-2.3 .3-1.6 .3 1.7 .3-1.6 .3 3.1 .3-2 .2 2.2 .3-.4 .3 1.2 .3-.8 .3 .3 .3-1.6 .3-1 .3 2.6 .3-3.3 .3-.9 .3 2.9 .3-.3 .3 1.5 .2-.5 .3-2 .3 2 .3-1.6 .3-2.2 .3 1.6 .3 1.3 .3-.6 .3 .9 .3-.8 .3 .3 .3 .3 .3 .4 .3-.7 .2-2.7 .3 3.7 .3-1.8 .3-1.7 .3 3.2 .3-2 .3 .1 .3 2 .3-2.1 .3 .8 .3-.3 .3 1.2 .3 2.6 .2-4.9 .3 .5 .3 .8 .3-2.7 .3 2.3 .3-.9 .3 1.4 .3 1.6 .3-.4 .3-1.8 .3 .2 .3-.5 .3 2.5 .2-1.3 .3 .9 .3 .7 .3-3 .3 .3 .3-.8 .3 4.4 .3-2.3 .3 2.3 .3-2.4 .3 .8 .3 1.4 .3-.2 .2-2.6 .3-.5 .3 2.6 .3 .8 .3-2.6 .3 2.4 .3-4.3 .3 .4 .3-.4 .3 .4 .3 2.7 .3-1 .3 .8 .3-.4 .2-2.2 .3 2.9 .3-2.4 .3 2.3 .3-1.2 .3-.2 .3 .3 .3 .9 .3-.2 .3-1.9 .3 3.7 .3-3.9 .3-1.5 .2 3.4 .3-3.1 .3-.3 .3 6.2 .3-2.5 .3 2 .3-4.1 .3 .7 .3 .2 .3-.5 .3 .3 .3-1 .3 2.4 .2 1.5 .3-2.3 .3 2.2 .3-2 .3-2.3 .3 .7 .3 2.2 .3-.6 .3 .6 .3 .5 .3-2.5 .3 1 .3 .1 .2-.4 .3 .6 .3-1.9 .3 3.2 .3-2.5 .3 2.2 .3 1.1 .3-.1 .3 1.8 .3-5.1 .3 4.4 .3-3.8 .3 1.4 .3-2 .2 5.2 .3-3.2 .3-1.3 .3-1.2 .3 2.5 .3-.2 .3-.5 .3-.3 .3 1.1 .3-.8 .3 2.5 .3-5.3 .3 2.5 .2 1.2 .3-2.7 .3 .8 .3 4.9 .3-3.7 .3-1.2 .3 .2 .3 1 .3-3.5 .3 5 .3-4 .3 3.2 .3-.9 .2 2.4 .3-2.3 .3-2.8 .3 2.4 .3 2.8 .3-2.3 .3-.2 .3 .1 .3 3.7 .3-4.3 .3 3.1 .3-4 .3 0 .2 2.7 .3-3.1 .3 2.7 .3-1.6 .3 .1 .3 .2 .3-1.7 .3 1.2 .3 .5 .3-1.4 .3 .8 .3-1.2 .3 3.8 .3-1.7 .2 .3 .3-1.2 .3 1.6 .3-.4 .3 1.4 .3-.1 .3-3.3 .3 4.3 .3-.8 .3-3.6 .3 1.7 .3 2.8 .3-3.2 .2 3.3 .3-5.1 .3 1.7 .3 .9 .3-.3 .3 .8 .3-.1 .3-3.2 .3 2.3 .3 .4 .3 .9 .3 .6 .3-.5 .2-2.4 .3 .6 .3-.8 .3 4.4 .3-.5 .3-1.2 .3-2.2 .3 2.7 .3-.8 .3-.1 .3-1.9 .3 2.1 .3 .2 .2-1.1 .3-.1 .3 .6 .3 .8 .3-2.2 .3 1.7 .3-.2 .3 .1 .3-1.7 .3 0 .3 .8 .3 .9 .3-.4 .2 .2 .3-.3 .3-1.7 .3 1.3 .3 0 .3-.6 .3 .2 .3 .7 .3-1.5 .3 2.2 .3 2.1 .3-3.2 .3-.4 .3 1.7 .2-1.5 .3 .3 .3-1.6 .3 2.2 .3-2.6 .3 4.1 .3-.3 .3-.7 .3 .9 .3-2.5 .3 1.9 .3-1.5 .3-1.8 .2 .6 .3 .5 .3-1.5 .3 4.1 .3-1.7 .3-2.4 .3 3.3 .3 .3 .3 .4 .3-4.1 .3 3 .3-.5 .3-.4 .2 .1 .3 .6 .3-.5 .3-1.4 .3 1.7 .3 .2 .3-.8 .3-.7 .3 .6 .3 .5 .3-.3 .3-.4 .3-.7 .2 .4 .3 .6 .3 .2 .3-1 .3 1.2 .3-.4 .3-1.1 .3 1.4 .3 2.6 .3-1.4 .3-.8 .3 1.1 .3-.2 .3 0 .2 .8 .3-1.9 .3-1.3 .3 3.4 .3-2.2 .3 1.2 .3-2.9 .3 1.7 .3-1.3 .3 .6 .3-1 .3 1.2 .3 1.1 .2 1.5 .3-2.8 .3 1.7 .3-.4 .3-.1 .3-1.9 .3 2.3 .3-.5 .3-.9 .3-1.3 .3 3.1 .3 0 .3-2 .2-.1 .3-1.9 .3 3 .3 1 .3 .2 .3-1.6 .3 0 .3-1.2 .3 0 .3-.7 .3 2.9 .3-2.3 .3 1.4 .2 2 .3-2.8 .3 .1 .3 .6 .3-.3 .3-1.6 .3 4 .3-.9 .3-1.1 .3-1.3 .3 1 .3 .2 .3 .4 .3 2.4 .2-2.2 .3-.5 .3 .5 .3 .2 .3-1.3 .3 0 .3-.4 .3 2.3 .3-4.1 .3 2.5 .3 .4 .3 1.1 .3-2.8 .2-.1 .3 1.3 .3 .2 .3 2.1 .3-2.1 .3 1.7 .3-1.5 .3 .6 .3 1.2 .3-1.6 .3-1.8 .3 2.2 .3-2.1 .2 .9 .3 1.6 .3-2.9 .3 1.5 .3-.5 .3 .1 .3-.3 .3 1.5 .3 2.7 .3-3.3 .3-.4 .3 .1 .3 .1 .2-.7 .3 3.2 .3-2 .3-.8 .3 1.3 .3-1.3 .3 1.8 .3-2.6 .3-.3 .3 1.9 .3 1.7 .3-4.1 .3-1.5 .3 3.5 .2 1.4 .3 .1 .3-2.1 .3-.3 .3 1.1 .3-.5 .3 0 .3 1.1 .3-.2 .3-.6 .3 0 .3 .7 .3-.4 .2-2.2 .3 3.3 .3-2.3 .3 4.6 .3-3.5 .3-1.2 .3 2.9 .3-1.9 .3-.8 .3 1.7 .3-1.4 .3 2.5 .3-.8 .2 1.9 .3-3.5 .3 .2 .3-.8 .3-.4 .3-.5 .3 .6 .3 2.9 .3 .2 .3-.7 .3-1.7 .3-.5 .3 1.7 .2-.3 .3-.6 .3 .5 .3-1.7 .3-.4 .3 1.1 .3-1.2 .3-1.6 .3 3.7 .3 0 .3-1.5 .3 1.8 .3 .3 .2 1.4 .3-1.6 .3-1.2 .3-.1 .3 1.7 .3-2.2 .3 1.6 .3-2.2 .3 2 .3 .3 .3 .3 .3-1.1 .3 .9 .3-1.4 .2-.2 .3 2.7 .3-1.2 .3-.7 .3 .1 .3 .9 .3-.3 .3-1.7 .3 3.4 .3-2.1 .3 2.5 .3-.5 .3-1.7 .2 .9 .3-3.2 .3 2.3 .3 .4 .3 1.3 .3-2.1 .3 3 .3-2.9 .3 1.6 .3 .6 .3-2.1 .3 2.2 .3-1.2 .2-2.8 .3 1 .3-.1 .3 3.4 .3-.3 .3-.2 .3-1.3 .3 .4 .3-1.1 .3-.1 .3-.5 .3-.2 .3 1.2 .2 0 .3-1.1 .3 .3 .3 3 .3-1.5 .3-.1 .3 1.6 .3-2.2 .3 .8 .3 1.9 .3-3.1 .3 .2 .3 2.1 .3-2.5 .2 2.8 .3-3.5 .3 .7 .3 1.8 .3-1.8 .3 .5 .3 2.1 .3-3.3 .3 1.6 .3-.2 .3 .1 .3 2.3 .3-4.4 .2 1.8 .3-1.6 .3 3.4 .3-1.4 .3 .1 .3-.6 .3-1.8 .3 .5 .3 2.3 .3-.9 .3 .5 .3-.3 .3-1.9 .2 2.3 .3-.3 .3 2.2 .3-.7 .3-1.1 .3-.8 .3-1.5 .3 2.5 .3-.9 .3-.2 .3-.1 .3-.1 .3 .1 .2 .6 .3-1.9 .3 3.6 .3-2.2 .3-.9 .3 1.2 .3-.4 .3 1 .3-1 .3 .4 .3-.5 .3 1.5 .3-2 .3-.1 .2 .8 .3 .9 .3-2.7 .3 .3 .3 1.5 .3 1.9 .3-.4 .3-1.7 .3-1.7 .3 4.6 .3-4.4 .3 2.3 .3-2.1 .2 .7 .3 1.7 .3-1.7 .3 .4 .3 .1 .3 .1 .3 3.1 .3-3.3 .3-.8 .3 3.1 .3-4.4 .3 3.3 .3 1.3 .2-.5 .3-.7 .3-1.7 .3 1.9 .3-2.3 .3 .2 .3 4.2 .3-1.1 .3 .4 .3-3.6 .3 1.4 .3 .4 .3-1.4 .2 2.6 .3-2.1 .3 0 .3 2.2 .3 .8 .3-4 .3-.8 .3 1.5 .3 1.7 .3-.2 .3-.7 .3-.8 .3 0 .3-1.1 .2 2.8 .3-.2 .3-1.2 .3 3.5 .3-2.4 .3-.1 .3-2.5 .3 3.7 .3-5.6 .3 4.6 .3 .1 .3-1.8 .3-1.9 .2 3.3 .3 .8 .3-2.9 .3 2.8 .3 .5 .3 .4 .3-.4 .3-4.2 .3 3.9 .3-2.5 .3 1.6 .3-.7 .3 2.4 .2-1.8 .3 .9 .3-.6 .3 .3 .3 .2 .3-.9 .3-1.5 .3 1.8 .3-1 .3 .4 .3 .3 .3 0 .3-.2 .2 4.1 .3-.5 .3-4.1 .3-1.1 .3-.8 .3 1.6 .3 .2 .3 .6 .3-.7 .3 1.7 .3-.5 .3-.6 .3 1.7 .2-.1 .3-1.3 .3-1 .3 2.2 .3 .8 .3-2.6 .3-.2 .3-.7 .3-.6 .3 0 .3 2.3 .3-.3 .3-1.7 .3 1.7 .2-.1 .3-1 .3 1.9 .3 0 .3-.5 .3 1.5 .3-1.7 .3-.1 .3-1 .3 1.4 .3 .3 .3-.7 .3 0 .2-1.1 .3 2 .3-1.4 .3 .6 .3-2.9 .3 2.7 .3-1.1 .3 .3 .3 0 .3-.8 .3-.6 .3 3.3 .3-.9 .2-.9 .3 1.1 .3-.7 .3-.9 .3 1.3 .3 1.1 .3 .4 .3-2.1 .3 2.4 .3-4.1 .3 2.9 .3 1.1 .3-.2 .2-.7 .3-7.5 .3 5.7 .3-.6 .3 1.6 .3-1.4 .3 1.6 .3-1.4 .3-2 .3 5.9 .3-2.3 .3-3.7 .3 .4 .3 2.7 .2-1.3 .3 1.5 .3-.9 .3 1.7 .3 0 .3-.7 .3-4.1 .3 6.1 .3-1.7 .3 2.6 .3-4.2 .3 1.3 .3 .4 .2 .6 .3 1.2 .3-1.3 .3 2.1 .3-3.1 .3-2.5 .3 2.6 .3-1.3 .3 1.4 .3 0 .3-.7 .3-1.3 .3 2.4"/>
<path stroke="#0000ff" d="M125.7 692.9l .3-13.4 .3 11 .3-2.4 .3 3.4 .3-2.5 .3 3.9 .2-4.9 .3-1.4 .3 3 .3-.4 .3-2.2 .3 .3 .3 2.7 .3-7.6 .3 4.3 .3 .3 .3-3.9 .3 9.5 .3-5.1 .2 4.2 .3-2.5 .3 4.2 .3-1.1 .3-3.3 .3 3.1 .3-6.5 .3 6 .3-7.5 .3 5 .3 2 .3-2.3 .3-1.6 .3-1.2 .2 1.3 .3 3.8 .3-.5 .3-3.1 .3-2.6 .3 5.2 .3-10.5 .3 7.2 .3-.5 .3 4 .3-1.4 .3 .7 .3-.5 .2-2.6 .3 3.3 .3 2.4 .3-3.9 .3 1.8 .3-2.1 .3 3.2 .3-1 .3 .6 .3-1.4 .3 3.5 .3-5.4 .3 .1 .2-.7 .3 3.2 .3-3.3 .3 0 .3 3.7 .3 1.2 .3-1.6 .3-8.8 .3 4.7 .3-.3 .3-.4 .3 2.2 .3 6 .2-5.7 .3-1.2 .3 3.9 .3-1.7 .3 .2 .3-2.2 .3 1.8 .3 1.2 .3-6.3 .3 .8 .3 7.3 .3-.6 .3-3.7 .3-1.3 .2 2.2 .3-2.7 .3 2.3 .3 5.4 .3-4.1 .3 2.8 .3-3.7 .3 1.6 .3 2.7 .3-7.3 .3 2.7 .3 .5 .3 1.2 .2 3.4 .3-2.3 .3-5.9 .3 3.3 .3-1.6 .3-.1 .3 7.9 .3-8.2 .3 3.5 .3-2.6 .3 4.2 .3-1.3 .3-.6 .2-.5 .3 3.2 .3-5.5 .3 .6 .3-1.1 .3 6.6 .3-4.4 .3-9.7 .3 9.4 .3 7.8 .3-6.9 .3 2.5 .3-1 .2-1.2 .3-1.9 .3 1 .3 0 .3-5 .3 12.9 .3-4.5 .3-2.1 .3-.9 .3-1.5 .3 4.6 .3-3 .3 1.8 .2-5 .3 4.7 .3 4.4 .3-6.1 .3 2.9 .3-2 .3 2.8 .3-.1 .3-2.6 .3-1.7 .3 2.3 .3-.7 .3-1.7 .3 2.8 .2 0 .3-3.5 .3 2.1 .3 8 .3-5.5 .3-2 .3 6.5 .3-7.9 .3-5.4 .3 1.6 .3 1 .3 4.7 .3 1.9 .2-8.3 .3 8.7 .3-6.2 .3 4 .3 .5 .3 0 .3-1.2 .3 .5 .3-3.5 .3 3.8 .3 1.9 .3-.2 .3 4.5 .2-4 .3-1 .3 2.5 .3-3.7 .3-4.1 .3-2.5 .3 9.3 .3-1.8 .3 .7 .3-3.1 .3 1.8 .3 4.1 .3-4.1 .2-3.8 .3 1.8 .3 4.8 .3-6.5 .3-4 .3 .8 .3 2.5 .3 5.7 .3-1.9 .3-2.2 .3-1.4 .3 3.1 .3-.1 .3-1.1 .2 .9 .3-1.4 .3 6.8 .3-11 .3 6.6 .3-3 .3 4.6 .3-2.5 .3 1.6 .3 .4 .3-.8 .3 2 .3-6.2 .2 6.2 .3-3.1 .3 1.6 .3 3.1 .3-1.1 .3 2.2 .3-11.1 .3 3.4 .3 5.1 .3-5.5 .3 2.5 .3 4.9 .3-2.1 .2-4.8 .3 3.7 .3 .5 .3-1.5 .3-.4 .3 .6 .3-4.3 .3 4.3 .3-2.9 .3 3.6 .3 .1 .3-3.5 .3 4 .2-.7 .3-1 .3 2 .3-2.7 .3 .1 .3 1 .3-.4 .3 3.2 .3-9.2 .3 5.4 .3-4.5 .3 3.9 .3 2 .3-.6 .2 2.5 .3-1.7 .3-8 .3 4.2 .3 .9 .3 6.1 .3-3.8 .3-4.3 .3 9.7 .3-11.1 .3 6.3 .3-.9 .3 .7 .2-3.7 .3 2 .3 3.9 .3-4.1 .3-2.3 .3 3.6 .3 .2 .3-.5 .3-1.7 .3 3.4 .3-1.7 .3-2.7 .3 3.6 .2-.6 .3 .5 .3-4.8 .3 2.4 .3 3.2 .3 1.3 .3-1.6 .3-.4 .3 1.5 .3 .7 .3 2 .3-3.3 .3-2.7 .2 2.7 .3-6.2 .3 5.2 .3-1.3 .3 1.1 .3 1.4 .3-1.1 .3-3.9 .3 2.8 .3-1.1 .3 2 .3 1 .3-3.4 .3 4.4 .2 1.5 .3-4.1 .3 2.6 .3-5.7 .3 2.5 .3 3.9 .3-7.1 .3 3.3 .3-1 .3 5.3 .3 0 .3-4.6 .3 2 .2-7.1 .3 9 .3-1.3 .3 2.5 .3-9.5 .3 7 .3-1.8 .3-5.8 .3 5 .3 1.6 .3 2.2 .3-1.5 .3-1.8 .2 2.4 .3-1.4 .3-1.4 .3-.9 .3 3 .3 .1 .3 4.3 .3-5.9 .3 5.3 .3-3.2 .3 2.1 .3-5.3 .3 .1 .2 1.4 .3 3.1 .3-1.8 .3 1.5 .3-1.1 .3 1.8 .3-2.1 .3-1.8 .3 2.6 .3-1 .3 4.2 .3-4.9 .3 .7 .2-1 .3 3.7 .3-.7 .3-.5 .3-4.9 .3-.7 .3 4.6 .3 1.2 .3 1.9 .3-8.3 .3 4.1 .3-3.8 .3 1.8 .3 1.9 .2 3.1 .3-3.8 .3-.5 .3 1 .3 4.1 .3 2.9 .3-10.1 .3 3.3 .3-.4 .3 4.1 .3-1.9 .3 2.9 .3-6.5 .2 2.6 .3-1.2 .3-1.6 .3 2.4 .3-2.6 .3 8.5 .3-4.4 .3-3.7 .3 1.1 .3 5.9 .3-5.6 .3 3 .3-.3 .2 1.4 .3-1.2 .3-2.1 .3-1 .3-3 .3 4.4 .3 .5 .3-1.3 .3 .6 .3-2.7 .3 8.6 .3-6.8 .3-1.3 .2 1.1 .3 1.1 .3 2.3 .3-14.5 .3 13.9 .3-2.8 .3 1.1 .3 3 .3-.6 .3-3.6 .3 1.5 .3 4.9 .3-1.2 .3-1.3 .2-2.2 .3 2.5 .3-1.5 .3-2.4 .3-1.1 .3 3.9 .3-.4 .3 2.1 .3-4.3 .3 4.8 .3-4.5 .3 4.1 .3-1.7 .2-2.9 .3-.9 .3 2.1 .3-.4 .3 3.1 .3-4.1 .3-2 .3 3.7 .3 4.9 .3-.7 .3-5.7 .3 .8 .3 1.5 .2-2.4 .3 1 .3 0 .3-2 .3 1.1 .3 .3 .3 1.9 .3-3.6 .3 3.2 .3-2.7 .3 .4 .3-.7 .3 12.9 .2-6.9 .3 .2 .3-1.4 .3-7.1 .3 5.3 .3 .5 .3 .4 .3 .4 .3 2.4 .3-11.3 .3 6 .3 3.1 .3-2.6 .3 .6 .2 4.1 .3-3.3 .3 4 .3-4.5 .3 .7 .3-3.3 .3-2.3 .3 3.9 .3 1.2 .3-1 .3-2.5 .3 5 .3-1.4 .2-.2 .3-1.9 .3 6 .3-.4 .3-2.9 .3-1.1 .3 1 .3 3.6 .3 2.8 .3-7 .3-1.1 .3-3.5 .3 11.6 .2-9.8 .3 5 .3-1 .3 2.1 .3-5.5 .3-1.9 .3 4.5 .3 .6 .3 1.9 .3-7.1 .3 3.1 .3 .5 .3-2.7 .2 2.9 .3 2.4 .3-2 .3-3.5 .3 4.4 .3 1.3 .3-.8 .3 .6 .3-6 .3 5.2 .3 .4 .3-2.5 .3 .9 .3-1.8 .2 5 .3-3.8 .3-1.6 .3 2.8 .3-.2 .3 1.4 .3-3.7 .3 .3 .3 2.7 .3 4.6 .3-4.4 .3-4.5 .3 3.8 .2-2.4 .3-2.6 .3 2.9 .3 .2 .3 2.5 .3 2.3 .3-.5 .3-.8 .3-3.1 .3 1.5 .3-.5 .3 3.6 .3-5.1 .2 .3 .3 5 .3-2.2 .3-2.6 .3 1.5 .3 0 .3 .1 .3 1.5 .3-1 .3-1.4 .3-.8 .3-3 .3 3.2 .2 3.9 .3-2.3 .3-2.1 .3 1 .3-1.5 .3 2.8 .3 4.3 .3-.5 .3-1.5 .3-1.1 .3-2.4 .3-2.5 .3 3.1 .2-1.2 .3 3.2 .3-6.9 .3 3.4 .3 2.6 .3 6.1 .3-9.5 .3 5.1 .3-1.4 .3-1.7 .3-1.6 .3 1.9 .3 .5 .3 1.4 .2-.2 .3-.9 .3-2.5 .3 2.4 .3-1.9 .3-1.4 .3 4.8 .3-3.8 .3-1.3 .3 3.1 .3-4.9 .3 4.5 .3 1.3 .2-2.2 .3 1.6 .3 4.7 .3-1.8 .3-1.2 .3-.8 .3-2.7 .3 .9 .3-.3 .3 .7 .3 .2 .3-2.2 .3 5.8 .2-6.4 .3 3.4 .3 1.6 .3-2.5 .3-7.5 .3 7.6 .3 4.5 .3-3.1 .3-2.2 .3 2.1 .3-1.8 .3-4 .3 5 .2 1.9 .3 .2 .3-2.8 .3-3.2 .3 6.1 .3-3.2 .3 2.1 .3 1 .3-1.9 .3-.9 .3-1.4 .3 .5 .3 1.1 .3-1.2 .2 1.9 .3-5.4 .3 2.2 .3 2.3 .3-1.5 .3 .3 .3-1.4 .3 4.2 .3 2.3 .3-6.2 .3 5 .3-12.4 .3 10.1 .2-5 .3 5.8 .3-1.1 .3 .3 .3 2.4 .3-1.4 .3-1.4 .3-1.9 .3 2 .3-1.7 .3 .6 .3 4.4 .3-1.4 .2-1.4 .3 .8 .3-4.7 .3 3.5 .3-4.1 .3 2.3 .3 2.4 .3 0 .3 .7 .3-1.2 .3-.3 .3-.1 .3 3.2 .2-.3 .3-6.2 .3 3.6 .3 2.6 .3-3.5 .3 1 .3-1.8 .3-1.4 .3 3 .3-1.2 .3 .5 .3-2.9 .3 .6 .3 2.3 .2-.7 .3 2.2 .3-3.6 .3 3.9 .3-.3 .3-1.1 .3 1.2 .3-1.6 .3-.3 .3 .4 .3-8.3 .3 8.2 .3 1.8 .2-5.3 .3 5 .3-2.9 .3 .6 .3 1 .3 .3 .3 2.4 .3-3.3 .3 4 .3-3.7 .3 1 .3 .4 .3-3 .2-1 .3 2.7 .3 1.3 .3 .3 .3-2.7 .3 4.6 .3-4.1 .3-1.2 .3 3.9 .3 .2 .3-4.8 .3 3.8 .3-4.5 .2 2.8 .3 4.7 .3-2.2 .3-1.3 .3-.2 .3-3.2 .3 2.4 .3 .1 .3-3.3 .3 2.5 .3 .6 .3-.8 .3 .3 .3-1.6 .2-2.1 .3 2.3 .3-4.4 .3 2.4 .3 3.7 .3 1.2 .3-3.1 .3-6.1 .3 7.8 .3-1.8 .3-1.7 .3 2 .3-.5 .2-3.6 .3-.1 .3 5 .3-6.9 .3 6.3 .3-.4 .3 1.6 .3 1.8 .3-.6 .3 .7 .3-1.4 .3-.4 .3 1.4 .2-2.1 .3-1.7 .3 1.9 .3-3 .3 2.3 .3 5.6 .3-3.1 .3-1.3 .3-.8 .3-2.3 .3 2.7 .3-.5 .3 1.7 .2 .3 .3-.3 .3-3.7 .3 7 .3-2.1 .3-.8 .3-.6 .3 1.6 .3 1.7 .3-1.3 .3-3.5 .3-.2 .3-2.2 .2 5.1 .3 1.2 .3 1 .3-2.1 .3 1.4 .3-3.5 .3 2.9 .3-1.2 .3-1.1 .3-2 .3 5.7 .3-6.8 .3 5.8 .3-2.8 .2 2.8 .3-2.3 .3 2.6 .3-1.9 .3-1.6 .3 1.1 .3-2.1 .3 3.7 .3 1.6 .3-1.3 .3-.6 .3 2.4 .3-4.8 .2 3.4 .3-1.1 .3-.9 .3 2 .3-3.3 .3 2 .3 1 .3-2.9 .3 1.8 .3 1.5 .3 .9 .3-3.7 .3 3.6 .2-2.3 .3 .8 .3-1.3 .3 2.6 .3-2.8 .3 1.9 .3 .2 .3 .8 .3-3.5 .3 3.5 .3-1.4 .3 2.8 .3-3.5 .2-.4 .3 1 .3-.5 .3 .3 .3-2.1 .3-1.5 .3 1.2 .3 1.7 .3 2 .3-1.4 .3-1.3 .3 1.6 .3 .4 .3 5.2 .2-2.8 .3-2.1 .3-3.1 .3 2.4 .3-.2 .3 1.7 .3 3 .3-4.2 .3-3.6 .3 3.6 .3-3 .3 4.8 .3 .5 .2-1.4 .3-3.5 .3 2.5 .3 2.7 .3-4.2 .3 .8 .3 1.6 .3 .5 .3-.8 .3 .5 .3-.2 .3-1.5 .3 1 .2 .7 .3-2.6 .3 2.5 .3-.2 .3 .7 .3-.2 .3-2.6 .3-.4 .3 2.9 .3-.8 .3 .5 .3-1.2 .3-1.4 .2 3 .3-.8 .3 1.5 .3 .9 .3 0 .3-.2 .3-3.7 .3-2.1 .3 2.8 .3-1.1 .3-.2 .3 3.8 .3-8.3 .3 8.8 .2 .3 .3 3 .3-3 .3 2 .3-5.2 .3-.1 .3 3.2 .3-4.4 .3 4.7 .3-2.7 .3-3.2 .3 7.3 .3-5.7 .2 6.9 .3-7.5 .3 1.2 .3 2 .3-.4 .3-3 .3 3.2 .3 .2 .3 .5 .3-3.9 .3 1.9 .3 .9 .3 1.8 .2-1.3 .3-.9 .3-.2 .3-.8 .3 .1 .3 2.1 .3-4.6 .3 7.3 .3-2.4 .3-4.2 .3 4.5 .3 1.5 .3-1.1 .2-1.4 .3 1.5 .3-3 .3 .9 .3-.2 .3 .9 .3-2.1 .3 4.5 .3-2.8 .3-1.8 .3 1.6 .3 1.1 .3-3.5 .3 4.9 .2-2.7 .3-.8 .3 2.4 .3 1.5 .3-4.2 .3-1.2 .3 1.8 .3 1.1 .3-1.8 .3 2.2 .3-1.9 .3 3.3 .3-3.9 .2 .5 .3 1.9 .3 1.1 .3 .5 .3-3.1 .3 1.4 .3 1 .3 1.6 .3-4.3 .3-.7 .3 3.3 .3-1.4 .3 3 .2-2.5 .3 .6 .3-2.1 .3 2 .3 1.8 .3-2.8 .3-1.7 .3 3.9 .3-2.3 .3 .7 .3-1.4 .3 3.1 .3-3.2 .2 .5 .3 1 .3-.4 .3-8.3 .3 9.5 .3-3 .3 2.6 .3-1.2 .3 .5 .3-1.1 .3-.6 .3 2.3 .3 .1 .2 1.5 .3-.9 .3-2.3 .3 3.5 .3 2 .3-2.8 .3-1.7 .3-1.5 .3 2 .3-2.9 .3 4.2 .3-2.2 .3-.3 .3 1.5 .2-2.8 .3-.9 .3 2.4 .3 3.1 .3-3.8 .3 3.2 .3-5.1 .3 3.4 .3 1 .3 2.4 .3-6.6 .3 3.2 .3-1.6 .2 2.3 .3-5.4 .3 5 .3-1.6 .3 .4 .3 1.8 .3 2 .3-2.4 .3-.1 .3-1.1 .3 3.8 .3-6.6 .3-.1 .2 2.3 .3 2.3 .3 .9 .3-.7 .3 .4 .3-1.1 .3-1.2 .3-1.1 .3 2.8 .3-2.6 .3 2.6 .3 .6 .3-2.5 .2 .3 .3-.2 .3 2.3 .3-1 .3-1.5 .3 1.7 .3 2.4 .3-2.3 .3-.3 .3-1 .3-1 .3 1.8 .3 .1 .3-.7 .2 2.8 .3-2.6 .3 .1 .3 .7 .3 .6 .3-4.3 .3 .1 .3 5.5 .3-4.4 .3 2.8 .3-1.6 .3-.9 .3 2.3 .2-.7 .3-3.7 .3 2.8 .3 2.6 .3-2.6 .3-.3 .3 .7 .3-.1 .3 2.2 .3-3 .3-.6 .3 3 .3 1.1 .2-.6 .3 .3 .3-2.8 .3-1.5 .3 1.4 .3 1.3 .3-3.1 .3 2.6 .3 1.6 .3-2.4 .3 5 .3-2.3 .3-3.6 .2 .1 .3 .8 .3 2.6 .3-.4 .3-1.9 .3 1.3 .3 1.2 .3-.5 .3-3.9 .3 .9 .3 .3 .3-1.5 .3 4.8 .3-2.8 .2 0 .3-.3 .3 2.1 .3 .5 .3 .2 .3 1 .3-4 .3 4.7 .3 1.6 .3-5.5 .3 .3 .3 1.7 .3 1.2 .2-2.8 .3-1 .3 5.4 .3-4.8 .3-4.1 .3 6 .3 .9 .3 1.3 .3 .1 .3 2.5 .3-6.8 .3-.8 .3-.8 .2 5.8 .3-4 .3-2.3 .3-.7 .3 4.1 .3-1.1 .3 1.4 .3-2.1 .3 .2 .3 2.2 .3-1.2 .3 1.4 .3-1.3 .2-.3 .3 1.2 .3-1.3 .3 1 .3 .5 .3-1.8 .3 .7 .3 .4 .3 1.1 .3-.8 .3 0 .3 .4 .3-1.4 .3 1.2 .2-2 .3-2 .3 4.1 .3-4.4 .3 3.4 .3 3.1 .3-1.5 .3-3.2 .3 3.2 .3-.9 .3-2 .3 1.4 .3-.8 .2 .4 .3 1.1 .3-3.4 .3 4.4 .3 2.1 .3-4 .3-1.5 .3 1.1 .3 3 .3-3.2 .3 1.8 .3 3.3 .3-5.5 .2 1.5 .3-1.2 .3 .4 .3 .9 .3-1.6 .3 2.2 .3-.5 .3 1.8 .3-.9 .3-.5 .3 2 .3-3.1 .3 1.5 .2-2.3 .3 3.8 .3-4 .3 3.2 .3-3.1 .3 1.7 .3-2.3 .3 .5 .3-.3 .3 2.5 .3 .2 .3 .4 .3-.6 .2-1.1 .3 1.6 .3 1.6 .3-3.5 .3-.7 .3 2.4 .3 2.7 .3-3.8 .3-.5 .3-1.2 .3 .5 .3-.4 .3 0 .3 3.7 .2 .4 .3-2.2 .3 0 .3 1.3 .3-1.4 .3 .2 .3 .9 .3-1.2 .3 2.4 .3 3.6 .3-5.9 .3 .5 .3-2 .2 .7 .3 .9 .3 .7 .3-1.2 .3-1.8 .3 2.9 .3-1.7 .3 1.7 .3-1.1 .3 .2 .3 .1 .3-3.8 .3 6.2 .2-4 .3 2.4 .3 .3 .3-2 .3-1.5 .3 3.5 .3-2.8 .3 1.6 .3 1 .3-1.7 .3-2.3 .3 1.9 .3 2.2 .2-2.4 .3 3.1 .3-4.4 .3 1 .3-1.5 .3 1.5 .3 4.5 .3-1.7 .3-1.6 .3-.6 .3 3.2 .3-2.3 .3-1.6 .3 4.6 .2-5.2 .3 2.7 .3 .8 .3 .6 .3 1.8 .3-2 .3-2.8 .3 3.3 .3-1.5 .3-2.8 .3 .3 .3 .4 .3-2.4 .2 4.7 .3 .2 .3-.1 .3-2.4 .3 1.4 .3 2.3 .3-1.5 .3-1 .3-1.1 .3 1.3 .3 2.4 .3-2.3 .3 4.2 .2 .2 .3-3.1 .3-4.3 .3 2.5 .3 2.8 .3-3.3 .3-.3 .3 1.3 .3 4.9 .3-5.8 .3-2.7 .3 4.1 .3 .2 .2 .6 .3-1.2 .3 .5 .3-1.5 .3 2.6 .3-1.8 .3 1 .3-6.6 .3 8.2 .3-2.1 .3-1.2 .3 .8 .3-2.1 .3 1 .2 2.6 .3-.4 .3 .4 .3-.3 .3-1.8 .3 .7 .3 3.3 .3-3.7 .3-2.6 .3 2.8 .3-.7 .3 .5 .3 .2 .2-1.9 .3 2.7 .3-1.1 .3 1.4 .3-2.4 .3-.5 .3 1 .3 3.8 .3-6.3 .3 5.2 .3-2 .3 2.1 .3-2.8 .2 1.4 .3 0 .3 3.2 .3-4.1 .3 .7 .3-1.9 .3 2 .3-1.9 .3 1.1 .3 .9 .3 .3 .3-2.6 .3 0 .2 3.7 .3-3 .3 1.2 .3-.8 .3-2.3 .3 2.6 .3 0 .3 3.4 .3-6.6 .3 2.5 .3 2 .3-2.1 .3-5.8 .3 7.9 .2-.8 .3-1.8 .3-.3 .3 .6 .3 1.6 .3-.7 .3-.9 .3 1.8 .3 1.3 .3-3 .3 3.9 .3-2.8 .3 1.1 .2-.4 .3 .2 .3-.5 .3-4.5 .3 2.4 .3 3.3 .3-3.5 .3 2.1 .3-3 .3 1.7 .3 3.9 .3-2.4 .3-2 .2 .4 .3-1.9 .3 3.9 .3-1.3 .3 1.8 .3 .1 .3-2 .3-1.1 .3-.5 .3 1.4 .3 .8 .3 2.4 .3-4.1 .2 2.5 .3-2.7 .3 .8 .3 2.5 .3-.5 .3-1.9 .3-.2 .3 3.2 .3-2.3 .3-.3 .3-1.3 .3 6.4 .3-1.2 .2-2.3 .3 3 .3-3.1 .3-1.4 .3 1.6 .3 1.5 .3-4.5 .3 4.3 .3-.1 .3 .6 .3-1.9 .3 1.2 .3-5.1 .3 3 .2 2 .3-.9 .3-.5 .3-2.7 .3 2 .3-2.8 .3 2.6 .3 1.1 .3-1.5 .3 1.8 .3-.9 .3 1.6 .3-2.2 .2-2.3 .3 .7 .3 .9 .3 1.3 .3 .2 .3-1.5 .3 1.6 .3-1.4 .3 2.3 .3-3.5 .3 4.5 .3-5.5 .3 2.7 .2-1.2 .3 2.9 .3-2 .3 2.2 .3 2.2 .3-3 .3 .1 .3 .6 .3-1.9 .3 4.4 .3-3.8 .3 1.6 .3-.6 .2-1.6 .3 3.5 .3-1.8 .3-1.8 .3 0 .3-2.2 .3 1.5 .3 3.4 .3 .1 .3-3.2 .3 2.8 .3 .6 .3-.3 .3 .8 .2-5.6 .3 3.8 .3-2.1 .3 2.9 .3-2.5 .3 1.5 .3 1.4 .3-4.4 .3 1.6 .3-.1 .3 1.2 .3-2.7 .3 4.2 .2 2 .3-3.9 .3 1.4 .3-8.8 .3 5.7 .3 3.3 .3-.7 .3 .7 .3 1.2 .3-2.2 .3-.7 .3-.4 .3 1.1 .2-4 .3 6.4 .3-6.5 .3 1 .3 2.9 .3 1.6 .3-4.1 .3 5.1 .3-3.5 .3-.4 .3 2.2 .3-3 .3 2.4 .2-4.8 .3 4.9 .3-4.2 .3 3.3 .3-3.3 .3 5.2 .3-2.3 .3 2.5 .3 .6 .3-4.7 .3 4 .3-.9 .3 1.9 .3-4.9 .2 0 .3 .9 .3-1.9 .3 3.5 .3-1.5 .3 1.6 .3 .3 .3 .8 .3-3.8 .3-.4 .3 4 .3-3 .3 .6 .2-1.5 .3 4.8 .3 .2 .3-3.9 .3 1.3 .3 .9 .3 .5 .3-1.4 .3 3.1 .3-4.6 .3 3.1 .3-1.3 .3 .3 .2-1.8 .3-1.8 .3 2.1 .3 1.8 .3-2.3 .3-1.6 .3 2.7 .3 .3 .3-1.8 .3 1.6 .3 .9 .3-.4 .3 1.3 .2 .4 .3-2.1 .3-1.4 .3-1.7 .3 4.8 .3-1.1 .3 1.1 .3-3.3 .3 1.7 .3-1.7 .3-.2 .3-1 .3 2.2 .3 1.2 .2 .5 .3-1 .3-.9 .3 4 .3-.9 .3-1 .3-1.6 .3 1.9 .3-3.7 .3-1 .3 3.3 .3-.8 .3 1.4 .2-3.3 .3 1.9 .3-2.5 .3 1.2 .3 1.3 .3-1 .3-1.7 .3-.9 .3 1.8 .3-1.1 .3-1 .3 2.6 .3-1.9 .2 3.8 .3 1.3 .3-1.8 .3 2.8 .3-7.3 .3-1.1 .3 2.7 .3-3.1 .3 3.2 .3 1.2 .3-.4 .3 .2 .3-2.4 .2 0 .3 .3 .3-.8 .3 1.6 .3-2.7 .3 .4 .3-1.6 .3 2.9 .3-1.9 .3-.4 .3-1.5 .3-2.9 .3 2.2 .2-3.8 .3 3.6 .3-2.8 .3 4.5 .3-4.4 .3 .5 .3-1.5 .3-2 .3-1.6 .3-2.8 .3 2.8 .3-3.8 .3 5.5 .3-6.2 .2 .2 .3-.1 .3-1.6 .3 1.5 .3-3.7 .3-1.9 .3 .3 .3 3.4 .3-1.4 .3-5.3 .3 4.8 .3-.4 .3 3.2 .2 2.5 .3-.2 .3 2.4 .3 3.4 .3-6.6 .3 4.7 .3 1.1 .3 1.8 .3 0 .3 2.6 .3-1.4 .3 1.7 .3-3.9 .2 4.5 .3-2.6 .3 4.6 .3 3.1 .3-3.6 .3 1.6 .3 1.1 .3 1.9 .3-.9 .3 .9 .3-4.2 .3 .9 .3-3.4 .2 8.4 .3-8.1 .3 4.7 .3-2 .3-.3 .3-3.3 .3 2.5 .3 0 .3 .6 .3-2.2 .3 .8 .3-3.4 .3 4.6 .3-5.1 .2 9.7 .3-10 .3-1.5 .3 1.5 .3-1.4 .3 2.4 .3-2.6 .3-7.5"/>
<path stroke="#0000ff" d="M658.5 677.1l .3 1.8 .3 3.9 .3-1.1 .3 1.6 .3 7.1 .3-11.7 .3-3.4 .3 8.7 .3 6.3 .3-9.7 .3 7.2 .2-3.3 .3 1.4 .3-2.8 .3 6.2 .3-4.6 .3 5.1 .3 3.2 .3-.9 .3-3 .3-8.7 .3 6.7 .3 1.8 .3-3.3 .2-.3 .3-1.4 .3 9.9 .3-5.8 .3-2.2 .3 .2 .3 2.8 .3 .2 .3-4.7 .3 2.8 .3 1.3 .3-1 .3 6.1 .2-5 .3-.4 .3-9.6 .3 7.6 .3 5.2 .3 1.6 .3-3.3 .3 .8 .3-4 .3-.7 .3 .6 .3 4.6 .3-2.5 .2-3.5 .3 6.8 .3-5.4 .3-.9 .3 2.4 .3 2.2 .3-2.5 .3 3.1 .3-2.2 .3 3.6 .3-3.6 .3 2.7 .3-3.5 .3 2.9 .2-1.3 .3-3.1 .3 7 .3-4.8 .3 2 .3-2.3 .3 1.6 .3-.2 .3-1.4 .3 1.9 .3-.3 .3 1.7 .3-2.3 .2 2.9 .3-3.2 .3-.1 .3 .3 .3-.3 .3 .8 .3 1.4 .3-.5 .3-3.2 .3-2 .3-.4 .3 9.7 .3-8.5 .2 3 .3 5.6 .3-3.6 .3-.9 .3-2.2 .3 0 .3 2.1 .3 1.5 .3 .3 .3-.6 .3-4.5 .3 1.4 .3 1 .2 1.2 .3 3.6 .3-4.5 .3-1.2 .3 2.2 .3-.4 .3 1.9 .3-2.6 .3-1.2 .3-2.7 .3 3.1 .3 1.4 .3-1.4 .2 2.8 .3-.9 .3 .2 .3-5.8 .3 7.8 .3-1.6 .3-8.7 .3 5.2 .3-4.4 .3 4 .3-.7 .3-.8 .3 5.2 .3 .7 .2-3.4 .3-2.2 .3 6.3 .3-5 .3 1.4 .3 1.8 .3-1.7 .3-1.3 .3 1 .3 1.6 .3 .6 .3-2.6 .3-2.9 .2 5.1 .3-.8 .3 2.9 .3-2.6 .3-1.8 .3-.5 .3 3.7 .3-6.5 .3 4.8 .3-3.1 .3 4.2 .3-.7 .3-.1 .2 1.1 .3 1.8 .3 .5 .3-4.5 .3 4.3 .3-2.6 .3 .8 .3-.6 .3 .4 .3-2.3 .3-1.3 .3 1.1 .3 3 .2 3.4 .3-6.7 .3 5.1 .3-6.2 .3 3.1 .3 2.9 .3 .4 .3-2.6 .3 5.5 .3-4.9 .3-1 .3-3.4 .3 4 .3-.6 .2-.4 .3 2.9 .3-2.9 .3-1 .3 .7 .3 3.6 .3-2.5 .3 3.6 .3-.7 .3-2.8 .3-4.9 .3 6.4 .3 0 .2 2.1 .3 1.4 .3-2.7 .3-2.8 .3-.4 .3 1 .3 .2 .3-.2 .3 .8 .3 5.3 .3-8.8 .3-2.5 .3 5.9 .2-.4 .3-2.3 .3 6.1 .3-1.5 .3 1.7 .3-.3 .3-.7 .3-2.2 .3-1.2 .3 2.3 .3 1.5 .3-5.2 .3 1.2 .2 .6 .3 .2 .3-2.4 .3 3 .3 0 .3 1.4 .3-4.3 .3 .8 .3 4.6 .3 1.6 .3 1.5 .3-1.6 .3-3.6 .3 2.9 .2-5.2 .3 5.7 .3-3.7 .3-4.5 .3 9.4 .3-3.7 .3 2.9 .3-3 .3 3.1 .3-.7 .3-.4 .3-5.4 .3 2 .2-2.1 .3 5.3 .3-3 .3 4.1 .3-3.5 .3 1 .3 1.9 .3-3.7 .3 2.9 .3-6.5 .3 4.2 .3 3.8 .3 3.7 .2-10.1 .3 7.9 .3-.3 .3-3.9 .3-1 .3-4.1 .3 5.7 .3 1.4 .3-4.1 .3 3.5 .3-1.3 .3 .5 .3 2.2 .2-.6 .3-5.5 .3 5 .3-.1 .3 1.3 .3-.9 .3 .1 .3-1.1 .3 .8 .3 1.7 .3-4.7 .3 2.5 .3-.2 .3-.6 .2-3.1 .3 7 .3-3.1 .3 3.9 .3 2 .3-7.1 .3 3.8 .3-1.5 .3 1.1 .3 .3 .3 .2 .3-.4 .3-.8 .2-2.1 .3 .7 .3-1.2 .3-.3 .3 2.9 .3-1.6 .3-2 .3-.3 .3 3 .3-1.1 .3 3 .3-.8 .3 .9 .2 1.9 .3-4.5 .3 2.6 .3-2.1 .3-.2 .3 1.2 .3-3.1 .3 4 .3-.6 .3-.6 .3 .9 .3-1.7 .3 2.4 .2-5.5 .3 1.8 .3 3.2 .3-1.3 .3 1.6 .3-5.2 .3 3.7 .3-.3 .3 .9 .3-2.8 .3 5.1 .3-1.3 .3-.2 .2-.1 .3-1.4 .3-.7 .3 4 .3-.7 .3-1.9 .3-1.8 .3 1.6 .3 3 .3-1.4 .3 2 .3-.5 .3 .1 .3-1.6 .2-1.2 .3-.2 .3-1.5 .3-.1 .3 2.7 .3-2.1 .3-2.6 .3 5 .3-3.3 .3 1.5 .3-.2 .3-.3 .3 3.7 .2-1.8 .3-4 .3 8.6 .3-5.2 .3 2.3 .3-.3 .3-1.7 .3-3 .3-1.2 .3 7.6 .3-6.6 .3 4.7 .3-4.8 .2 1 .3 3.6 .3-2.8 .3 1.1 .3-1.1 .3-.8 .3 4.1 .3-1.7 .3-.7 .3-1.4 .3-.7 .3 1.4 .3 1.5 .2 .4 .3-.1 .3 .6 .3-4.2 .3 4.6 .3-2.8 .3 .2 .3 3.3 .3-1.1 .3-1.7 .3 .6 .3-2 .3 .9 .3 1.8 .2-1.1 .3 2.2 .3-2.7 .3 1.4 .3-3.5 .3 2.8 .3 .6 .3-.9 .3-2.8 .3 3.6 .3-3.5 .3 2.4 .3 1.7 .2-1.1 .3-1.5 .3 2.3 .3-7 .3 8.2 .3-1 .3-5.7 .3 5.1 .3 1.5 .3-1.1 .3-.9 .3-1.8 .3-.4 .2 2.8 .3 0 .3 2.1 .3-4.3 .3 4.8 .3-1 .3-.7 .3-.6 .3-1.2 .3-.7 .3 2.2 .3-2 .3 2.2 .2 2 .3-.1 .3-.5 .3-1.6 .3-.8 .3 2.6 .3-.4 .3-3.3 .3-.2 .3 1.9 .3 .2 .3-2.1 .3-1.3 .3 2.5 .2-.2 .3 1.3 .3-2.6 .3 2.6 .3-1.3 .3 1.4 .3 2 .3-1.7 .3-.9 .3 1.6 .3-3.9 .3 1.7 .3 .6 .2-.4 .3-.6 .3 4.2 .3-2.7 .3 .5 .3-.6 .3-3.1 .3 4.1 .3-.1 .3-1.4 .3-.4 .3 .9 .3-3.2 .2 5.3 .3-3.3 .3 1.3 .3-.2 .3-2.4 .3 2.6 .3-.5 .3 .1 .3 .8 .3-2.5 .3-.5 .3 2.1 .3 1.9 .2-.6 .3-.2 .3-2.6 .3-.5 .3 3.2 .3 .4 .3-1.3 .3-.1 .3-.6 .3-2.2 .3 3.3 .3 .5 .3-.3 .3-.6 .2 1.6 .3-3.5 .3-1.1 .3 4.2 .3-1.5 .3 1.4 .3-1.2 .3 .9 .3 1.2 .3-1.8 .3-2.7 .3 5.9 .3-3.5 .2 1.4 .3-1.7 .3-1.1 .3 .7 .3-4 .3 5.3 .3-1.8 .3 4 .3-1.8 .3 1.1 .3-1.1 .3-7.2 .3 6.4 .2 1.6 .3-2.1 .3 .7 .3-.3 .3 .7 .3-.8 .3 2.3 .3-.9 .3-1.2 .3 .5 .3-1.7 .3 .9 .3 .7 .2 0 .3-4 .3 2.4 .3-.9 .3 5.5 .3-1.5 .3-1.1 .3-2 .3 .8 .3 .8 .3 1.7 .3-4.3 .3 .5 .2-.6 .3 .3 .3-2.4 .3 3.6 .3 2.2 .3-2.8 .3 1.4 .3-.8 .3-2.1 .3 4.4 .3-.3 .3-1.6 .3-.5 .3 .7 .2 1 .3-2.3 .3 .1 .3 1.7 .3-2.4 .3-.6 .3 2.7 .3-1.3 .3-1.7 .3 4.7 .3-1.5 .3-2.5 .3-.5 .2 1.1 .3 .7 .3 2.1 .3-3 .3 1.7 .3-2.7 .3 3.1 .3 .2 .3 1.6 .3-1 .3-3.2 .3 1.9 .3 1 .2-2.2 .3 .2 .3 .8 .3 .2 .3-2.4 .3 2.7 .3 1.1 .3-5.7 .3 4.8 .3 .2 .3-.6 .3-1.2 .3 0 .2 3.6 .3-.4 .3-4.8 .3 1.7 .3 1.7 .3-.5 .3 3.3 .3-5.2 .3 2.5 .3-.5 .3-.2 .3-1.5 .3-.3 .3 1.1 .2-2.8 .3 5.7 .3-2.1 .3 1.6 .3-1.4 .3 3.1 .3-3 .3-.3 .3 2.6 .3-1.5 .3 2.8 .3-3.8 .3 0 .2 1 .3-.9 .3 0 .3 .7 .3-3.1 .3 1.8 .3 1.1 .3-2.3 .3-.7 .3-1.9 .3 3.1 .3 .1 .3-.2 .2 3.5 .3 .7 .3-4.8 .3-.2 .3 2.2 .3 .5 .3-2.6 .3 .7 .3 1.2 .3-3.2 .3 1.2 .3 2.4 .3 .6 .2-1.5 .3-.4 .3 1.9 .3-1.4 .3-2.3 .3 3.1 .3 1.1 .3-1.1 .3-1.4 .3 .1 .3-1.7 .3 .3 .3 1 .3 .3 .2-.5 .3 1 .3-.1 .3 .7 .3-3.1 .3 3.8 .3 2.1 .3-3.1 .3 1.5 .3-1.3 .3-3.4 .3 4.9 .3-2.1 .2-2.2 .3-.8 .3 4.5 .3-.3 .3-1.9 .3-.1 .3 2.4 .3-1.5 .3-.8 .3-.8 .3 1.6 .3-3 .3 4.9 .2-1.8 .3 .2 .3-1.9 .3 1.6 .3-1.2 .3 .8 .3-1.7 .3 2.1 .3-1.2 .3 .6 .3-.5 .3-1.6 .3 5.8 .2-5.9 .3 .1 .3 .5 .3 4.4 .3-1.5 .3-1.7 .3 .2 .3 2.9 .3-2.3 .3-1.1 .3 0 .3 4.1 .3-5.1 .3 5.9 .2-3.5 .3 4.2 .3-4.1 .3-.8 .3-2.3 .3-.4 .3 2.7 .3-.9 .3 .3 .3-.2 .3 .6 .3-1.4 .3 4.7 .2-2 .3 1.8 .3-1.7 .3-1.7 .3 2.9 .3 1.1 .3-2.9 .3 1.1 .3-.4 .3-.5 .3 1.6 .3-.7 .3 1 .2-3.6 .3 .5 .3 3.1 .3-2.4 .3 1.2 .3-2.8 .3 3.1 .3 1.3 .3-3.6 .3 2.1 .3-.3 .3-.7 .3-1.9 .2 3 .3 .3 .3-1.1 .3-1.7 .3 3.1 .3-1 .3-.8 .3 1.6 .3-2.3 .3 1.2 .3 .2 .3 .3 .3-2.3 .2 1.4 .3 .4 .3 .2 .3 .5 .3-1.1 .3 1.7 .3-1.9 .3-1.2 .3 2.1 .3-1.7 .3-.1 .3 4.8 .3-3.3 .3-.1 .2 1.9 .3-3.6 .3 0 .3 5.1 .3-3.8 .3-.5 .3 2.2 .3-5.1 .3 4 .3-1 .3 2.4 .3-.6 .3 .2 .2 .7 .3-1.5 .3-2.1 .3 2.9 .3-.2 .3 .9 .3-3.8 .3 2.1 .3 2.5 .3-4.7 .3 2.9 .3-2.5 .3-.4 .2 2.2 .3-.6 .3-3.2 .3 4.6 .3-1.6 .3 1.7 .3 1.4 .3-2.8 .3-1.2 .3 1.4 .3-1.8 .3 .9 .3 1.6 .2-.5 .3 0 .3-2 .3 3.6 .3-8.1 .3 5.9 .3-.3 .3-1.3 .3 2.2 .3-1.4 .3-.9 .3 1 .3 2 .3 .1 .2-.3 .3-2.2 .3 .5 .3 2.4 .3-2.8 .3 2.1 .3-1.9 .3 1.6 .3-.8 .3-.7 .3 1.3 .3 2.6 .3-5.8 .2 4.4 .3-1.7 .3 .9 .3 .6 .3-3 .3 2 .3-2.9 .3 2.1 .3 2.8 .3-2.8 .3 2.1 .3-4.7 .3 4.6 .2-.8 .3-1.5 .3 .6 .3-1.7 .3 1.8 .3-1.5 .3 1.6 .3 3.3 .3-3.8 .3-.7 .3 .8 .3 1.9 .3-1 .2-1.1 .3-1.2 .3 1.7 .3-.5 .3 1.9 .3-3.4 .3 4.4 .3-2.1 .3 2.3 .3-4.8 .3 1.5 .3 4.3 .3-2.5 .3-3.2 .2 .5 .3 .1 .3-1.6 .3 4.5 .3-2.3 .3-1.3 .3 2.5 .3 1.2 .3-1.3 .3-3.7 .3 .6 .3 2.1 .3-.2 .2 .4 .3 .7 .3-.5 .3 .6 .3-2.2 .3 3.3 .3-2.2 .3 .1 .3 2.3 .3-2.1 .3-2.2 .3 3.5 .3 1.7 .2-2.3 .3 .5 .3-.4 .3 2.5 .3-4.6 .3 1.6 .3 1.8 .3-2.9 .3 3.2 .3-.8 .3-1.6 .3 1.2 .3 1.1 .2-3 .3 2.4 .3-2.1 .3 0 .3 2.9 .3-1.5 .3-3.1 .3 1.8 .3 .3 .3-.1 .3-.9 .3 1.1 .3 2.3 .3-.4 .2-3.8 .3 2.3 .3 3.8 .3-2.7 .3 .1 .3-.8 .3-.3 .3 1.8 .3-5.3 .3 4.2 .3-.2 .3-3.3 .3 3.1 .2-2.7 .3 2.3 .3 .6 .3 1.7 .3-3.9 .3 2.3 .3-.6 .3-5 .3 3.1 .3-.2 .3 1.8 .3-5 .3 4.3 .2 2.7 .3-1.6 .3-1.1 .3-1 .3 2.7 .3-4.4 .3 3.6 .3 2.7 .3-4.3 .3 2.1 .3-1.7 .3 1.4 .3 .1 .2 0 .3-1.3 .3-.3 .3 1.1 .3 0 .3-.3 .3 .7 .3-1.1 .3-3 .3 3.3 .3-.7 .3 2.1 .3-6.3 .2 5.9 .3-.3 .3-2.2 .3-1 .3 3 .3-1.1 .3-2.7 .3 .9 .3 1.9 .3-1 .3 6.1 .3-2.6 .3-2 .3 1.8 .2-2.1 .3 3.9 .3-1.8 .3-1.9 .3-2.4 .3 3.5 .3-4.7 .3 5 .3-2.8 .3 6.2 .3-5.1 .3-.8 .3 4.1 .2-2.6 .3-.4 .3-3 .3 2 .3 1.7 .3 2.2 .3-1.1 .3-1.3 .3-.2 .3 1.4 .3-1 .3-1.2 .3-2 .2 2.9 .3-1.5 .3-.1 .3 .7 .3-1.4 .3 4 .3-1.6 .3-.6 .3-2.9 .3 3.2 .3 .6 .3-3.9 .3 .6 .2 1.9 .3 2.3 .3-1.2 .3 1.5 .3-3.4 .3 1.3 .3 4 .3-2.9 .3-.1 .3-4.9 .3 3.3 .3-3.3 .3 1.9 .3 .8 .2 2 .3 0 .3-.5 .3-1.1 .3 2.9 .3-1.2 .3-.7 .3-1.4 .3 1.3 .3 1 .3 .2 .3-1.8 .3 1.1 .2-1 .3 1.4 .3-1.6 .3 3.8 .3-.6 .3-4.7 .3 2.3 .3 .6 .3 .4 .3-3.9 .3 .9 .3 3.1 .3-1 .2 1.9 .3-.5 .3-3.4 .3 1.5 .3-.9 .3 1.4 .3 2.4 .3-3.4 .3 2.2 .3-1.2 .3 0 .3-.6 .3-.1 .2 1.2 .3-2 .3 2 .3-1.1 .3-1.7 .3-.3 .3 3.9 .3-4.7 .3 3.3 .3 5.1 .3-7.8 .3 2.6 .3-3.1 .3 3.3 .2 .1 .3-.7 .3 .7 .3-2.9 .3 1.8 .3-1.9 .3 2.8 .3-3.5 .3 3.2 .3 1.4 .3 0 .3-2.1 .3 .1 .2-1.3 .3 1.2 .3-1.8 .3-1.8 .3 2.2 .3 2.1 .3-3.1 .3 3.1 .3 2.5 .3-3.2 .3-.2 .3-3.8 .3 2.7 .2-1.8 .3 3.5 .3-2.4 .3 1.2 .3-1.1 .3 1 .3-.3 .3 1.6 .3 2.5 .3-3.1 .3-2.1 .3 .5 .3 .1 .2-1.5 .3 2.1 .3-1.5 .3 1.1 .3 .7 .3 2.8 .3-3.5 .3 2 .3 .2 .3-4 .3 1.6 .3-.9 .3 3.7 .3-1.3 .2-.6 .3-.9 .3-3 .3 2.3 .3-.8 .3 1.2 .3-2.1 .3-.7 .3 .8 .3 2.9 .3-.2 .3-.7 .3-.1 .2-1.1 .3 1.9 .3-2.6 .3 1 .3 1.3 .3 .1 .3-3 .3 1 .3 1.7 .3-1.1 .3 .3 .3 .8 .3-1.1 .2-2.2 .3-.2 .3 2 .3 2.2 .3-3.4 .3 2.1 .3-2 .3 3.1 .3-6.3 .3 1 .3 4 .3-.2 .3-2.7 .2 2.2 .3-2.5 .3 .4 .3 1 .3-1.3 .3-.6 .3-2.1 .3 .3 .3 .5 .3 3.8 .3-4.7 .3 2.8 .3-3.1 .2 2.3 .3-1.2 .3-2.4 .3 3.8 .3-3 .3-1.5 .3 1.6 .3 .2 .3 .6 .3-3.1 .3-.7 .3 4.2 .3-.6 .3-2.7 .2 .6 .3 .4 .3-7.9 .3 4.1 .3 .6 .3-1.3 .3-.7 .3 1.7 .3-.2 .3-2.1 .3-.1 .3-4.2 .3 1.9 .2-.4 .3-1.7 .3-4.6 .3 0 .3 1.6 .3-5 .3 2.1 .3-2 .3 2.3 .3-6.3 .3-1.4 .3 1.6 .3-1.7 .2-6.1 .3-.1 .3-1.3 .3-3 .3-1.7 .3-1.1 .3-7.7 .3 3.1 .3-4 .3-2.1 .3-1.4 .3-3.9 .3-3.8 .2 .7 .3-7.7 .3-4 .3-6.1 .3 4.3 .3-7 .3 1 .3-3.7 .3-3.1 .3-7.3 .3 0 .3-.9 .3-7.4 .3-3.8 .2-.6 .3-4.9 .3-1.5 .3-1.4 .3-2.3 .3-1 .3-4 .3-1.2 .3 .7 .3 2 .3-2.1 .3-6.2 .3 5.9 .2-.5 .3 1 .3 1.9 .3 1.2 .3 2.2 .3 4.1 .3 3.6 .3-1.4 .3 3.7 .3 6.1 .3-2.6 .3 5.1 .3 4.1 .2 1.2 .3 3.8 .3 7.1 .3-3.1 .3 3.8 .3 12 .3-2.1 .3 3.1 .3 1.4 .3 5.1 .3 2.6 .3 1.8 .3 2.8 .2 2.8 .3 .7 .3 6 .3-.5 .3 .1 .3 1.1 .3 7 .3-1.6 .3 5.2 .3 2.4 .3-3.3 .3 9.4 .3-2 .3 2.4 .2 2.2 .3 2.9 .3-3.7 .3 8.1 .3-3.6 .3 5 .3-3.5 .3 1.6 .3 2.7 .3-.4 .3 2 .3-.3 .3 4.8 .2-4.3 .3 2.8 .3 2.2 .3-1 .3-3.2 .3 5.9 .3-3.8 .3 1.1 .3 4.7 .3 .4 .3-2.5 .3 3.1 .3-4.7 .2 3.2 .3-1 .3-.8 .3-1.3 .3 6.3 .3-2.1 .3 2 .3-.4 .3-1 .3 .5 .3-2.4 .3 2.4 .3 2.5 .2 1 .3-3.9 .3 4.4 .3-4.7 .3 2.6 .3 .2 .3 1.5 .3-2.9 .3 2.9 .3-2.1 .3-1.4 .3 1.3 .3 1.2 .3 1.9 .2-.4 .3-2.2 .3 2.2 .3 .5 .3 .2 .3-.9 .3-1.3 .3-.5 .3-1.4 .3 4.3 .3-2.5 .3 .6 .3 3.5 .2-.6 .3-.7 .3-.6 .3-.7 .3-.7 .3 3.2 .3-3.3 .3 4.9 .3-.4 .3-4.5 .3-1.4 .3 3.4 .3-2.1 .2 1.1 .3 1.6 .3-2.9 .3 2.9 .3 1.8 .3 .2 .3-.4 .3-2.2 .3-.3 .3-.1 .3 1.3 .3 1 .3-1.4 .2-2.1 .3 .2 .3 .9 .3 1.5 .3 1 .3-1.2 .3 1.4 .3-1.4 .3 .6 .3 .4 .3-1 .3 1.8 .3 1 .2-1.4 .3-1.5 .3 .8 .3 1.6 .3-1.5 .3-.6 .3-.4 .3 .7 .3 .1 .3-2.5 .3 3.8 .3-3.1 .3 3.6 .3-6.9 .2 5.3 .3 2 .3-.1 .3-8.5 .3 4.6 .3 3 .3-2.8 .3 3.7 .3 1 .3-4.3 .3-.2 .3 1.4 .3 2 .2-.4 .3-.4 .3-2.9 .3 4.6 .3-2.2 .3 1.1 .3-.7 .3 1.1 .3 .7 .3-.8 .3-6 .3 3.5 .3 2.5 .2-3.1 .3 5.5 .3-5.2 .3 2 .3 .6 .3 .6 .3 2.1 .3-6.8 .3 5 .3-.6 .3-1 .3-.5 .3-.8 .2 2.7 .3-2.1 .3 1.8 .3 2.6 .3-1.5 .3-.8 .3 .3 .3-7 .3 6.8 .3-2.1 .3-1.2 .3 3.4 .3 2.4 .3-5.5 .2 1.9 .3-1.6 .3 .6 .3 2.8 .3-2.8 .3 .4 .3 .4 .3-2.6 .3 1.9 .3 1.9 .3 .1 .3-1.4 .3 2 .2-4 .3-1.1 .3 2.8 .3 1.1 .3 .8 .3-1.2 .3 1.7 .3-2.6 .3 2.5 .3-3.1 .3-.7 .3 4.6 .3-1.9 .2-.5 .3-2.4 .3 4.1 .3-2.2 .3 1.8 .3-1.9 .3 0 .3-.7 .3 .3 .3 1 .3 .1 .3-.1 .3-.9 .2 1.3 .3 .6 .3-2 .3 1.8 .3 1.5 .3-6.6 .3 5.8 .3-3.6 .3 4.3 .3-1.8 .3 1.4 .3-2.8 .3 .9 .3-2.5 .2 2.4 .3 .8 .3 .8 .3-2.4 .3 1.8 .3-1.6 .3 2.2 .3 .4 .3-2.1 .3 0 .3 .8 .3-3.5 .3 1.7 .2 2 .3-1.2 .3 2.8 .3-4.6 .3 4 .3-2.6 .3-1 .3 2.6 .3-1.7 .3-1 .3 3.1 .3-2.5 .3-.1 .2 2.4 .3-1.8 .3 .6 .3 4.1 .3-2.4 .3-1.2 .3-4.1 .3 4 .3-.1 .3 1 .3-1.9 .3 4 .3-2.8 .2-.4 .3 3.2 .3-2 .3-.5 .3-1.1 .3 1.3 .3-1 .3-1.1 .3 2.9 .3-.5 .3 .3 .3-.3 .3-.7 .3-1.3 .2 1.7 .3-1 .3 2.8 .3 1 .3-5.9 .3 2.8 .3-.7 .3 1.1 .3 2.5 .3-1.5 .3-4.7 .3 5.2 .3-2.8 .2 1.5 .3-1.7 .3 0 .3 .1 .3 1.3 .3 2.4 .3-3.2 .3-.1 .3-1.2 .3 1.4 .3 .7 .3-1.2 .3 2.1 .2-2.1 .3 .8 .3-.2 .3 4.3 .3 .1 .3-5 .3 .4 .3-1.1 .3 .3 .3 1.1 .3 2.2 .3 .4 .3-3.3 .2 .6 .3 2.1 .3 .4 .3-1.5 .3-1.6 .3 1.6 .3 2.6 .3 0 .3-3.1 .3-2 .3 1.3 .3-2 .3 2.9 .2-.7 .3-.1 .3 1.6 .3-1.5 .3 2.3 .3-1.9 .3 .5 .3 1.5 .3-4 .3 5.4 .3-3.5 .3-1.3 .3 2.3 .3 2.8 .2-4.2 .3 2 .3 1 .3 .1 .3-1.7 .3-2.5 .3 1.2 .3 3.1 .3-4.5 .3 4.1 .3-1.6 .3 .4 .3-.5 .2-1.7 .3 5.4 .3-6.2 .3 1.9 .3-2.1 .3 3 .3 .2 .3-5.2 .3 5.1 .3-1 .3 1.6 .3-1.3 .3-1.8 .2 1.8 .3-1.2 .3 2.5 .3 1.1 .3 .1 .3-2.8 .3-1.3 .3 1.5 .3 2.2 .3-1.5 .3 1.4 .3-2.2 .3 .2 .2 .6 .3 .9 .3 5.6 .3-4.3 .3-3.1 .3 1 .3-1.6 .3 2.6 .3-.6 .3-1.4 .3 .7 .3-.9 .3-.1 .3 2.7 .2-2.1 .3-1.1 .3-.7 .3 .5 .3-.2 .3 3 .3-2.6 .3 1.6 .3-.3 .3 .8 .3-2.8 .3 .8 .3 2.5 .2-.3 .3-2.3 .3 3.7 .3-2 .3-.7 .3 .6 .3-2.1 .3 2.1 .3-.2 .3 1 .3-1.8 .3 .7 .3-2.9 .2 .3 .3 2.2 .3 3.6 .3-4.2 .3 2 .3-1 .3 .8 .3 1 .3-2.2 .3 .8 .3-.7 .3-3 .3 4 .2-.6 .3-.1 .3 1.4 .3-2.1 .3 3.1 .3-2.5 .3-1.4 .3 2.1 .3 2.7 .3-4.3 .3 1.3 .3-3.1 .3 5 .3-4 .2 0 .3 1.5 .3-1.1 .3 1.1 .3-1.7 .3 1.1 .3 1.2 .3 1.4 .3-7.5 .3 3.3 .3 1.7 .3 1 .3-.6 .2 .9 .3-1.4 .3 1.3 .3 1.5 .3-3.6 .3-2.8 .3 4.5 .3-.7 .3-.3 .3-3.1 .3 3 .3 1.1 .3 .2 .2 2.6 .3-5.1 .3-.7 .3 3 .3-.8 .3 1.6 .3-2.1 .3-.5 .3 1.6 .3-.6 .3 2.4 .3-2.6 .3 .4 .2 .3 .3-1.4 .3-1.4 .3 3 .3 .1 .3-1.4 .3 1.3 .3-1.8 .3 1.9 .3-1.1 .3-1 .3 3.1 .3 1.2 .3-2.1 .2 .8 .3 2.4 .3-2.5 .3 2 .3-3 .3-1.1 .3 4.5 .3-5.8 .3 .3 .3 3.3 .3-.6 .3-2.4 .3 3.7 .2-1.6 .3-.9 .3 1 .3-.3 .3-1 .3 1.3 .3-1.5 .3 1.9 .3 2 .3-1.2 .3-.7 .3-.6 .3 3.8 .2-4.6 .3-1.4 .3 3 .3-1.2 .3 .9 .3-1.7 .3-2.2 .3 3.4 .3 1.9 .3-4.3 .3 2.9 .3 .8 .3-1.1 .2 1.8 .3-1.9 .3-3.1 .3 .7 .3-.1 .3 3.5 .3-1.2 .3 .7 .3-1.3 .3-1.7 .3 2.5 .3 1 .3 .4 .2-2.3 .3 2.8 .3-1.7 .3-.6 .3 3.2 .3-2.8 .3-.7 .3 1.6 .3 .4 .3-1.3 .3-.3 .3-2.7 .3 3.1 .3-3 .2 .3 .3 2.4 .3-1.6 .3-.1 .3 .5 .3 .6 .3 .6 .3-1.9 .3 2.6 .3 .8 .3-1.3 .3-1 .3 .6 .2 1.1 .3-2.1 .3 1.2 .3-2.8 .3 2.6 .3 .4 .3 2.8 .3-.8 .3 .1 .3-4 .3 .5 .3 3.2 .3-1.6 .2-1.6 .3-1.9 .3 4 .3-1.5 .3-1.2 .3 2.7 .3-.6 .3 .9 .3-.4 .3-1.6 .3-1.1 .3 3.2 .3 .6 .2-1.7 .3-.8 .3 1.8 .3-.6 .3 .8 .3-2.1 .3 .7 .3-2 .3 0 .3 .5 .3 1.6 .3 .7 .3 0 .3-1.8 .2-.1 .3 2.9 .3-4.4 .3 .9 .3 2.2 .3-.2 .3-1.9 .3 4 .3-.2 .3-3.9 .3 .4 .3-1.2 .3 2.7 .2-4.1 .3 3.1 .3 4.9 .3-3.8 .3-2.8 .3 1.1 .3 1.6 .3-.4 .3 1.3 .3-.5 .3 1.6 .3 .3 .3-.6 .2 .2 .3-4.4 .3 1.8 .3 1.4 .3 1.1 .3-3.5 .3 3.6 .3-3.8 .3 1.8 .3 2.1 .3-3 .3 1.4 .3-2.9 .2 2.6 .3 .8 .3-.6 .3-.4 .3-1.1 .3-1.3 .3 2.6 .3-1.9 .3 1.2 .3-.7 .3 2.8 .3-.1 .3 .9 .3-1.9 .2-3 .3 2 .3-.8 .3-1.5 .3 2.3 .3-1.7 .3 5.6 .3 .8 .3-5.5 .3 2.1 .3-1.3 .3 .5 .3-.2 .2 .7 .3-1.1 .3 1.6 .3-4.6 .3 1.9 .3 3.7 .3-1.9 .3 0 .3-.1 .3-2.6 .3 1.2 .3 2.5 .3-.7 .2-3.3 .3 5.5 .3-.4 .3-4.1 .3 2.5 .3-3.1 .3 0 .3-.9 .3 5.9 .3-.5 .3 .4 .3-5.5 .3 4 .2-2.7 .3 4.9 .3-.8 .3-.7 .3-2.4 .3 2 .3-.4 .3-1.5 .3 .4 .3 .6 .3-1.3 .3-1.3 .3 2.7 .3-2.6 .2 4.9 .3 .3 .3-1.6 .3-1.9 .3 1.4 .3-.2 .3 1.3 .3-5.4 .3 6.4 .3-1.5 .3-.5 .3-1.9 .3-.9 .2 2.8 .3-1.9 .3-3.2 .3 2.3 .3 1.3 .3-2.5 .3 .3 .3 3.4 .3-2.4 .3 1.1 .3-1.1 .3 .4 .3 .8 .2 2.4 .3 .5 .3-6.4 .3 4.7 .3 1.1 .3-2.1 .3-.1 .3-1.1 .3 3.5 .3-2.8 .3 2.7 .3-.5 .3-3.5 .2 2.5 .3-1.9 .3 2.3 .3-2 .3-.6 .3 3.6 .3-1.6 .3 0 .3 1 .3-.1 .3-1.2 .3-.2 .3 .2 .2 .4 .3-.2 .3 2.4 .3-2.8 .3-.1 .3 3.6 .3-4.7 .3 2.1 .3-3.7 .3-.7 .3 1.9 .3 2.2 .3-.6 .3 2.9 .2-2.7 .3 1.2 .3-1.7 .3-.6 .3 .3 .3-.6 .3 2.5 .3-2.9 .3 .9 .3 .2 .3-1.1 .3 4.4 .3-.4 .2-2 .3 .9 .3-4.4 .3 2.9 .3 2.5 .3-2.3 .3-1.8 .3 .1 .3 3.3 .3-3 .3 3 .3-4.3 .3 3.4 .2 .3 .3-.7 .3-.4 .3 1.2 .3-1.9 .3 1.2 .3-.1 .3 .3 .3-1.8 .3 2.8 .3-4.8 .3 1.3 .3 2.5 .2-1 .3-1.9 .3 2.3 .3-2 .3 1 .3 2 .3 .3 .3-.1 .3-3.1 .3 1.4 .3 3.6 .3-4.3 .3 3.1 .3-2.6 .2 0 .3-.9 .3 .5 .3 .3 .3-1 .3 .9 .3 3.8 .3-4.9 .3-.4 .3-1.1 .3-.5 .3 5.4 .3-.2 .2 .1 .3-.4 .3 1.2 .3-1 .3 .3 .3 .7 .3-.1 .3-.3 .3-.5 .3-2.6 .3 .4 .3 1.9 .3 1.3 .2-5.2 .3 5.5 .3-1.7 .3 1 .3-3 .3 .7 .3-5 .3 6.1 .3-1.5 .3-1.5 .3 2 .3 .3 .3 .5 .2-1.4 .3 1.3 .3 .6 .3 1.9 .3-2.7 .3-.7 .3 1 .3-2.8 .3-1.1 .3 4.3 .3 0 .3-1 .3-2.4 .3 4.2 .2-3 .3 4.5 .3-1.9 .3-1 .3 .7 .3-1.5 .3 0 .3 .1 .3-.7 .3 0 .3-.1 .3 1.2 .3-4.9 .2 2.5 .3 1.6 .3 1.7 .3-1.7 .3 .8 .3-3.7 .3 5.2 .3-2 .3-1 .3 1.1 .3 2.1 .3-.8 .3 .3 .2 .5 .3-2.9 .3 2.8 .3-5.2 .3 1.9 .3 2.6 .3 .4 .3-3.1 .3 2.1 .3 1.1 .3-1.7 .3 .7 .3 .1 .2 1.6 .3-3.3 .3-1.1 .3 4.7 .3-1.8 .3-3.9 .3 3.5 .3-2.4 .3-1.7 .3 7.4 .3-3.5 .3 1.8 .3-5 .3 3.4 .2-1 .3 .3 .3 2.9 .3-4 .3-2.1 .3 5 .3-3.9 .3 4.3 .3-.1 .3-4.5 .3 3.6 .3-.6 .3-4.2 .2 1.6 .3 2.2 .3 .4 .3-.5 .3 1.6 .3-3.8 .3 2.9 .3-.6 .3-2 .3 .5 .3 2.3 .3 .5 .3-.7 .2 .6 .3 1 .3-2 .3-.9 .3-2.7 .3 6 .3-3.3 .3 1.2 .3-.6 .3-.4 .3-.2 .3 .3 .3 .5 .2 0 .3-3.3 .3 4.8 .3-2.9 .3 1.5 .3-.4 .3 2.2 .3-1.9 .3 0 .3-3 .3 2.4 .3 2 .3-1.8 .2 2.6 .3-2.4 .3 2 .3 .6 .3-1.1 .3-2.9 .3 4.9 .3-2.9 .3-2 .3 4.7 .3-4.3 .3 .8 .3 2.2 .3-1 .2-2.5 .3 6 .3-6.7 .3 .9 .3 2.2 .3 2.5 .3-6.5 .3 1.6 .3 1.6 .3 .7 .3-1.3 .3 1.1 .3-1.6 .2 0 .3-1.8 .3 4 .3-2.7 .3 1.8 .3 2.8 .3 .2 .3-3 .3-.6 .3-1.6 .3 1.8 .3-.1 .3-2.5 .2 1.7 .3 1.2 .3 .1 .3-2.3 .3 .6 .3-.8 .3 2.8 .3-2.5 .3 1.9 .3-.9 .3 1.2 .3 2.3 .3-5 .2 1.8 .3-.8 .3 2.9 .3-1.5 .3-1.3 .3-.3 .3 3.1 .3 .9 .3-6.2 .3 2.2 .3-1.7 .3 1.6 .3 .1 .3-1 .2 3.2 .3-3.1 .3 2.3 .3-4.2 .3 1.7 .3 1.7 .3 1.1 .3-2.4 .3 2.7 .3-1.2 .3-2.8 .3 5.8 .3-5.1 .2 4.8 .3-5.3 .3 4.1 .3 0 .3-.2 .3-1.9 .3 1.6 .3-5.3 .3 4.3 .3-.3 .3-.5 .3 3.6 .3-1.7 .2-.1 .3-.3 .3 .2 .3 .2 .3-3.6 .3-.8 .3 6 .3-2.5 .3-1.2 .3 1 .3 .3 .3 .1 .3 .4 .2 .3 .3 .6 .3-3 .3 .7 .3-1 .3 1.7 .3 2.1 .3-.7 .3-2.7 .3-.9 .3 .8 .3 3.4 .3 .1 .3-4.1 .2-5.3 .3 3.7 .3 6.7 .3-3 .3 .4 .3 .1 .3-1 .3 1.5 .3-3.5 .3-.4 .3 1.5 .3 .1 .3 1.9 .2-1.3 .3-1.6 .3 3.3 .3-3.4 .3 3.6 .3 1.2 .3-.4 .3-3 .3 2.8 .3-3.6 .3 2.6 .3-2.6 .3 1.6 .2-1.7 .3 3 .3-1.3 .3-.6 .3 1.2 .3-.9 .3 1.2 .3-2.4 .3 3.8 .3-4 .3 1.7 .3 2.9 .3-2.1 .2-3.2 .3 1 .3 1.8 .3-2 .3 .8 .3 .8 .3 .3 .3-1.1 .3 1.6 .3-.6 .3 1.9 .3-4.2 .3 .2 .3 0 .2-.4 .3 1 .3-.6 .3 1.3 .3-1.3 .3 6 .3-5.2 .3 2.7 .3-2.2 .3-.5 .3-.6 .3 2 .3-.5 .2-1.6 .3 2.4 .3-.1 .3-.3 .3-1.8 .3 2 .3 1.3 .3-1.8 .3-1.3 .3 .3 .3 5.4 .3-4.1 .3-.2 .2 .8 .3-1.6 .3-.9 .3 2.3 .3 .4 .3 .6 .3-1 .3 0 .3 .2 .3 .8 .3-1.4 .3-2.1 .3 1.6 .2 2.5 .3-.8 .3 0 .3-1.7 .3 .9 .3-.3 .3-.2 .3 1.2 .3-1.3 .3 1.4 .3-.7 .3-.8 .3 .7 .2-1.1 .3-.3 .3 1.5 .3 1.5 .3-5.2 .3 3.2 .3 3.2 .3-2.8 .3 1.2 .3-3.1 .3 .9 .3 2.3 .3 .3 .3-2.7 .2-2 .3 2.4 .3-.5 .3 .6 .3-2.1 .3 .8 .3 4.8 .3-5.7 .3 3.1 .3 .7 .3-.9 .3-1.3 .3-1.3 .2 .1 .3 2.9 .3-1 .3-1.2 .3 1.8 .3 1.9 .3-2.7 .3 1.2 .3-.4 .3 .9 .3-.5 .3 1.3 .3-4.1 .2 2 .3 1.4 .3-4 .3 3.7 .3-3.8 .3 3.9 .3 .9 .3-3.5 .3 4.2 .3-4.4 .3 3.2 .3-2.2 .3-.4 .2-1.8 .3 0 .3 3.5 .3-.2 .3 4.3 .3-7.7 .3 3.3 .3 1.3 .3-1.4 .3 1.2 .3-4.6 .3 2.3 .3-.3 .3 3.2 .2-2.7 .3 .4 .3 .6 .3-1.3 .3 0 .3-1.6 .3 5.1 .3-3.6 .3 3.9 .3-2.3 .3 .7 .3-.3 .3 1.5 .2-5.3 .3 6.8 .3-2.8 .3-2.9 .3 2.9 .3-2.4 .3 2.8 .3-2.3 .3 1.3 .3 .5 .3-4.9 .3 5.5 .3-1.7"/>
<path stroke="#ff0000" d="M125.7 877.6l .3-5.3 .3-1.8 .3-4.2 .3 8 .3 5 .3-3.8 .2 1.5 .3 1.6 .3-5.9 .3 11 .3-11 .3 3.9 .3 7.3 .3-8.9 .3 .8 .3-2 .3 2.6 .3-7.6 .3 4.6 .2 7.3 .3-4.6 .3-1.4 .3 1.9 .3 .1 .3-.8 .3 1.3 .3-7 .3 7 .3-3.9 .3 4.5 .3-2.5 .3-3 .3 2.9 .2-2.9 .3 6.2 .3-3.2 .3 2.7 .3-6.1 .3 8.5 .3-5.9 .3 5.1 .3-1.6 .3-6 .3 4.4 .3-2.7 .3 3 .2 3.1 .3-2.3 .3 1.2 .3-6.9 .3 4.2 .3 .5 .3 2.3 .3-5.3 .3 3.7 .3-.5 .3-6 .3 1.5 .3 4.6 .2-5 .3-.2 .3 6.6 .3-6.8 .3 3.3 .3 1 .3-1.5 .3-.5 .3 .3 .3 2.6 .3 2.9 .3-5.6 .3 1.3 .2-.5 .3-3.2 .3 4.7 .3 1.9 .3-5.3 .3 5.2 .3-4.4 .3 5.3 .3 .2 .3-4.9 .3-5 .3 5.1 .3-3.2 .3 .3 .2 3.3 .3 4.9 .3-4.4 .3-.4 .3-5 .3 3.8 .3-2.4 .3 5.9 .3-3.2 .3 1.5 .3 .1 .3-.5 .3 3.5 .2-1.4 .3-2.5 .3 1.5 .3 1.2 .3 2.5 .3-3.8 .3 4.1 .3-6.3 .3 1.1 .3-3.8 .3 7.1 .3-5.7 .3 0 .2 5.8 .3-4.2 .3-.7 .3 5.2 .3-3.4 .3 3.4 .3-4.1 .3 3.5 .3 1.1 .3-3.1 .3 5.3 .3-6.7 .3 .6 .2 .9 .3 2.8 .3-3.9 .3-.5 .3 2.1 .3 3.1 .3-5.1 .3-2.6 .3 3.5 .3 2.3 .3-3.5 .3 2 .3-6.1 .2 5.8 .3 .3 .3 1.6 .3-1 .3 1.4 .3-5.3 .3 5 .3-7 .3 3.2 .3 5.2 .3-.8 .3-8.2 .3 7.5 .3-3.1 .2-1.1 .3 3 .3-.2 .3 3.9 .3-8.6 .3 3 .3 .9 .3-5.1 .3 9.1 .3 1.8 .3-7.2 .3 3.1 .3-2 .2 1.6 .3-2.8 .3 4.6 .3-6.1 .3 7.7 .3-3 .3 6.2 .3-12.3 .3 4.7 .3-3.6 .3 3.5 .3 1.8 .3-4.1 .2-1.6 .3-.9 .3 5.9 .3 3.2 .3-.3 .3-3.4 .3-3 .3 1.8 .3-3.4 .3-.2 .3 8 .3-4.1 .3 1.8 .2-1.7 .3 4.8 .3 .3 .3-6.6 .3 1.2 .3-.9 .3 6 .3-.2 .3-4.6 .3 7.8 .3-6.8 .3-3.8 .3-2.4 .3 5.7 .2 1.4 .3-2.7 .3 2.8 .3 2.6 .3-3.8 .3 2.7 .3 2.5 .3-3.5 .3-3.2 .3 3 .3 .3 .3 4.9 .3-7.8 .2-3.3 .3 5.6 .3 .1 .3-2.3 .3 3 .3-.7 .3 2.6 .3-6.1 .3 .4 .3 2.1 .3-1.5 .3 5.4 .3-2.1 .2-1.8 .3 4.7 .3-3.1 .3 1.5 .3-.6 .3-2.8 .3 0 .3 .5 .3-3.3 .3 2.2 .3 3.6 .3-1.6 .3-3.7 .2 9.9 .3-10.2 .3 5 .3 .3 .3 1.7 .3-6.4 .3 2.6 .3-.6 .3 4 .3-2.2 .3 .1 .3 .4 .3 4.2 .3-3.8 .2 .6 .3-5.4 .3 4.9 .3-5.8 .3 6.6 .3-2.3 .3-3.1 .3-.8 .3 3.2 .3 .7 .3-2.1 .3 .7 .3 .1 .2-.6 .3 1 .3 1.4 .3 3.1 .3-2 .3-3.5 .3 6.5 .3-1.3 .3-4.3 .3 3.9 .3-4.6 .3-.7 .3 .1 .2 7 .3-4.4 .3 .6 .3-.8 .3-1.3 .3 2.6 .3 .6 .3 3.8 .3-8.3 .3 7.1 .3-2.6 .3-7 .3 8 .2 1.9 .3-1.5 .3-2.5 .3-.3 .3-6.3 .3 6.8 .3-.4 .3-3.3 .3 3.4 .3-7.6 .3 13.7 .3-10.3 .3 .9 .3-3.7 .2 5.2 .3 1.5 .3-.3 .3-1.9 .3 4.4 .3-1.8 .3 2.8 .3-3.9 .3-4.8 .3 4.7 .3-2.5 .3 5.4 .3-4.2 .2 1 .3 .7 .3-4.4 .3 3.3 .3 3.7 .3-4.2 .3 1.2 .3 .9 .3-2.4 .3 1.1 .3 2.1 .3-2.4 .3 1.3 .2-.6 .3-2.6 .3-.7 .3 9.6 .3-1.8 .3-4.4 .3 3.2 .3 .4 .3-.4 .3-3.9 .3-3.1 .3 .5 .3 3 .2 4.7 .3 .6 .3-5.2 .3-.3 .3 4.5 .3 2.5 .3-8.7 .3 4.1 .3-.9 .3-1.4 .3-7.5 .3 7.5 .3 1 .2-4.5 .3 4.5 .3 2.3 .3-.1 .3 .2 .3-1.4 .3-.4 .3 5.2 .3-6.2 .3 1 .3 3.2 .3-3.6 .3-3.8 .3 2.1 .2 .4 .3 .8 .3-.8 .3 4.2 .3-.9 .3-.6 .3-2.6 .3 4.2 .3-.1 .3 3.5 .3-8.1 .3 1.5 .3 4.3 .2-7.1 .3 3.9 .3-.1 .3-.5 .3-2.9 .3 2.9 .3-4.4 .3 7.7 .3-4.8 .3 1.8 .3-.4 .3 .5 .3-.1 .2 .8 .3-2.2 .3 1.1 .3-3.3 .3 .2 .3 .6 .3-.5 .3-1 .3 2.1 .3 3.7 .3-.6 .3-2.4 .3 2.1 .2 .1 .3 6.7 .3-12.3 .3 5.3 .3-4.4 .3 7.4 .3-4.3 .3 2 .3-.7 .3 1.4 .3-10.4 .3 5.1 .3 3.6 .3-4.1 .2 5.4 .3 2 .3-7.3 .3 2.5 .3 3.1 .3 3.4 .3-2.3 .3-.8 .3-4.6 .3 2.6 .3 .3 .3-2.1 .3 2.9 .2-2.1 .3-.4 .3 7.4 .3-6.6 .3 5.9 .3-6.5 .3 .9 .3-3.4 .3 2 .3 6.2 .3-4.5 .3-5.8 .3 9.8 .2-6.6 .3 1.3 .3 1.1 .3-5.3 .3 9.8 .3-.7 .3-4.7 .3 2 .3-1.8 .3-.9 .3 1 .3-3.4 .3 2.9 .2-.4 .3 7.1 .3-9.7 .3 7.8 .3-1.5 .3-1.6 .3-2.2 .3 6.9 .3-1 .3-4.3 .3-.4 .3 1.1 .3 4.7 .3-7.8 .2 2.8 .3 3 .3-7.2 .3 3.8 .3 3.4 .3-4.4 .3 .9 .3-4.1 .3 5.5 .3-4.4 .3 2.2 .3 2.1 .3-2.6 .2 4.1 .3-.4 .3-.7 .3 1.4 .3-3.2 .3-5.7 .3 8.6 .3-.2 .3-3.6 .3-1 .3 5.7 .3-4.7 .3 .3 .2-.2 .3 7.9 .3-8.7 .3-5.3 .3 7 .3-2.6 .3-2.1 .3 5.3 .3-1.9 .3 4 .3-3.5 .3 4.3 .3-.6 .2-2.7 .3 2.1 .3 3 .3-3.2 .3-6 .3 4.3 .3 .3 .3 3 .3-3.9 .3 3.6 .3-3.6 .3 .5 .3-.8 .3 .7 .2-.4 .3 1.3 .3-3.1 .3-.8 .3 2.7 .3 .7 .3-1.6 .3 2.3 .3-.2 .3 3.8 .3-8.8 .3 9.6 .3-12.1 .2 1.6 .3 5.7 .3-3.5 .3 1.8 .3-.4 .3-2.4 .3-.2 .3 2.7 .3 2.1 .3 .7 .3-1.2 .3-1.4 .3 4.3 .2-9.5 .3 6.2 .3 3.5 .3 1 .3-1.2 .3 .4 .3-.8 .3-2.5 .3-6.6 .3 4.8 .3 .7 .3 5.2 .3-5.6 .2 .2 .3 2.8 .3-4.5 .3 2.8 .3 1.5 .3-2.5 .3 .8 .3-4.8 .3 1.5 .3 2.7 .3 3.9 .3-4.7 .3-1 .2 .3 .3 4.1 .3-5.8 .3 4.4 .3-1.4 .3 1.2 .3-2.3 .3 2.3 .3 3.6 .3-4.6 .3-.6 .3-5.7 .3 8.4 .3-3.1 .2 2.9 .3-.8 .3-2.5 .3 .4 .3-1.9 .3 9.2 .3-2.9 .3-.2 .3 1 .3 .5 .3-1.4 .3 .4 .3 4 .2-11.5 .3 5.3 .3-2.2 .3 1.9 .3-7.1 .3 4 .3 5.2 .3-5.7 .3 5 .3-3.8 .3 1.8 .3-3.6 .3 2.4 .2-2.4 .3 5.6 .3-6.2 .3 5.6 .3-2.3 .3 1 .3 4.3 .3-4.5 .3-1 .3 1.8 .3 1.8 .3-3.3 .3 6 .2-4.1 .3-1.4 .3-.8 .3 1.4 .3 1.9 .3 1.4 .3-2.6 .3-1.8 .3 1.5 .3-5.5 .3 8.6 .3-.8 .3-2.7 .3 2.4 .2-4.5 .3 7.5 .3-5.1 .3-.7 .3 6.8 .3-8 .3 3.8 .3-3.3 .3 .8 .3 .7 .3-.7 .3 5.4 .3-1 .2-4.4 .3 7.8 .3-6.4 .3-.3 .3 1.5 .3-3.8 .3 6.2 .3-5.9 .3-.9 .3 6.1 .3-5.2 .3 1.7 .3-2.5 .2 1.9 .3 1.4 .3-6.5 .3 6 .3-1.9 .3 5.7 .3 1.6 .3-3.9 .3 .1 .3 1.2 .3 0 .3-6.4 .3 .3 .2 2.1 .3-2.4 .3 2.7 .3 1.1 .3-2.3 .3 3.2 .3 2.5 .3-3.6 .3 1 .3-1.2 .3-.1 .3-1.1 .3-1.6 .3 4.3 .2 1.3 .3-2.9 .3 .4 .3-3.7 .3 2.8 .3 1.4 .3-1 .3 .3 .3-2.6 .3-.7 .3 2.6 .3 4.3 .3-4.7 .2-2.8 .3 2.1 .3 1.2 .3 3.5 .3-.4 .3-4.6 .3-.5 .3 1.8 .3 .6 .3-2.4 .3 4.8 .3-3.4 .3 1.7 .2-1.1 .3 1.7 .3-1.5 .3 .8 .3 2.4 .3-2.4 .3 3 .3-6.7 .3 2.6 .3-2 .3-.9 .3 3.3 .3 4.7 .2-4 .3 1.8 .3-7 .3 5.2 .3-3.4 .3 3.3 .3 1.9 .3-3.6 .3 3.8 .3-4.5 .3 2.1 .3-1.8 .3 1.7 .3-.6 .2-4.9 .3 4.4 .3-.3 .3 5.2 .3-10 .3 6.1 .3 1.8 .3 2.6 .3-1.5 .3-3.2 .3 3.6 .3-3.8 .3-.1 .2-.4 .3-.1 .3 4.5 .3-7.4 .3 .2 .3 5.8 .3-1.1 .3 .9 .3-2.6 .3 2.1 .3-2.1 .3-.6 .3 .1 .2 1.4 .3-.2 .3-1.1 .3 4.6 .3-2.6 .3-1.9 .3-2.2 .3 2.8 .3-3.6 .3 1.7 .3-.6 .3 .6 .3 2.5 .2-7.9 .3 10.8 .3-2.4 .3-2 .3-.4 .3 3 .3-1.9 .3 4.3 .3-4.4 .3-1.8 .3-1.1 .3 3 .3 2.6 .2-5.1 .3 5.7 .3-1 .3-2.6 .3 3.6 .3-6.9 .3-.9 .3 5.6 .3 .3 .3-.1 .3-.9 .3-3.2 .3 4.5 .3-2 .2 2.8 .3-1.5 .3-3.1 .3 4 .3 .5 .3 0 .3-3.4 .3-.7 .3 4.1 .3-1.9 .3-.1 .3 2.5 .3 .1 .2-1.2 .3-1.6 .3 3.9 .3-5.7 .3 2.4 .3 .7 .3-3.8 .3 1.5 .3 3.6 .3-2.2 .3-2.1 .3 6 .3-3.2 .2-.2 .3 3.8 .3-7.2 .3 2 .3-.8 .3 5 .3-4.7 .3 7 .3-4.2 .3-.3 .3 1.5 .3-2.6 .3-1.5 .2 .6 .3 1.4 .3-2.2 .3 2.5 .3-1.7 .3 .9 .3 .3 .3 3.7 .3 1.6 .3-.9 .3-4.3 .3-1.1 .3 3.9 .3 .6 .2-.8 .3-3.3 .3 2 .3-1.2 .3 2.9 .3-.2 .3-1.6 .3-1.3 .3 4.7 .3-3.4 .3 1.4 .3-.5 .3 .5 .2 .9 .3-3.3 .3-.2 .3 2.3 .3-8.3 .3 6.8 .3-7 .3 8.8 .3-.8 .3-1.2 .3-2.1 .3 2.2 .3-.3 .2 .8 .3 .4 .3-2.1 .3 2.7 .3-2.3 .3 2.1 .3-.3 .3 2.1 .3-2.7 .3 3.5 .3-4.2 .3-1.1 .3 3.3 .2-4.1 .3 3.5 .3 0 .3-.4 .3 .5 .3-.4 .3 2.3 .3-3 .3-4 .3 3.5 .3 2.6 .3 .3 .3-.6 .3-1.4 .2-2.1 .3 5.4 .3-4.6 .3-1.1 .3-2.9 .3 9.4 .3-4.2 .3-4 .3 5.9 .3-.4 .3-5.1 .3 5.3 .3-1.6 .2 1.4 .3 1.5 .3-3.9 .3 5.6 .3-4.9 .3-1.1 .3 3.8 .3-4 .3 .7 .3 2.6 .3-3.8 .3-1 .3 3.5 .2-.6 .3-1.3 .3 3.3 .3-4.6 .3 4.1 .3-3.9 .3 3.3 .3-3.7 .3 4.1 .3-1.6 .3-.8 .3 1.1 .3-.5 .2 2.1 .3-3.2 .3 2.3 .3-1.6 .3-.7 .3 .2 .3-1.2 .3 3 .3-.5 .3 .6 .3-4.3 .3 2.5 .3 4.2 .3-.6 .2-2.9 .3 .3 .3 .4 .3 1.9 .3 .9 .3-2.5 .3-.1 .3-.6 .3 .8 .3 3.1 .3-5.2 .3 2.8 .3-3.8 .2 .1 .3-1.3 .3 2.3 .3 4.5 .3 .3 .3-1.8 .3-1.8 .3 2.4 .3-4.6 .3-.7 .3 1.1 .3 1.4 .3-3.4 .2 2.2 .3 5.3 .3-4.1 .3-.4 .3-.5 .3 2.9 .3-.2 .3-1.2 .3-.5 .3-4.3 .3 1.5 .3 2.2 .3-.3 .2 .5 .3-.4 .3 4.8 .3-1.3 .3-4.8 .3 3.9 .3-.7 .3-1 .3-.4 .3 1.3 .3 3.2 .3-5.1 .3 .8 .2 .1 .3-3.4 .3 3.7 .3-1.8 .3 2.3 .3 .3 .3 3 .3-4.3 .3-.1 .3 2.2 .3 2.6 .3-3.8 .3 .7 .3 .2 .2-.2 .3-2.1 .3-.6 .3 .2 .3 .7 .3 1.4 .3-2.4 .3 .2 .3 1.6 .3-.3 .3 .5 .3-2.9 .3 6.7 .2-4.5 .3 0 .3-1.3 .3 2.7 .3 1.2 .3-2.2 .3-.2 .3-.3 .3 5.2 .3-3.4 .3-2.1 .3 1.2 .3 1.9 .2-1.9 .3 .3 .3-.2 .3-.8 .3 1.6 .3 2.2 .3-2.4 .3-1.6 .3-1.1 .3 1.6 .3-1 .3-.6 .3 3.1 .2-.7 .3 1.6 .3-1.2 .3-1.8 .3 2.7 .3-1.1 .3 2.1 .3-4.9 .3 1.3 .3 .9 .3 3.1 .3-2.3 .3-3.3 .3 .5 .2 3 .3-4.4 .3 1.8 .3 1.2 .3-.5 .3 1.3 .3 1.1 .3-1.1 .3-3.2 .3 5.3 .3-.5 .3-3.9 .3 1 .2-2 .3 5.6 .3-3.8 .3 1.8 .3 .1 .3 1.7 .3-2.4 .3-1 .3 2 .3 .8 .3-3.1 .3 .9 .3-3 .2 6.1 .3-4.3 .3 3.4 .3-.2 .3-.2 .3 .3 .3-3.5 .3 2 .3-1.8 .3 1.1 .3-1.2 .3 6.4 .3-4.4 .2 1.6 .3-3.4 .3 5.1 .3-3.9 .3-.1 .3-.3 .3-2.5 .3-1 .3 4.5 .3-2.6 .3 1.7 .3 4.6 .3-4.7 .3 4.8 .2-3.5 .3-2.9 .3 3.4 .3 1.1 .3-.7 .3-3 .3-.8 .3 4 .3 2.1 .3-.3 .3-4.3 .3 .2 .3 1.1 .2 1.7 .3-1.3 .3-.1 .3-.8 .3-5.5 .3 3 .3 2.8 .3-3.5 .3 7.4 .3-11 .3 8.2 .3 .5 .3 .5 .2-4.8 .3 2 .3 3.6 .3-3 .3 1.5 .3-6.7 .3 5.8 .3-.5 .3-.6 .3-3.4 .3 2.2 .3 .9 .3-.2 .2-1.5 .3 4.5 .3-.3 .3-2.7 .3 3.8 .3-5.5 .3 3.1 .3 2.8 .3-2.2 .3-1.5 .3 1.3 .3-1.2 .3-.9 .3-.5 .2 1.6 .3-.3 .3 .9 .3-2.4 .3 2.3 .3 1.4 .3-3.2 .3 4.5 .3-4.8 .3 0 .3 .2 .3-1.2 .3-.7 .2 .7 .3 1.9 .3-1.1 .3 4.7 .3-3.5 .3-.4 .3-.3 .3 2.1 .3-.8 .3 .5 .3 1.1 .3 1.4 .3-5 .2 3.3 .3-1.3 .3 .5 .3-1.8 .3 2.5 .3 0 .3-.5 .3-2.3 .3 3 .3-3.4 .3-1.2 .3 4.8 .3-6.7 .2 1.8 .3 1.8 .3 1.5 .3 1.9 .3-2.4 .3-1.2 .3-.5 .3-5.9 .3 7.8 .3-1.3 .3 2.8 .3-2.7 .3 3.6 .2-2.6 .3 .5 .3-.3 .3-.1 .3 3.6 .3-4.7 .3 .4 .3 .6 .3 1.8 .3-3.4 .3 5 .3-4.9 .3 .8 .3 1.3 .2 .2 .3-2.2 .3 3.6 .3 1.9 .3-3.7 .3 1.6 .3-.1 .3 3.8 .3-4.8 .3 .5 .3-1.4 .3 1.2 .3-1.2 .2-.2 .3 .3 .3 2.3 .3-2.5 .3 2.3 .3-2 .3 2.7 .3-11.1 .3 6.4 .3 3.5 .3 1.8 .3-3.9 .3-3.3 .2 6.4 .3-1.2 .3-2.5 .3 4.3 .3-.1 .3-3.9 .3 .4 .3 2.1 .3 .1 .3 1.4 .3-1.8 .3 3 .3-4.8 .2-1.1 .3 .6 .3-.3 .3 1.3 .3-1.5 .3 3.3 .3 .8 .3 .9 .3-4.3 .3-1.6 .3 1.8 .3 .9 .3-1.1 .3 1.9 .2 0 .3-.3 .3-2.4 .3 3.4 .3-3.5 .3-3.2 .3 4.5 .3 2.7 .3-2.5 .3-3.2 .3-3.8 .3 9.3 .3-2 .2-.6 .3-2.3 .3 2.3 .3-1.2 .3 4.3 .3-2.3 .3 1 .3-4.9 .3 3.2 .3 1.7 .3 1.8 .3-.8 .3-4.2 .2 7.4 .3-6.1 .3-.3 .3 0 .3-1.6 .3 1.5 .3-.7 .3 .5 .3-.5 .3 .9 .3 1.9 .3-2.8 .3-1 .2 3.5 .3-1.2 .3 1.4 .3-3.2 .3 1.6 .3-1.4 .3-1 .3 1.7 .3 .7 .3 .8 .3-2.9 .3 3.8 .3 .7 .3-1.5 .2-1.5 .3-.8 .3 3.6 .3-3.6 .3 4.2 .3-6.2 .3-.2 .3 4.7 .3-3.4 .3 4.5 .3-2.8 .3-.2 .3 1.7 .2 1.5 .3-.4 .3-2.1 .3-.3 .3 2.3 .3-3.1 .3-.3 .3 .1 .3 8.3 .3-3.5 .3-1.9 .3-1.7 .3 1.8 .2-4.3 .3 2.8 .3 2.3 .3-1.4 .3-2.7 .3 2.2 .3-.2 .3 3.1 .3-5.7 .3 3.3 .3 4.1 .3-5.3 .3 3.3 .2-1.3 .3-1.1 .3-.8 .3 2 .3 2 .3-6.3 .3 3.5 .3 1.6 .3-3.4 .3 .2 .3 4.2 .3-3.3 .3-.3 .3 1.7 .2-.3 .3 .6 .3 0 .3 1.7 .3-2.1 .3 1.1 .3-3.4 .3 2 .3-1.5 .3 4 .3-2.3 .3 1.8 .3-2.8 .2-1.4 .3 3.3 .3-1.8 .3-2.6 .3 2.3 .3-1 .3 4.3 .3-2.9 .3 1.6 .3-.4 .3 1.4 .3-1.5 .3 .1 .2-.2 .3-3.4 .3 2.6 .3-2.4 .3 0 .3 2.4 .3-3.6 .3 2.9 .3 2.4 .3-2.1 .3 1.5 .3-3.6 .3 2 .2-5.1 .3 2.9 .3 .8 .3 4.8 .3 .5 .3-7.8 .3 3 .3-.6 .3 4.6 .3-1.4 .3-2.4 .3 2.3 .3 .8 .2-3.7 .3 0 .3 2.5 .3 .4 .3-4.9 .3 3.2 .3-4.5 .3 5.3 .3-2.2 .3 4.3 .3 .2 .3-6.3 .3 6.5 .3-3.9 .2 2.8 .3-1.6 .3-1 .3 .2 .3-.5 .3 3.8 .3-2.6 .3-2.2 .3 3.3 .3-2.3 .3 2 .3-2.6 .3 2.3 .2-2.6 .3 .3 .3 2.2 .3 1.2 .3-1.5 .3-.4 .3 5.3 .3-5.4 .3-4.9 .3 6.3 .3-2.3 .3-1.9 .3 5.1 .2-.4 .3-2.4 .3-.3 .3 1 .3 2.1 .3-3.9 .3 4.5 .3-2.1 .3 .3 .3 2.3 .3-3.7 .3 1.9 .3-1.2 .2-6.1 .3 5.6 .3 .4 .3-.4 .3 2.8 .3-3.5 .3 2 .3-.3 .3 .2 .3-4.4 .3 2.5 .3 0 .3 4.1 .3-3.9 .2 2 .3-.8 .3-3.3 .3 .5 .3 2.8 .3 .9 .3 1.7 .3-3.6 .3-2.1 .3 2.4 .3-2.6 .3 5.5 .3-3.4 .2 .5 .3 3.8 .3-2.8 .3-3.5 .3 3.5 .3-2.2 .3-1.2 .3 .8 .3-1.1 .3 3.8 .3-2.7 .3 .9 .3 2.8 .2-2.4 .3-.6 .3 1.2 .3-1.4 .3 1.3 .3-.5 .3 2.2 .3-2.5 .3-1 .3 .9 .3-3.5 .3 4 .3-4 .2 8.2 .3-3.1 .3 1.8 .3-6.2 .3 6.4 .3-1.8 .3 1.5 .3-3.4 .3 1.8 .3-.5 .3-1.2 .3 .7 .3 3.1 .3-6 .2 2.4 .3 1.6 .3 1.9 .3-5 .3-.5 .3-1.3 .3 4.5 .3-.9 .3 .3 .3-.2 .3-3.3 .3 5.7 .3-.3 .2-4.5 .3 1.2 .3-.5 .3 .4 .3 5.2 .3-1.7 .3-4 .3 2.4 .3 .7 .3-.6 .3-1.9 .3 .1 .3 1.2 .2 6.1 .3-7.8 .3 .7 .3 3.2 .3-1.4 .3-1.9 .3 6.9 .3-5.8 .3-.7 .3 .8 .3 1.5 .3 .2 .3 .7 .2-1.4 .3-1.4 .3 3.7 .3-3.1 .3-.8 .3 2.6 .3 .9 .3-3.3 .3 0 .3 .6 .3-1.1 .3 .7 .3 2.3 .3-.2 .2-6.1 .3 7.8 .3-.2 .3-5 .3 5.1 .3-5.5 .3 5.5 .3-3.9 .3 2.1 .3-.5 .3 .8 .3-3.9 .3 5.7 .2-1.5 .3-1.1 .3 2.1 .3-2.6 .3 4.2 .3-7 .3 7 .3-5.5 .3 1.9 .3-4.1 .3 4.1 .3-1.9 .3-.2 .2 3.4 .3-7.5 .3 7.9 .3-4.4 .3 .7 .3 2.1 .3-5.2 .3 2.3 .3 2.1 .3-3.9 .3 4.8 .3-3 .3 3.7 .2-3.1 .3 4.6 .3-6.7 .3 6.2 .3-5.7 .3 6.1 .3-3 .3-4 .3 5.4 .3-2.5 .3 .8 .3 .3 .3 1.9 .2-2.7 .3 2.2 .3-3.6 .3 1 .3 2.3 .3 1.8 .3-2.8 .3-.6 .3 1.6 .3 .3 .3-3.4 .3 8.9 .3-7.7 .3-2 .2 2.8 .3 1.1 .3-1.1 .3-1.4 .3 1.3 .3 1.4 .3-2.8 .3-.6 .3 2.5 .3-.1 .3-3.1 .3 8.5 .3-3.4 .2 1.7 .3-1.4 .3-6.2 .3 8.5 .3-9 .3 1.5 .3 3 .3-2.3 .3 3.3 .3 .5 .3-2.6 .3 4.6 .3-8.2 .2 5.1 .3 .5 .3 3 .3-2.7 .3-6.4 .3 5.5 .3-2.5 .3 1.2 .3 .8 .3 1.7 .3-4.5 .3 2.4 .3 1.3 .2-.6 .3 0 .3-6.6 .3 5.1 .3 1.6 .3-4.1 .3 2.1 .3-2.3 .3 2.7 .3-1.1 .3-3.6 .3 3.5 .3-.5 .3-5.2 .2 2.6 .3-.6 .3-2.9 .3 6.1 .3-5.3 .3 1.9 .3-8.1 .3 3.4"/>
<path stroke="#ff0000" d="M658.5 867.1l .3 .1 .3 6 .3-2 .3 0 .3-3.1 .3 5.9 .3-2.6 .3 8 .3-5.6 .3 7.1 .3-6.8 .2 5.7 .3-3.9 .3-.9 .3-1.6 .3-8.4 .3 11.6 .3-.2 .3-.5 .3-1 .3 4.6 .3-.1 .3 .6 .3-1 .2-.2 .3-.6 .3 1 .3 4.7 .3-4.4 .3 4.8 .3-4.8 .3 .9 .3-.8 .3-6 .3 8.3 .3-.5 .3 .1 .2-3 .3 4.5 .3 2.8 .3-9.6 .3-.6 .3-2 .3 5.3 .3-6 .3 5.1 .3-.8 .3 5.9 .3-4.8 .3 4.5 .2-3 .3 3.6 .3-6.7 .3 1.3 .3 .1 .3-5.7 .3 12.4 .3-10.5 .3-1.7 .3-.2 .3 9 .3-1.4 .3-1.4 .3-.1 .2 2.5 .3-2 .3-2.3 .3 4.1 .3 1.1 .3-1.9 .3-3.8 .3 3.5 .3-3.9 .3-.1 .3 2.4 .3-6.6 .3 7.9 .2 2.5 .3-3.4 .3-3.4 .3 3.5 .3 3.6 .3-2.8 .3 .7 .3 2.7 .3-1 .3-7.7 .3 2.3 .3-.3 .3-4 .2 2.1 .3 2.9 .3 3.3 .3-1.5 .3 3.1 .3-2.9 .3 5.3 .3-2.3 .3-3 .3 1.1 .3 1.2 .3-4.1 .3-4.7 .2 5.3 .3 2.5 .3-4.3 .3 5.3 .3-7.3 .3 .1 .3 9.6 .3-8.5 .3-.6 .3 3.5 .3-.7 .3-1 .3 1.4 .2-1.1 .3 2.1 .3 2.7 .3-13.1 .3 6.1 .3 3.5 .3-2.3 .3 5.4 .3 .8 .3 .4 .3-9.9 .3-5.1 .3 13.4 .3-1.1 .2 0 .3-4.2 .3-.2 .3 4.4 .3-1.7 .3-1.9 .3 3.2 .3 1.7 .3 .4 .3 1.5 .3-2.5 .3-7.1 .3 1.6 .2 4.3 .3 .2 .3-7.9 .3 3.3 .3 10.4 .3-8.1 .3 0 .3 1.1 .3-1.1 .3-.2 .3-1.2 .3 8.2 .3-3.6 .2-2.6 .3-2 .3 5.2 .3 1.7 .3-2.3 .3 2 .3 1 .3-3.4 .3-1 .3-1.9 .3-1.7 .3 2.4 .3 .7 .2 2.1 .3-3.2 .3 .2 .3-1.7 .3 5.6 .3-2.9 .3-3.3 .3 6.3 .3 3.2 .3-2.6 .3-6.1 .3-1.1 .3 6.7 .3-.8 .2-2.5 .3 2.8 .3-.9 .3 3.5 .3-3.6 .3-2.3 .3 6.9 .3-7.2 .3 5.7 .3-7.7 .3 6.6 .3-6.4 .3 2.4 .2 1 .3-4.5 .3-.6 .3 4.2 .3-.3 .3 .7 .3 .9 .3 3.8 .3-4.2 .3 3.6 .3-9.2 .3 6.5 .3 2.6 .2-1 .3-4.9 .3 4.8 .3 2.5 .3-4.7 .3-.4 .3 2.6 .3-.2 .3-3.4 .3 5.8 .3 .4 .3-4.8 .3 2.3 .2-.3 .3-5.3 .3 2 .3 1.1 .3-.8 .3 6.3 .3-4.3 .3-.5 .3 0 .3 3.2 .3-4.8 .3 3.5 .3-6 .3 3.7 .2 1 .3 3.2 .3-3.1 .3-3.4 .3 7 .3-1.7 .3-3.9 .3 1.4 .3 4.7 .3-3.4 .3-2.7 .3 4.8 .3-1.9 .2 4 .3-1.2 .3-3.6 .3 1.8 .3 7.1 .3-9.3 .3 .4 .3 4.6 .3-.9 .3-1.2 .3 1.5 .3-7.1 .3 .2 .2 5 .3-2.1 .3 1.4 .3 0 .3-4.6 .3 2.8 .3 1.4 .3 1.2 .3 .5 .3-3.1 .3 4.3 .3-2.9 .3-3.9 .2 2.1 .3 4.6 .3-3.6 .3 4.2 .3-3.3 .3-1.4 .3-1.6 .3 .8 .3 2.4 .3 .2 .3-1.2 .3 .4 .3 3.8 .3-2.1 .2-2.6 .3 1.4 .3 2 .3-1.4 .3-1.2 .3 4.7 .3-4.4 .3-.4 .3 1.5 .3 0 .3 .2 .3-1.4 .3-.7 .2 2.5 .3 .8 .3 2.9 .3-1.3 .3-3.6 .3 3.2 .3-2.7 .3 1.3 .3-.9 .3 .7 .3 2.1 .3-2.4 .3 .3 .2 3.3 .3-9.9 .3-.9 .3 12.1 .3-.9 .3-4.1 .3 1.3 .3-2.3 .3 1.3 .3 1 .3 1.2 .3-3.6 .3 .8 .2 3.8 .3-2.5 .3 3 .3-.8 .3-6.5 .3 6.6 .3-4 .3 1.4 .3-5.5 .3 2.6 .3-3.7 .3 9.4 .3-1 .2-4.7 .3 3.7 .3-.6 .3 3.9 .3-5.9 .3 .8 .3 .3 .3 .8 .3-.8 .3 5.8 .3-7.2 .3 3.2 .3-3.1 .3 2.4 .2-4.7 .3 2.6 .3 3 .3-2 .3 .1 .3 2.2 .3-1.6 .3 .2 .3-3.2 .3 4.9 .3-2.8 .3 .6 .3 .4 .2-.7 .3-2.2 .3 3.5 .3-2.1 .3 1.6 .3-.5 .3 .7 .3 2.1 .3-.2 .3-.2 .3-3.9 .3 3.2 .3-2.2 .2 .3 .3 2.6 .3-.8 .3-2.7 .3 2.1 .3-.6 .3 .7 .3 1.5 .3 .4 .3-2.7 .3 2.2 .3-4.6 .3 4.2 .2 1.5 .3-5.8 .3 3.7 .3-.8 .3 1.1 .3 0 .3-3 .3 1.3 .3 .6 .3-1.3 .3-.1 .3 .1 .3 2.7 .3 1.7 .2-4.9 .3 2.5 .3-1.9 .3 1.4 .3-1.1 .3 2.1 .3-5.7 .3 .9 .3 5.1 .3 1 .3-5.6 .3 .6 .3 1.7 .2 2.4 .3-3 .3 .9 .3 1 .3-1.9 .3 2.1 .3-2.5 .3 .8 .3 .4 .3 3.5 .3-3.4 .3-1.5 .3 4.7 .2-4.2 .3 1 .3 .2 .3 1.9 .3-.1 .3 .1 .3-3.4 .3-.2 .3 5.2 .3-1.4 .3-3 .3-.1 .3 .7 .2 .4 .3 1.6 .3-3.5 .3 3.9 .3 .1 .3-2.8 .3 .1 .3-.8 .3 1.2 .3 .4 .3-5.8 .3 5.5 .3-1.5 .3 2.9 .2-1 .3 1.6 .3-.8 .3-.4 .3 1.5 .3-2 .3 1.1 .3-.9 .3-1.1 .3 .8 .3 2.3 .3-2.3 .3-3.2 .2 4.4 .3-1.4 .3-2.1 .3 4 .3 2 .3-2.8 .3-.7 .3 1 .3-3.2 .3 2.9 .3-.3 .3 .7 .3-1.2 .2 .7 .3-3.8 .3 4 .3 .1 .3-.7 .3 .1 .3 2.6 .3-1 .3-3.9 .3-2 .3 4.1 .3-2.3 .3 3.9 .2-3.6 .3 2.4 .3-2.4 .3 3.4 .3-4.1 .3 1.4 .3 .8 .3 .3 .3-.4 .3 3 .3-4 .3 2.5 .3-1.2 .3-.4 .2 2.1 .3 .4 .3-2.4 .3 2.2 .3-3.1 .3 1.2 .3-1.3 .3 3 .3-1.8 .3-.5 .3 .2 .3 1.1 .3 .9 .2-1.7 .3-.2 .3 .9 .3 .5 .3-.9 .3-5.6 .3 7 .3 .8 .3 .4 .3-5.9 .3 3 .3 .9 .3-4.3 .2 1.6 .3-1.5 .3 6 .3-2.4 .3 4.1 .3-4.9 .3 3.5 .3-2.9 .3 .6 .3 0 .3 .3 .3-.5 .3 .3 .2 .2 .3-3.8 .3 3.2 .3 .9 .3-.2 .3-.4 .3-2.4 .3-.2 .3 1.1 .3 3.9 .3-2.3 .3-1.4 .3 2.9 .2-2.5 .3 1.6 .3 .4 .3-5 .3 4.5 .3 .4 .3-2.3 .3-1.1 .3 1.5 .3-1 .3-.7 .3 1.3 .3-.7 .3-.7 .2 3.9 .3-2 .3-.2 .3 1.4 .3-2.3 .3 .3 .3 2.7 .3-.1 .3-2.2 .3 2.2 .3 1.3 .3-3.7 .3 .7 .2 1.7 .3 .5 .3-2.3 .3-.5 .3 2 .3-1.1 .3-1.3 .3 .5 .3 1.3 .3 4.5 .3-7.3 .3 2.5 .3 1.7 .2-.8 .3-1.1 .3-2.1 .3 2.4 .3 1.1 .3 .1 .3-2.2 .3 .7 .3-.3 .3-.3 .3 .8 .3-1.2 .3-.9 .2 .6 .3 .4 .3 .9 .3-1.7 .3 1.8 .3 1.3 .3-3 .3 2.2 .3-.9 .3 5 .3-4.3 .3-.9 .3 1.9 .3-2.5 .2 1.7 .3-2.3 .3 2.4 .3-1.3 .3 1.4 .3-.8 .3-2.4 .3 3.8 .3-3.2 .3 4.6 .3-3.3 .3-.7 .3 .6 .2 3.5 .3-2.1 .3 .7 .3-4.2 .3 3.4 .3-1 .3 1.8 .3-4.5 .3 5.2 .3-.5 .3-.1 .3-2.1 .3-.1 .2 2.4 .3-4 .3 2.4 .3 1.2 .3-1.3 .3-.9 .3 1.9 .3 2.5 .3-5.5 .3 2 .3-1.4 .3 1 .3 .1 .2-.4 .3 2.5 .3-1 .3 1.2 .3-4.3 .3 .7 .3 2.2 .3-3.7 .3 3.9 .3 1.1 .3-2.3 .3 .1 .3 1.6 .3 .5 .2-2.2 .3 1.8 .3-3.3 .3 1.2 .3-.2 .3 2 .3-1.3 .3-1.4 .3-2.2 .3 3.2 .3-.1 .3-3.3 .3 3.3 .2 .8 .3-1.2 .3 1.7 .3-.2 .3 1.3 .3 0 .3-3.3 .3 3.1 .3-.6 .3-2.1 .3-1.3 .3 1.5 .3 0 .2-.4 .3-.3 .3 2.7 .3 .7 .3-1.2 .3-1.6 .3 2.5 .3-1.3 .3 1.5 .3-2.5 .3 1.3 .3 4.8 .3-5.3 .2-.3 .3-2.4 .3 .9 .3 3.8 .3-1.4 .3-4.6 .3 1.8 .3 2.8 .3-1.3 .3 1.5 .3-1.3 .3 0 .3 .1 .3 1.5 .2-1.6 .3 .4 .3-.4 .3 1.1 .3-1.5 .3 1 .3-3.9 .3 3.9 .3 1.8 .3-2.9 .3 1.7 .3-1.4 .3-.2 .2 1.1 .3 1.1 .3-1.7 .3-2.1 .3 3.1 .3-2 .3 3.9 .3-2.2 .3 .7 .3 .3 .3-4.7 .3 3.7 .3 .3 .2 .5 .3-2.3 .3 .9 .3-.6 .3 3 .3-1.2 .3-.6 .3 .4 .3-1.9 .3-2.1 .3 2.3 .3 1.6 .3 .4 .2 1.5 .3-4.5 .3-.2 .3 3.5 .3-2.5 .3 2.8 .3-.3 .3-.5 .3-.7 .3 .4 .3-2.9 .3 3.2 .3-2.1 .2 1.6 .3-.3 .3-.2 .3-.6 .3 2.7 .3 .4 .3-.6 .3-2.5 .3 0 .3 1.1 .3-.9 .3 3.6 .3-1.4 .3-3.2 .2 1.7 .3 2.8 .3-4.3 .3 .3 .3-1.4 .3 1.1 .3 .6 .3 1.7 .3 2.6 .3-3.1 .3-1.4 .3-.1 .3-1 .2 .7 .3 0 .3 2.7 .3-.9 .3 .4 .3-3.2 .3 2.9 .3-.4 .3 1.3 .3-.8 .3-1 .3-1.6 .3 3.7 .2-.4 .3-1 .3-5 .3 5.3 .3-1.3 .3-1.6 .3 5.9 .3-3.5 .3 .1 .3-.3 .3-1.7 .3 2.9 .3-1.9 .2-2.4 .3 1.8 .3 1 .3-1.1 .3 0 .3-.1 .3 0 .3 1.2 .3-.2 .3 1.7 .3-1.7 .3 1.9 .3-.8 .3-.8 .2 1.2 .3-2.6 .3 2.6 .3-1.3 .3 .9 .3-2.8 .3 1.4 .3 .3 .3 .4 .3-1.2 .3 3.7 .3-2.2 .3-1.1 .2-1.5 .3-.1 .3 1.8 .3 2 .3-2.1 .3-.6 .3 2.4 .3-3.3 .3 5.7 .3-2.3 .3 .2 .3-3.2 .3 2 .2 .3 .3-1.6 .3-1.5 .3 5 .3-.4 .3-2.6 .3-.3 .3 2.4 .3 .2 .3-3.7 .3-.8 .3 3.2 .3 .4 .2 0 .3-3.8 .3 5.3 .3-3.5 .3 2.6 .3-2 .3 3 .3-.2 .3 2 .3-4.5 .3-1.6 .3 1.2 .3 .5 .3 1.3 .2 1.8 .3-4.4 .3 2.4 .3 1.9 .3-5.2 .3 1.9 .3-1.3 .3-.1 .3 3.3 .3-3.7 .3 4.7 .3-1.8 .3 .5 .2 1.1 .3-2.4 .3-.3 .3 1.6 .3-1.4 .3-1.1 .3 2.6 .3-3.1 .3-.5 .3 .7 .3-.4 .3 4.8 .3-2.1 .2-2.1 .3 1.1 .3 4.5 .3-3.9 .3-1.2 .3 .8 .3-.7 .3-.3 .3 .4 .3 .9 .3-.3 .3 1.2 .3-.8 .2-.2 .3-.8 .3 3.5 .3-2.9 .3-1 .3 4.1 .3-2.3 .3-1.1 .3-.3 .3-2.4 .3 2.2 .3 1.1 .3 1.4 .3-.3 .2-1.6 .3 .2 .3-1 .3 .8 .3-.5 .3 1.7 .3-2.7 .3 3 .3-1.5 .3 3.3 .3-2.3 .3 1.6 .3-1.5 .2 0 .3 3.3 .3-4.9 .3 2 .3-2.2 .3 .8 .3 2.3 .3-4.1 .3 4.4 .3-1.6 .3 .3 .3-.4 .3 .6 .2-5.7 .3 6 .3 .7 .3-1.2 .3 .7 .3-2 .3 3.9 .3-2.6 .3-1.8 .3 1 .3 1.9 .3-1.7 .3 1.8 .2 .7 .3-4.3 .3 1.3 .3-.3 .3 3 .3-1.7 .3 2.7 .3-5.5 .3 3.5 .3-2.1 .3-1.5 .3 5.6 .3-3.6 .2 .5 .3-.7 .3 1.3 .3 .8 .3-1.9 .3-.9 .3 3.3 .3-2.2 .3 1.7 .3-.9 .3-.5 .3 .8 .3-.5 .3 1.4 .2-3.2 .3 4.8 .3-1.6 .3 0 .3-2.1 .3-1.4 .3 2.2 .3-1.3 .3 1.2 .3-.7 .3 0 .3 3.9 .3-3.8 .2-.2 .3 2.3 .3-1.8 .3-2.9 .3 4.5 .3-1.8 .3 .1 .3 1.3 .3 .6 .3-3.5 .3 3.1 .3-5.9 .3 7.6 .2-3.5 .3 3.1 .3-4.1 .3 1 .3 5 .3-3.6 .3-1.5 .3 .3 .3-.5 .3 1.8 .3 .4 .3-2.1 .3-1.7 .2 3.2 .3-3.6 .3-.3 .3 2.8 .3-2.3 .3 1.5 .3 3 .3-2.2 .3 2.6 .3 0 .3-6.8 .3 6.6 .3-2.5 .3-1.5 .2-2.4 .3 3.7 .3-.1 .3 .8 .3-.9 .3-1.3 .3 2.6 .3 .7 .3-2.9 .3 4.7 .3-4.1 .3 1.9 .3-.9 .2 4.2 .3-5.7 .3 .9 .3 .9 .3-.3 .3 2 .3 .3 .3-2.1 .3 .2 .3 .9 .3 .7 .3 1.1 .3-.9 .2-1.4 .3-.1 .3 2.2 .3-.7 .3 1.1 .3-3.6 .3-.3 .3 1.3 .3 1.7 .3-4.3 .3 4.2 .3-.7 .3-.4 .2-.4 .3 .2 .3-1.6 .3-.4 .3 1.5 .3 .6 .3 .4 .3-.9 .3-3.1 .3 2.4 .3 1.2 .3-.1 .3-.4 .3-.2 .2-1.5 .3 2.3 .3-3.5 .3 .2 .3 4.8 .3-.9 .3-2.1 .3 3.7 .3-3.5 .3 .4 .3-1 .3 .6 .3 .7 .2 .4 .3-.5 .3 .2 .3 1.5 .3-1.1 .3-2.1 .3 2.4 .3-2.3 .3 4.9 .3-2.5 .3-2 .3-.9 .3 1.1 .2 2.1 .3-2.9 .3 2.9 .3-1.5 .3-.6 .3-.9 .3 1.8 .3-2.7 .3 3 .3 4.1 .3-1.3 .3-5.4 .3 2 .2-.6 .3 0 .3 1 .3-1.5 .3 .9 .3-.9 .3 .7 .3 1.8 .3-3 .3 2.6 .3-1.5 .3 1.8 .3-1.5 .3 2 .2-1.9 .3-.4 .3-3.4 .3 3.7 .3 .8 .3-1.1 .3-.4 .3 2.6 .3-.9 .3-.5 .3-2.2 .3 3.2 .3-1.5 .2 .5 .3 1.2 .3-1 .3 .5 .3 .5 .3-3.6 .3 1.6 .3 2.5 .3-1.6 .3 .7 .3-1.2 .3 .9 .3-3.9 .2 4.5 .3-2.4 .3 4.9 .3-3.9 .3-.8 .3 5.1 .3-5.7 .3 3.8 .3-2.2 .3 1.1 .3 0 .3-2.6 .3 1.8 .2 1.7 .3-3.7 .3 .3 .3-2.1 .3 .7 .3 4.2 .3-2.6 .3 5.1 .3-3.1 .3-3.9 .3 3.4 .3-3.1 .3 3.9 .2-1.1 .3 1.2 .3 .3 .3-2.8 .3 .5 .3-.8 .3 3.2 .3-2.1 .3 .4 .3 .5 .3-2.7 .3 3.7 .3 .1 .3-4.4 .2 2.6 .3-.7 .3 .3 .3 .4 .3-.9 .3 3.1 .3-2.8 .3 2.7 .3 0 .3 1.5 .3-4.5 .3 4.5 .3-6.3 .2 1 .3 2 .3-.9 .3-1.1 .3 1.3 .3 1.5 .3-.5 .3-1 .3-3.7 .3 3.4 .3 4.8 .3-6.9 .3 .6 .2 1.8 .3 .4 .3 1.4 .3-.7 .3-3.6 .3 1 .3 .6 .3 2.5 .3 .4 .3 0 .3 1.3 .3-5.6 .3 6 .2-2.7 .3-1.9 .3 1.7 .3-.7 .3 2.6 .3-.5 .3-6.1 .3 5.5 .3-.8 .3 2.5 .3-1.1 .3-.2 .3-2.9 .3 1.4 .2-1.1 .3 3.2 .3-4.2 .3 2.7 .3 0 .3-.8 .3 2.2 .3-1.7 .3-1.7 .3 2.3 .3-3.2 .3 3.9 .3-2.8 .2 3.1 .3-3.1 .3-1 .3 5.6 .3-4.5 .3 2.8 .3-.5 .3-2.7 .3 3.2 .3 1.7 .3-3.1 .3 .5 .3-3.2 .2 3.5 .3-2.8 .3 .3 .3-5.7 .3 5.6 .3 4.4 .3-4.7 .3 0 .3 3.2 .3-1.7 .3 1.1 .3 1.5 .3-3.7 .2 1.7 .3 .1 .3 .9 .3-1.5 .3-.5 .3-.4 .3-1.1 .3 3.4 .3-.9 .3 1.8 .3 1.2 .3 .1 .3-2.6 .3-.2 .2-4.2 .3 4.8 .3-.2 .3-.7 .3-1 .3 5 .3-2 .3-1.5 .3-3 .3 .7 .3 1.9 .3-.6 .3 .3 .2-1.9 .3 2.8 .3 1.7 .3-3.5 .3 .9 .3 1.2 .3-2.1 .3 2 .3-4.1 .3 5 .3-1.3 .3 5.8 .3-6.4 .2 2.2 .3-1.1 .3-.5 .3 1.4 .3 .1 .3-2.3 .3 2.3 .3-1.7 .3-4.8 .3 4.2 .3 .5 .3 .8 .3-2 .2 3.2 .3 0 .3-4.6 .3 3.1 .3 0 .3 1.9 .3-3.5 .3 2.3 .3-3.3 .3 4.1 .3-1.8 .3-2.5 .3 2.4 .3-.2 .2-.9 .3 0 .3 2.6 .3-1.5 .3 .1 .3-1.5 .3 2 .3 .4 .3-.4 .3-1.6 .3-2.5 .3 4.5 .3-2.1 .2 .2 .3 2.8 .3-2.5 .3 .6 .3 2.7 .3-5.6 .3 4.5 .3-.6 .3 1.1 .3-2.8 .3-.2 .3-.9 .3 2.9 .2 .6 .3-4.5 .3 3.5 .3-1.6 .3-1 .3 0 .3 2.4 .3-2.8 .3-1.5 .3 3.8 .3-.8 .3 3 .3-.1 .2-3.3 .3 2 .3-.8 .3-1.6 .3 .6 .3 1.5 .3 1.7 .3-4.1 .3 .6 .3 1.3 .3 .6 .3-1 .3 .5 .2-.8 .3-.6 .3 1.5 .3-4.1 .3 4 .3-1 .3 1 .3-.5 .3-2 .3 2.1 .3 .1 .3-2.1 .3 2.2 .3 .5 .2 .7 .3-1.5 .3 .8 .3-3 .3 .3 .3 4 .3-4 .3 .8 .3 1.1 .3-.4 .3-.1 .3 .2 .3 2.2 .2-2.1 .3 1.6 .3 .7 .3-2.2 .3 .1 .3-1.3 .3-.5 .3 2 .3-.2 .3 1.3 .3-4.3 .3 3.2 .3-.1 .2 1.2 .3-1.3 .3-4.1 .3 4.8 .3 .2 .3-.7 .3 .8 .3-2 .3 3.9 .3-.2 .3-3.9 .3 1 .3 2.1 .2-1.1 .3 1.4 .3-1.7 .3 1.6 .3 .9 .3-3.1 .3-1.6 .3 4.6 .3-1 .3 .2 .3-4 .3-.6 .3 4.8 .3-2.7 .2 1.5 .3-1 .3 2 .3-2.8 .3-1.9 .3 3.7 .3 .8 .3-4.8 .3 4.7 .3-.7 .3 .1 .3-1 .3-2 .2 2.6 .3-.1 .3 2.3 .3-3.7 .3-.1 .3 .6 .3 1 .3-.8 .3-1 .3 3.9 .3-3.9 .3 .4 .3-1.1 .2 2 .3 1 .3 3 .3-5.7 .3 5 .3-2.8 .3-2.4 .3 2.2 .3 .1 .3-.4 .3 .5 .3-.1 .3-3.5 .2 1.5 .3 3.1 .3-1.8 .3 2.2 .3-3.2 .3-1.1 .3 .7 .3 .5 .3 .4 .3 3.7 .3-4.8 .3 2 .3-2.4 .3 4.8 .2-.7 .3-1.8 .3-1 .3 1.2 .3 .3 .3-1.3 .3-2.4 .3 .7 .3 4 .3-2.3 .3 2 .3 .5 .3 .6 .2-.7 .3 .5 .3-1.2 .3 1.4 .3-2.5 .3-2.4 .3 5.4 .3-4.4 .3 .9 .3 3.3 .3-4.2 .3 4.2 .3-4.2 .2 2.5 .3 .9 .3-2.6 .3 .4 .3 1.7 .3-1.2 .3 0 .3-1.4 .3 2.7 .3-1.5 .3 .2 .3 2.3 .3-4.2 .2 1.5 .3-1.2 .3 .9 .3-1 .3 1.9 .3 .4 .3 .7 .3-4.3 .3 1.8 .3 1.9 .3-.1 .3 .9 .3 .8 .3-1.6 .2 .7 .3 .6 .3-2.7 .3-3.6 .3 2.8 .3 4.3 .3-4.8 .3 .6 .3 1.4 .3 1.1 .3-.4 .3 1 .3 .6 .2-1 .3-.2 .3-3.7 .3 1.8 .3 1.4 .3-1.3 .3 2.6 .3-3.3 .3-.8 .3 .1 .3 2.6 .3-1.9 .3 1.5 .2 2 .3-1.5 .3 .9 .3 .4 .3-1.3 .3-.5 .3-3.2 .3 2.3 .3 1.4 .3-1.2 .3-.5 .3 1.6 .3-.4 .2-.5 .3 1.2 .3 2.7 .3-1.5 .3-.9 .3-2.3 .3 2.1 .3-.7 .3-1.4 .3 2 .3 .1 .3 .6 .3-.9 .2-.1 .3-.1 .3-1.4 .3-1.1 .3 1 .3 .4 .3 .7 .3 1.1 .3 .2 .3-4.8 .3 3.3 .3-.7 .3 1.1 .3-.4 .2 1.3 .3-1.5 .3 0 .3 2.4 .3-1.8 .3 2.7 .3-.6 .3-2.2 .3 2.7 .3-3.3 .3 1.2 .3-1 .3-1.5 .2 1.6 .3 3 .3-2.2 .3-2.3 .3 4.5 .3-2.2 .3-3 .3 2.9 .3-.8 .3-3.6 .3 3.1 .3-2.3 .3 2.9 .2-1.3 .3 2.7 .3-1.1 .3 2.2 .3-2.4 .3 2.2 .3-3.7 .3 2.8 .3-2.7 .3 2 .3 2.2 .3-2.4 .3 .3 .2-1.1 .3-2.1 .3 3.7 .3 .3 .3 .1 .3-.2 .3-1 .3-1 .3 2.8 .3-1.2 .3 .2 .3 .2 .3-1.8 .3 1.9 .2-3.4 .3 1.6 .3 1.1 .3 0 .3-1.3 .3-1.5 .3 .3 .3 2.1 .3 .9 .3-1.5 .3-1.7 .3 .4 .3-.8 .2 4.2 .3-1.7 .3-.9 .3 1.7 .3 1.6 .3-.1 .3-3.9 .3-.3 .3 .1 .3 1.8 .3-1.9 .3 3.8 .3-.2 .2-4.2 .3 4.7 .3-3.1 .3 .2 .3 1.9 .3-.3 .3-4.4 .3 4.8 .3-1 .3-2.8 .3 3.6 .3-3.4 .3 3.6 .2-1.3 .3-.6 .3 3.3 .3-4.4 .3 .8 .3-.6 .3 2.1 .3 1.5 .3-4.1 .3 2.1 .3 .1 .3-2.2 .3 .5 .3 3.8 .2-2 .3-1.5 .3 1.4 .3 .2 .3 0 .3-.3 .3-1.5 .3 .6 .3-1 .3 .8 .3-2.5 .3 4.7 .3 .7 .2 1.1 .3-2.9 .3 1.1 .3-2.9 .3 4.4 .3-1.8 .3 1.5 .3-2.5 .3 .8 .3-.4 .3 1.7 .3-1.5 .3-1.1 .2 0 .3 1.4 .3-.9 .3-2.7 .3 3.5 .3-1.4 .3 1.9 .3-3.6 .3 2.6 .3-.1 .3 1.6 .3-1.3 .3 .2 .2-4.3 .3 1.9 .3 .4 .3 .1 .3 1.3 .3-1.6 .3 4 .3-2.4 .3 1.9 .3 .7 .3-2.3 .3-.2 .3 .4 .3 3.4 .2-3.6 .3-1.5 .3 3.4 .3-2.8 .3-3.1 .3 3.3 .3 1.5 .3 .6 .3-.2 .3-4.6 .3 .9 .3 2.2 .3-1.7 .2-.7 .3 2.4 .3-2.7 .3 1.1 .3 1.1 .3 2.7 .3-.6 .3-2.2 .3 1.8 .3-2.3 .3 .1 .3 3.1 .3-2.9 .2 .1 .3-.3 .3 4.6 .3-3.2 .3-2.6 .3 1.3 .3 1.6 .3-1.1 .3-1.2 .3 1.2 .3 0 .3 2.8 .3 .2 .2-1.8 .3-3.6 .3 2.9 .3 1.2 .3-2.4 .3 2.1 .3-1.2 .3 3.5 .3-1.3 .3-4 .3 3.5 .3-4.8 .3 4.5 .2-.5 .3-.6 .3-1.1 .3 1.3 .3 2.1 .3-5.8 .3 3.9 .3 1.9 .3-3.7 .3 2.6 .3-2.8 .3 2.6 .3 .9 .3-3.4 .2 1.2 .3-1.3 .3-.9 .3 3.7 .3-.6 .3-.8 .3 1.2 .3 1.2 .3-3.8 .3 1.8 .3 .4 .3-3.8 .3 4.3 .2-1 .3 1.8 .3-4.1 .3 .5 .3 .7 .3 .3 .3-1.9 .3 4 .3-5.9 .3 5.6 .3-2.5 .3 1.6 .3 .7 .2-.2 .3-1.1 .3 4.3 .3-5.8 .3-1 .3 3.9 .3-3.5 .3 2.4 .3-.3 .3 0 .3-2.3 .3 .3 .3 1.7 .2-4.4 .3 2.1 .3 1.1 .3 2.2 .3 1 .3-2.4 .3 3.5 .3-2 .3-.5 .3-.6 .3 .4 .3 .3 .3-1.4 .3-3.1 .2 5 .3-2.2 .3 .5 .3 1.3 .3 1.8 .3-3.4 .3 .5 .3 1.5 .3 0 .3 1.9 .3-1.9 .3-2.6 .3-.5 .2 3.6 .3-1.2 .3 .8 .3-2.7 .3 1.9 .3-.3 .3-.8 .3-1.4 .3 1.5 .3-.2 .3 3.8 .3-4.2 .3 1 .2 2.9 .3-2.6 .3 2 .3-1.7 .3-1.1 .3 1.7 .3 1.9 .3-4.7 .3 .3 .3 1.9 .3-2.2 .3 2 .3 .6 .2-1 .3-2.2 .3 1.1 .3 .8 .3-1.4 .3 .8 .3-.8 .3 1.2 .3 3.8 .3-1.8 .3-2.1 .3-1.7 .3 6.1 .3-4.8 .2 2.4 .3 .3 .3-1.1 .3-.8 .3 .1 .3 3.7 .3-2.1 .3-1.2 .3 1 .3-3.8 .3 2.9 .3-1.3 .3-.5 .2 1.2 .3 .8 .3-1.6 .3 0 .3 2.8 .3-.5 .3 .1 .3-.7 .3-2 .3 1.6 .3 1.4 .3 .4 .3-.1 .2-.1 .3-4.7 .3 1.6 .3 2.3 .3 1.6 .3-1.6 .3 .4 .3-1 .3 .5 .3 1.4 .3-.5 .3-1.5 .3-1 .2 1.2 .3 1.5 .3 .9 .3-1.5 .3-3.2 .3 .4 .3 1.7 .3-1 .3 .8 .3 1.6 .3 1.4 .3-1.6 .3-.6 .3-2.3 .2 3.7 .3-4.9 .3 4.8 .3-1.2 .3-.6 .3 .4 .3 .6 .3-3.2 .3 3.5 .3 .7 .3-1.7 .3 1.4 .3-2.1 .2-2 .3 3.6 .3-.8 .3-1.9 .3-.4 .3 2.4 .3 .2 .3-.4 .3-5 .3 5.5 .3-.5 .3 .1 .3-2.2 .2 2.5 .3-1.4 .3-.2 .3 2.5 .3 .5 .3-2 .3-.2 .3-1.9 .3 2.4 .3 1.7 .3-.8 .3-3.3 .3 4.4 .2-1.5 .3-1.7 .3 1.8 .3-3.5 .3 3.2 .3 1.7 .3-1.2 .3-.5 .3-1.5 .3 1 .3-.8 .3 3.1 .3-3 .2 .4 .3-.5 .3-.1 .3 .4 .3 2.2 .3-3.7 .3 3.6 .3-2.2 .3 3 .3-1 .3-.2 .3-2.6 .3 1.6 .3 .6 .2-.9 .3-.3 .3 1.6 .3-4.7 .3 5 .3-.1 .3-.3 .3 1.4 .3-.3 .3-6 .3 2.3 .3 1.9 .3 .1 .2-1.4 .3 4.5 .3-2.9 .3-2.5 .3 3.4 .3-2 .3 1.7 .3-5 .3 5.5 .3-1.9 .3-2.8 .3 4.7 .3-.9 .2-1.5 .3 1.5 .3-.4 .3-2 .3 2.5 .3-.5 .3-.3 .3-1.6 .3-2.4 .3 3.7 .3-.7 .3-.9 .3-1 .2 4.2 .3-2.5 .3-.4 .3 2.4 .3 .2 .3-2.2 .3-4.7 .3 6 .3-.7 .3 1.2 .3-2.3 .3 3.8 .3-.7 .3-.2 .2 1 .3-3.9 .3 2.1 .3-.8 .3-.2 .3-.1 .3-.9 .3-2.3 .3 5 .3-.7 .3 0 .3-3.6 .3 3.1 .2-3 .3 3.7 .3-.8 .3 3.3 .3-2.1 .3 0 .3-4.6 .3 4.8 .3-1.4 .3 3.6 .3-2 .3-2.3 .3 .2 .2 .3 .3-4.5 .3 2.7 .3 1.8 .3 5.3 .3-4.5 .3-.6 .3-.2 .3-.8 .3 2.6 .3-.4 .3-2.2 .3 2.9 .2 .5 .3 1 .3-4.4 .3 .2 .3 3.3 .3-6.3 .3 2.6 .3 2.2 .3-.4 .3 .5 .3-4.1 .3 2.6 .3-3.1 .3 4.7 .2-.1 .3-2 .3-.9 .3 6 .3-4.6 .3-1.5 .3 2.6 .3-.6 .3-.4 .3-.6 .3 3.3 .3-3.9 .3 .1 .2 2.4 .3-1.5 .3-.6 .3 .9 .3 1.6 .3-.7 .3 .1 .3 2.9 .3-3.2 .3-3.3 .3 1.7 .3 2.9 .3-3.2 .2 2.1 .3 1.3 .3-.7 .3-.8 .3 .4 .3 0 .3-.3 .3-.7 .3 .2 .3-1.5 .3 3.3 .3-.2 .3-.3 .2-5.7 .3 2.1 .3 4.6 .3-3.6 .3 .9 .3 1.5 .3 2.5 .3-5.2 .3 1.1 .3-.4 .3 .7 .3 .1 .3-.8 .3 2 .2-.1 .3-.2 .3-.6 .3 4.3 .3-3.5 .3-.7 .3-.2 .3 .4 .3-.1 .3-3.3 .3 2.1 .3 0 .3-.2 .2 .7 .3-2.2 .3 3.3 .3-1.4 .3-1.7 .3 2.9 .3 0 .3-1.3 .3 0 .3-.1 .3 1.1 .3-1.7 .3-.9 .2 3.5 .3-3.4 .3 1.3 .3 1.2 .3 1.1 .3 1.2 .3-3.2 .3-1 .3 .5 .3 3.2 .3-4.5 .3 3.1 .3-1.2 .2-.8 .3 .9 .3 1.6 .3-1.1 .3 2.4 .3-3.3 .3-2.2 .3 4.8 .3-2.5 .3 .5 .3-.8 .3 1.1 .3-1 .2 1.1 .3-2.7 .3 2 .3 .5 .3-.7 .3-2 .3 4.5 .3-3.7 .3 2.9 .3-5.7 .3 .9 .3 3.4 .3-1.4 .3 1.5 .2 1.7 .3 1.2 .3-1.2 .3 1.4 .3-1.7 .3-.5 .3-.3 .3-.5 .3-.3 .3 3.8 .3-2 .3 1.3 .3-3.9 .2 1.3 .3-3.5 .3 3 .3-.2 .3 3 .3-2.3 .3 1.8 .3-1.5 .3-1.2 .3-1.1 .3 5 .3-2.2 .3-1.4 .2 1.2 .3-.2 .3 2.3 .3-3.9 .3 .2 .3 2.4 .3-2.1 .3 1.6 .3-.7 .3 1.9 .3-2 .3-1.6 .3 3.5 .2-.7 .3-.1 .3-2.9 .3 1.9 .3 2.1 .3-2.5 .3 .8 .3-.4 .3-1.6 .3-.7 .3 2.7 .3-.2 .3-1.9 .3 5.2 .2-4.5 .3-.8 .3-.3 .3 1.9 .3 0 .3 2.1 .3-4.8 .3-.1 .3 2.8 .3 2 .3-4.4 .3 .6 .3 2.7 .2-2.1 .3 3.3 .3-3.7 .3 3.2 .3-5 .3 3.3 .3 1.4 .3 .5 .3-1.1 .3-4.9 .3 6.7 .3-2.9 .3-1.7 .2 4.3 .3-3.6 .3-1.1 .3-.7 .3 1.7 .3 4.6 .3-2.7 .3 .1 .3-.7 .3 1.1 .3 1.8 .3-2 .3-.4 .2-.3 .3-1.2 .3 4.6 .3-3.2 .3 .4 .3-1.8 .3-.4 .3 2.4 .3-2.4 .3 .8 .3-2.2 .3 3 .3-.5 .3 .3 .2 3.8 .3-4.6 .3-.2 .3-3.9 .3 5.1 .3 .8 .3-4.2 .3 1.8 .3 1.3 .3-.6 .3 .6 .3 .1 .3 2.7 .2-1.4 .3-2.1 .3-.4 .3 2.7 .3-.9 .3-2.4 .3 3.1 .3-2.7 .3 2.8 .3-.6 .3 .4 .3-.1 .3-2.8 .2-.4 .3 3.3 .3-.5 .3 .1 .3 1.1 .3-2.8 .3 2.5 .3-.8 .3-2.5 .3 2.8 .3-2.9 .3 .7 .3 1.8 .2-3.2 .3 4.6 .3 0 .3-2.1 .3 .1 .3 1.1 .3-.2 .3-.6 .3-.2 .3-3.3 .3 4.8 .3-3 .3 4 .3-3.2 .2 4 .3-3.7 .3-1.1 .3 2.3 .3 1 .3 2.4 .3-2.1 .3-3.1 .3 1.8 .3 1.8 .3 0 .3-2.4 .3-2.3 .2 5.5 .3-3.3 .3 .9 .3-1.1 .3 2.5 .3-1 .3-1.9 .3 2.2 .3-1.5 .3 .3 .3-2.6 .3 2.6 .3-3.4 .2 1.3 .3 3.1 .3-1.2 .3 .5 .3-1.9 .3-.2 .3 2 .3-3.4 .3 2.6 .3-.8 .3 1 .3-3.7 .3 2.9 .2 2.5 .3-2.8 .3 2.7 .3-2.1 .3 .8 .3 .8 .3-4.2 .3 2.7 .3 .9 .3 .9 .3-.4 .3-4.7 .3 1.3 .2 3.3 .3-3 .3 3 .3-1.5 .3 1.4 .3-2.7 .3 1.7 .3 1.3 .3 .4 .3-1.6 .3 1.3 .3-1.1 .3 4.6 .3-6.8 .2 3.3 .3-.9 .3-.6 .3 .5 .3-3.2 .3 .7 .3-.3 .3-.9 .3 5.5 .3-1.7 .3 1.1 .3-3.2 .3 .4 .2-.2 .3 3.4 .3-1.9 .3-2.4 .3-.1 .3 3.5 .3-3.7 .3 2 .3-.4 .3 5.6 .3-4 .3-.4 .3 .9 .2-1.2 .3-.6 .3 1.3 .3-.2 .3-1 .3 1.6 .3-1.4 .3 .5 .3-1.2 .3 2.4 .3-2.4 .3 .5 .3 .9 .2-.1 .3 .7 .3-1.4 .3 .2 .3-1.7 .3 3.9 .3-2.7 .3 .2 .3 3.2 .3-5.8 .3 5.7 .3-2.3 .3 1.9 .3-1.6 .2-.4 .3-1.6 .3 4.1 .3-1.2 .3-3.6 .3 1.2 .3 1.4 .3 .4 .3-2.2 .3 3.7 .3-2.9 .3 1.9 .3-1.4 .2 1 .3-3.8 .3 5.1 .3-2.9 .3 1.8 .3 .5 .3-3.4 .3 1.9 .3-1.5 .3 3.2 .3-1.3 .3 1.2 .3-4.3"/>
<path stroke="#000000" d="M125.7 1062.7l .3 1.1 .3 3.1 .3-2.1 .3 2.5 .3 .6 .3-5.2 .2 5.8 .3-3.8 .3 6.3 .3-3.2 .3-2.9 .3 1.7 .3 .1 .3 .2 .3 2.5 .3-2 .3 2.7 .3-2.4 .3-1.9 .2-3.1 .3-.1 .3 4.2 .3 1.1 .3 1.8 .3-4.8 .3 1.6 .3-2 .3 .9 .3-4.3 .3 7 .3-3.4 .3 1.5 .3 1.3 .2-.3 .3-3.8 .3 6.6 .3-1.8 .3-.5 .3-2.7 .3-2.2 .3-.1 .3 3.4 .3 .8 .3-2 .3 5.9 .3-3.5 .2 1.6 .3-.2 .3-4.5 .3 4.8 .3-1.3 .3-4 .3 4.7 .3 .8 .3-.2 .3 .2 .3-5.7 .3 2.7 .3-.7 .2 1.4 .3 .1 .3 2.4 .3-.8 .3-3.7 .3 4 .3 1.7 .3-3 .3-4.2 .3 2 .3 1.1 .3-3.3 .3 3.4 .2-2.6 .3 4.8 .3-.2 .3-1.8 .3-2.7 .3 3.6 .3-2.1 .3-.1 .3 4.1 .3-4.3 .3-1.4 .3 5 .3 2.3 .3-.4 .2-1.9 .3 3.1 .3-5.7 .3 5.9 .3-.2 .3-5.6 .3 1.7 .3-3.9 .3 .6 .3 3.7 .3-3.9 .3 3.1 .3 .6 .2-.7 .3 1.9 .3 2.3 .3-4.1 .3 1.9 .3 1.2 .3-4.5 .3-.5 .3-4 .3 6.6 .3 1.4 .3-1.4 .3 3.9 .2-1.3 .3-1.7 .3-1.9 .3-1.9 .3 2.2 .3 .9 .3-1.2 .3-.6 .3-.2 .3 2.5 .3-5.5 .3 3.2 .3 .9 .2 1.5 .3 0 .3-2.1 .3-.8 .3-1.4 .3 5.4 .3-1.3 .3-.9 .3-2.1 .3-.9 .3 5.2 .3-2.6 .3 1.1 .2 3 .3-7.6 .3 1.7 .3 2.7 .3 .6 .3-3.8 .3 2.2 .3-1.2 .3 0 .3 2.3 .3-.5 .3 2.3 .3-1.3 .3 2 .2-5.2 .3 2.8 .3-4.2 .3-.6 .3 .6 .3 4.9 .3-1.2 .3-4.2 .3 6.7 .3-.7 .3-2.7 .3-.1 .3 .5 .2-2.7 .3 8.1 .3-6.4 .3 .7 .3-.3 .3-.8 .3-.5 .3 2.8 .3-3.6 .3 .5 .3 .5 .3 3.7 .3-4.1 .2 0 .3 3 .3-3.3 .3 1.9 .3 2.7 .3-1 .3-.9 .3 3.4 .3-4.4 .3-.4 .3-2.6 .3 4 .3 1.4 .2-2.9 .3 5.8 .3-2 .3-.2 .3-4.8 .3 3.4 .3 .2 .3-5.5 .3 4.6 .3-.5 .3-3.4 .3 5.1 .3 3.5 .3-2.9 .2-3.6 .3 1.3 .3 3.2 .3-4.4 .3 2.7 .3-.8 .3 .4 .3 3.3 .3-7.1 .3-.1 .3 4.1 .3-.8 .3-3.5 .2 4.5 .3-1.7 .3-5.7 .3 3.6 .3 .4 .3 .4 .3 .9 .3-.5 .3 5.4 .3-1.1 .3-2.5 .3 3.3 .3 1.7 .2-3.7 .3-4.1 .3 3.8 .3 2.4 .3-5.4 .3 2.2 .3 2.2 .3 .5 .3-.7 .3-1.1 .3-1.1 .3-1 .3 3.6 .2-.2 .3-3.2 .3-.4 .3 4.4 .3-.6 .3-4 .3-1.9 .3 3.9 .3 1.6 .3 .4 .3-.4 .3-5.3 .3 3.6 .3-.9 .2-4.9 .3 11.7 .3-5.9 .3 .5 .3-1.2 .3 2.2 .3 1.1 .3-3.2 .3 .5 .3-.9 .3-1.3 .3 1.9 .3 1.2 .2-.7 .3-.6 .3-3.6 .3 4.9 .3-.3 .3 3 .3-4.8 .3-1.7 .3-1.2 .3 2.9 .3 1.3 .3 .7 .3-4.1 .2 2.3 .3 3.5 .3-2.1 .3-.9 .3-.1 .3-2.6 .3 .4 .3 1.9 .3 3.9 .3-.1 .3-2.9 .3 1.7 .3-.4 .2 1.6 .3-4.1 .3 2.2 .3 1.5 .3-4.9 .3 2.7 .3 .7 .3 .4 .3 .2 .3 .2 .3 .9 .3 .9 .3-2.3 .3 4.1 .2-5.9 .3 .6 .3 1.2 .3-2.5 .3-1.5 .3-6.2 .3 12.1 .3-4 .3-1.6 .3 7.2 .3-3.3 .3-.4 .3-2.6 .2 2.8 .3-1.8 .3 1.7 .3-.6 .3-.4 .3 1 .3-2.5 .3 1.1 .3-.8 .3 2.6 .3 .7 .3 .2 .3-6 .2 8.1 .3-4.3 .3 .2 .3 .2 .3-.1 .3 3 .3-2.5 .3 .4 .3 1.4 .3 .8 .3-5.1 .3-6.2 .3 4.2 .2 .1 .3 4.9 .3-.5 .3-.3 .3 .9 .3-.1 .3 2 .3 1.1 .3-5.5 .3 5.1 .3-1 .3-4 .3 2.1 .2-1.3 .3-2.8 .3 3.9 .3-3.7 .3 3.7 .3-2.4 .3 1.6 .3 2.5 .3-1.5 .3-2 .3 2.3 .3 1 .3 .6 .3-3.9 .2 4.3 .3-2.9 .3-.8 .3 3.8 .3-1.2 .3 .1 .3-1.2 .3-4.2 .3 5 .3 .2 .3-1.5 .3 4 .3-3.4 .2 3.4 .3-1.1 .3-4 .3-.3 .3 1.1 .3 .6 .3 1.6 .3-2.8 .3-.9 .3 6.9 .3-4.5 .3 .5 .3 3.2 .2-3.5 .3-5.3 .3 6.1 .3-2.4 .3 3.5 .3-6 .3 4.3 .3 1.4 .3 1.3 .3-1 .3 0 .3-2.1 .3 0 .2-2.1 .3 4.3 .3 1.3 .3-2.1 .3-3.2 .3-1.1 .3 1.9 .3 4.6 .3-3.1 .3-2.4 .3 1.3 .3 2.5 .3-3.1 .3 .4 .2-.2 .3-.7 .3 6.1 .3-5.9 .3 2.3 .3 2 .3-2.8 .3-.7 .3 .6 .3 .3 .3-.4 .3-.5 .3 .1 .2 1.1 .3 3.6 .3-4.7 .3 2.6 .3-2.1 .3-1.7 .3-.4 .3 3.2 .3-3.5 .3 3.7 .3-1.6 .3 4.3 .3-5.8 .2 4.6 .3 .6 .3-1.2 .3-2.9 .3 1.9 .3-.4 .3-.7 .3 2.3 .3-2.1 .3 .7 .3 1.8 .3-2.5 .3-.6 .2 1.2 .3-1.5 .3-3.8 .3 3.8 .3 .8 .3-2.2 .3-1.5 .3 5 .3-2.4 .3 2.8 .3-.4 .3 2.3 .3-2 .3 .7 .2 1 .3-3.7 .3 3.1 .3 .2 .3-6.4 .3 1.6 .3 2.6 .3 3.4 .3-4.4 .3-2 .3-.7 .3 4.1 .3-.3 .2-1.8 .3 2 .3-1.4 .3 3.2 .3-5.4 .3 2 .3 3.4 .3-3.8 .3-.5 .3 1.3 .3 4.5 .3-3.3 .3 2.4 .2-5 .3 1.6 .3 1.9 .3-1 .3-1.6 .3-3.6 .3 5.8 .3 .5 .3-.6 .3-4.6 .3 .6 .3 1.7 .3-.9 .2 4.4 .3-4.5 .3 1.6 .3-1.7 .3-1.3 .3 5.8 .3-1.8 .3-1.8 .3 1.6 .3-4.7 .3 7.9 .3-5.5 .3-1.8 .3 1.8 .2 2.7 .3-.5 .3 1.4 .3 .1 .3-1.4 .3 2.1 .3-6 .3 4.8 .3 0 .3-.2 .3-1.1 .3-.8 .3-.1 .2-2.3 .3 2.5 .3-2.5 .3 6.6 .3-4 .3-.1 .3 0 .3 .8 .3 .3 .3 1 .3 2 .3-7.2 .3 2 .2 1.2 .3 .9 .3 1 .3 2.9 .3-5.7 .3 3.3 .3-1.5 .3 .3 .3 .5 .3 1.2 .3-1.5 .3-2.6 .3 3.3 .2 0 .3-4.2 .3 4.1 .3-1 .3-.2 .3 .5 .3 3.5 .3-7.1 .3 3.8 .3-4.3 .3 4 .3 1.9 .3-5.7 .2 6.2 .3-1.4 .3-1.3 .3-.1 .3 .4 .3 .2 .3-.2 .3 2.3 .3-.6 .3-3.5 .3 4.2 .3 1.5 .3-.4 .3-2.7 .2-3.9 .3 2.2 .3 .8 .3 .1 .3-2.8 .3 4.3 .3 .6 .3-4.6 .3 1.2 .3-.5 .3 2.2 .3 2.3 .3-6.7 .2 7.6 .3-1.2 .3-4.7 .3 6 .3-.9 .3-1.3 .3-.4 .3-2.5 .3 2.8 .3-2.7 .3 1.8 .3 2.1 .3-2.9 .2-.6 .3 2.4 .3 .9 .3 .1 .3-2.5 .3 3.3 .3 .5 .3-4 .3 1.9 .3-4.9 .3 3.3 .3-1.8 .3 2.4 .2-1.5 .3-3.5 .3 6 .3-3.3 .3 4.4 .3 .6 .3-1.8 .3-1.3 .3 .6 .3-3.3 .3 3 .3 1.8 .3-.5 .3-3.5 .2 5.1 .3-2 .3-2.9 .3 2.8 .3-2.8 .3 .9 .3 1.1 .3 3.6 .3 1.2 .3-7.9 .3 2.9 .3-.2 .3 1.6 .2-.6 .3-1.9 .3 1.8 .3-1.9 .3-.4 .3 2.8 .3-.8 .3-1.5 .3 2.4 .3-2 .3-.8 .3 1.3 .3 1.5 .2-2.4 .3 4 .3-3.3 .3 1 .3 1 .3-1.5 .3-1.3 .3 .9 .3 2.2 .3 .6 .3-1.2 .3-2.1 .3-1 .2 .8 .3 .2 .3 1.4 .3-.5 .3-1.5 .3 2.9 .3-2.7 .3 1.5 .3-1.6 .3 3.4 .3-1.2 .3-.4 .3 1.8 .3-.3 .2-4.3 .3 2.9 .3-2.4 .3 .9 .3 .3 .3-1.9 .3 .4 .3 2.5 .3 0 .3 .8 .3-1.3 .3-.5 .3 .2 .2 0 .3-.9 .3 1.6 .3-1.9 .3-.1 .3-.9 .3 2.9 .3-1.5 .3 .9 .3 .6 .3-1.8 .3-3 .3 4.7 .2-.1 .3-3.4 .3 5.3 .3-.9 .3 .1 .3 2.1 .3-5 .3 5.4 .3-3.9 .3 2 .3 .5 .3-3.9 .3 2.3 .2-1.5 .3 1.8 .3-3.4 .3 5.7 .3-2.3 .3-1.2 .3-1.1 .3 4 .3-3.3 .3 2.3 .3-3.5 .3 3.1 .3-4.4 .3 4 .2-2.4 .3 0 .3 3.4 .3-.4 .3-2.3 .3-.3 .3 3.3 .3-4.6 .3 2.2 .3-.8 .3 1.3 .3-.1 .3-.2 .2-1.9 .3 2.6 .3 .4 .3-1.6 .3 3.8 .3-3.8 .3 .8 .3 3.4 .3-3.9 .3 .3 .3-2.4 .3 2.6 .3-.7 .2 1.3 .3-2.4 .3 3.9 .3-1.2 .3 .7 .3-2.2 .3-2.4 .3 3.6 .3-.6 .3-.8 .3 3.7 .3-2.3 .3-.3 .2 .6 .3-.2 .3 .1 .3 .7 .3-1.2 .3-.9 .3-.6 .3 1.7 .3 .5 .3 .5 .3-2.7 .3-1.2 .3 .1 .2 4.9 .3-1.4 .3-1.1 .3-.4 .3 4.2 .3-2.4 .3-.1 .3-2.1 .3 2.8 .3-2.6 .3-.6 .3 3.6 .3-1.7 .3 .6 .2-3.7 .3 1.9 .3-.8 .3 1.7 .3-.5 .3 .1 .3-1.2 .3 3.6 .3-4.5 .3 2.9 .3-.8 .3 1.7 .3-3.3 .2 3.3 .3-3 .3 1.7 .3-.7 .3 4.2 .3-6 .3 1 .3-1.9 .3 1.3 .3 1.3 .3-.3 .3-.7 .3 .2 .2 .7 .3 .6 .3 2.5 .3-2.1 .3-.7 .3-.5 .3 1.7 .3 1 .3-2.5 .3 2 .3-.7 .3-4.3 .3 6.5 .2-1.6 .3-3.7 .3-.9 .3 3.5 .3-1.1 .3 1.6 .3-1.4 .3 2.6 .3-2.9 .3 1.6 .3 .4 .3-1.5 .3 1.9 .3-1.3 .2-.1 .3-.4 .3-3.5 .3 2.2 .3 4.6 .3-3.5 .3-.7 .3 1 .3-.1 .3 3.7 .3-5.1 .3 .7 .3 2.1 .2-3.8 .3 .2 .3 .6 .3 .9 .3 2.8 .3 .5 .3-1.4 .3 2.4 .3-6.2 .3 4.7 .3-2.8 .3 1.9 .3-1.2 .2-1.8 .3 4.1 .3 .5 .3-1.9 .3-1.7 .3 4.5 .3-7 .3 4.1 .3-1.7 .3 .3 .3 2.7 .3-2.3 .3 2.3 .2-1.2 .3 1.9 .3-.7 .3-.2 .3-1.3 .3-.2 .3-1.4 .3 2.2 .3 .5 .3-2.3 .3 1.8 .3-1.9 .3 1.2 .3-1.7 .2 1.8 .3 1.7 .3-1.3 .3-3.3 .3 3.9 .3-1.6 .3 2.6 .3-.9 .3-.1 .3-1.5 .3 .7 .3-1.5 .3 1.4 .2 1.1 .3-3.6 .3 1.8 .3 1.7 .3-2.8 .3 1.4 .3 1 .3-.2 .3 .4 .3 .3 .3 .7 .3-2.4 .3 1.3 .2-.2 .3-2.5 .3 1.2 .3 1.8 .3-.6 .3 .6 .3-1.1 .3-.1 .3 1.6 .3-4.6 .3 .4 .3 2.8 .3 .3 .2 .6 .3 .1 .3-.8 .3-2.2 .3 2.7 .3-.5 .3-1.9 .3-1.1 .3 2 .3 1.8 .3-1.1 .3 1.8 .3-2.4 .3-.5 .2 .1 .3 1.1 .3 .3 .3 1 .3-1.6 .3-1.7 .3 .6 .3 1.7 .3-.6 .3 .5 .3-1.2 .3 .2 .3-.1 .2-.2 .3 1.3 .3 2.3 .3-2.6 .3 .2 .3-7.4 .3 8 .3-1.2 .3-.3 .3 1.5 .3 1.5 .3-3.8 .3 2.6 .2 .4 .3-2 .3 2.4 .3-4 .3 2.6 .3-1.1 .3 2 .3-4.4 .3 4.4 .3 1.3 .3-4.2 .3 3.1 .3-2.9 .2 2.8 .3 .4 .3-3.6 .3 4.4 .3-2.7 .3 .2 .3 1.2 .3 .3 .3-1.4 .3 .9 .3 0 .3-2.7 .3 2.1 .2-.1 .3-.2 .3 1 .3-1.9 .3-1.9 .3 3.7 .3-.4 .3-.6 .3-.8 .3 4.3 .3-3.3 .3-1.8 .3 2.1 .3 .3 .2-3 .3 3.2 .3-4.3 .3 2.7 .3 2 .3 .4 .3-1.2 .3 .7 .3-2.6 .3 1.5 .3 .9 .3-3.8 .3 3.2 .2 .5 .3 .8 .3-.5 .3 .3 .3-.2 .3-2.8 .3 0 .3 .5 .3-1 .3 3.2 .3 1.4 .3-.6 .3-1.7 .2 1.3 .3-1.6 .3 .7 .3 1 .3-3.4 .3 .7 .3 1.6 .3 3.9 .3-3.5 .3 .2 .3 1 .3-3 .3-2.6 .2 1.6 .3 .2 .3 4.3 .3-3.2 .3 0 .3 0 .3 0 .3 .2 .3 .2 .3 1.8 .3-1.6 .3-2.5 .3 3.5 .3-.5 .2-1.4 .3 1 .3-1.4 .3 4.5 .3-1.7 .3-1.3 .3-1.8 .3 2.3 .3 0 .3-.9 .3-.5 .3 3.6 .3-3.7 .2 2 .3 .5 .3-3.6 .3 2 .3 1.3 .3-1.5 .3-2.4 .3 3.3 .3 2.2 .3-2.4 .3-.3 .3-1.6 .3 .9 .2 1 .3-2.8 .3 .6 .3 1.5 .3-.1 .3 .2 .3-.3 .3 2.3 .3-2.3 .3 .1 .3-1.2 .3-.1 .3 1.2 .2 4.1 .3-2.2 .3-3.8 .3 4.5 .3-2.4 .3-2 .3 2.4 .3-5.8 .3 4.3 .3-.4 .3 1.2 .3-2.8 .3 4.5 .3 1.1 .2-2.8 .3 .4 .3 .5 .3-1 .3 0 .3 1.4 .3 .6 .3-2.2 .3 1.7 .3-.6 .3-1.4 .3 .8 .3-2.8 .2 1.2 .3 2.1 .3 .4 .3 .8 .3 .6 .3-3.9 .3 2.2 .3-3 .3 2.4 .3-.8 .3 1.5 .3-.8 .3 .2 .2-.9 .3 .9 .3 2 .3-.8 .3-1.2 .3-2.5 .3-.2 .3 2.6 .3 .6 .3 .4 .3-.5 .3-1.6 .3-1.4 .2 3.8 .3-.3 .3 .9 .3-4.3 .3 3.5 .3 .1 .3-2.7 .3 .1 .3-.1 .3 .4 .3 1 .3-.4 .3 2.6 .3-1.4 .2-1.5 .3 1.2 .3-1.4 .3-2.3 .3 3.9 .3-1.4 .3 2.8 .3-2 .3 2.2 .3-.8 .3-3.6 .3 4.9 .3-3.2 .2 .6 .3-1.7 .3 .9 .3 4.8 .3-3.7 .3-5.7 .3 8.1 .3-2.3 .3-1.3 .3 2 .3-.5 .3-1.6 .3 3.4 .2-1.5 .3 .9 .3-1.4 .3-.4 .3 .3 .3-1.7 .3 .1 .3 2.7 .3-1.5 .3 1 .3-.9 .3-.6 .3 2.3 .2-2.5 .3-.6 .3 1.4 .3 1.7 .3-.1 .3-3.2 .3 0 .3 .8 .3-.7 .3 1.5 .3 1.3 .3-1.8 .3-2.2 .2-.1 .3 .3 .3 1.7 .3 1.5 .3-3.2 .3-.1 .3 3.5 .3 2.8 .3-5.4 .3 1.8 .3 1 .3-.4 .3 .6 .3-.7 .2 .6 .3-1.4 .3 .1 .3-2.5 .3 5.7 .3-5.2 .3 2.4 .3 0 .3-1.6 .3-1.1 .3 2.8 .3-2.9 .3 4.2 .2 2.5 .3-2 .3-6.2 .3 4.7 .3-.5 .3-.4 .3 1.6 .3-2 .3 1.6 .3-1.9 .3-.6 .3 2.5 .3 .8 .2-2.6 .3 3.4 .3-2.7 .3-1.2 .3 .3 .3 .2 .3 2 .3 .1 .3-1 .3 2 .3-3.6 .3 2.1 .3-.2 .2-3.8 .3 3.9 .3-1.3 .3 3.1 .3-3.1 .3 2.9 .3-1.3 .3-3.1 .3 4 .3-.6 .3-.5 .3-.9 .3 3.2 .3-3.3 .2 2.2 .3-.8 .3-1.2 .3-.9 .3 1.7 .3-.6 .3-1.8 .3 2.5 .3 .2 .3-.7 .3-2.8 .3 3.6 .3-1.4 .2 1.8 .3-1.9 .3-.5 .3 .8 .3 .1 .3 3.5 .3-5 .3-.7 .3 2 .3 .2 .3-2.8 .3 .2 .3 1.3 .2 .9 .3-.1 .3 1.8 .3-1.4 .3-1.1 .3 1.1 .3 .5 .3 .5 .3-5.3 .3 4.4 .3 .4 .3 1.8 .3-2.8 .2 .8 .3-2.7 .3 3.7 .3 .3 .3-2.9 .3 1.5 .3-.9 .3 2.4 .3-2 .3 .7 .3 0 .3-.9 .3 .9 .3 2.2 .2-2.5 .3-1.2 .3 3 .3 1.2 .3-1.5 .3-1.4 .3-.1 .3 1 .3 .6 .3 2.9 .3-.8 .3-5.3 .3 2.9 .2 1 .3-1.2 .3-1.2 .3-.9 .3 2 .3 .1 .3-3 .3 .6 .3-1.6 .3 5.6 .3-4.2 .3 1.3 .3-1.9 .2 3.6 .3-2.2 .3 .8 .3 3.9 .3-2.3 .3-1.1 .3-3.3 .3 4.3 .3 0 .3 .3 .3-1.4 .3-2.4 .3 1.1 .2 2.4 .3-.2 .3-.4 .3-1.4 .3 2.2 .3-1.4 .3 .1 .3-3.1 .3 1.9 .3 2.3 .3-4.2 .3 3.2 .3 1 .3-2 .2 1.4 .3-2.4 .3 4.2 .3-3.3 .3-3 .3 4.3 .3-1.5 .3 3.3 .3-1.4 .3-1.7 .3 3 .3-3 .3-1.5 .2 3.8 .3 .4 .3-2.6 .3 2 .3 1.3 .3-3.9 .3-3.8 .3 5.7 .3-1.3 .3 1.9 .3-1.2 .3-1 .3-.9 .2-.3 .3 1 .3-.6 .3 2.7 .3-.1 .3-2.1 .3 2.9 .3-2.5 .3-.2 .3 2.2 .3-1 .3-1.3 .3 2.2 .2 1.3 .3-4.7 .3 1.7 .3-2.9 .3 3.1 .3 4 .3-3.4 .3-.6 .3 .5 .3-1.9 .3 1.9 .3-.9 .3-.6 .2 2.6 .3-1.8 .3 .8 .3-1.4 .3 1.2 .3 .7 .3-1 .3 2.5 .3-2.5 .3 .7 .3-.8 .3-.6 .3-.1 .3-.7 .2 1.7 .3-.6 .3-.5 .3 3.5 .3-2.9 .3 .8 .3-2.3 .3 .6 .3 .9 .3 2.7 .3-2.9 .3 1 .3-3.5 .2 2.1 .3 .6 .3 1.7 .3-.5 .3-3.3 .3 4 .3-.5 .3 .2 .3-3 .3 4.4 .3-5.5 .3 2.8 .3 .1 .2 .8 .3-.5 .3-1.2 .3 3.4 .3-5.5 .3 1.9 .3 .4 .3 2.3 .3-1.1 .3-3.2 .3 6.1 .3-3.6 .3 2.1 .2 1.3 .3-3.8 .3 1.1 .3-2.8 .3 1.2 .3 3.6 .3-2.9 .3 1.9 .3-1.5 .3 1.1 .3 0 .3 2.2 .3-2.4 .3-.6 .2 .6 .3-1.8 .3-.7 .3-2.3 .3 5 .3-.7 .3-.9 .3 2 .3-.9 .3-1 .3 1.6 .3-.2 .3 .2 .2 .6 .3-1.2 .3 .6 .3-1.3 .3-1.4 .3 1.3 .3 .3 .3-1.6 .3 1.4 .3 .6 .3-1.9 .3 1.3 .3 .5 .2-.4 .3 2 .3-3.6 .3 5 .3-4.1 .3 3.4 .3-2.5 .3 2.8 .3-3 .3-.4 .3-1.4 .3 1 .3 2 .2-.9 .3 .1 .3-.4 .3 0 .3 1.1 .3-.8 .3-1.4 .3 2.9 .3-1.8 .3-.1 .3 .5 .3-1.1 .3-.1 .3-.7 .2 3.1 .3-3.8 .3 2.6 .3-2.8 .3 .3 .3 3.8 .3-1.6 .3 1 .3-4.3 .3 3.2 .3 1.4 .3-.8 .3 1.3 .2-.4 .3-2.8 .3-.4 .3 4 .3-.4 .3-2.7 .3 2.5 .3-3.4 .3-.4 .3 4 .3-2.3 .3-1.4 .3 .3 .2 3.5 .3 .9 .3-3.2 .3 3.2 .3-4.4 .3-2.5 .3 3.8 .3 2.3 .3-1.7 .3-.9 .3 1.9 .3-1.6 .3 .9 .2-2.2 .3 3 .3-2.6 .3 .5 .3 3.7 .3-2.7 .3 2.5 .3-4.8 .3 2.1 .3 .7 .3 .9 .3 .6 .3-1.1 .3 .7 .2-1.4 .3 1.4 .3-.1 .3-.8 .3 1 .3-1.5 .3-.4 .3-1.1 .3 .6 .3 1.4 .3-3.5 .3 3.5 .3-1.4 .2 2.1 .3-2.8 .3 1.5 .3-1.9 .3 .9 .3 1.4 .3 2.2 .3-1.9 .3-.5 .3-2.2 .3 2.7 .3-2.2 .3 2.9 .2-.4 .3 .4 .3-5.3 .3 1.9 .3 .6 .3 .8 .3 0 .3 .1 .3 1.1 .3 .6 .3-2.1 .3-1.1 .3 1.7 .2 .3 .3-.1 .3-2.1 .3 2.9 .3-.4 .3 .1 .3-2.5 .3 3.2 .3-1.4 .3 .6 .3 0 .3-2.4 .3 1.4 .2 1.6 .3-1.1 .3 .4 .3-2.4 .3-.8 .3 2.2 .3-4.2 .3 6 .3-3 .3 4.4 .3-4.4 .3 1 .3-2 .3-.3 .2 2.9 .3 .6 .3-3.6 .3-1.8 .3 3.2 .3-.5 .3 1.9 .3 1.7 .3-2.6 .3-.5 .3 1.4 .3-1.7 .3 2.4 .2-2.2 .3 .8 .3-3.4 .3 2.5 .3-2 .3 5.9 .3-4.3 .3 1.6 .3 .1 .3-.9 .3-.2 .3 2.3 .3 .8 .2-.7 .3-1.1 .3-1.5 .3 1.1 .3 .9 .3 2.4 .3-2.9 .3-2.2 .3-.2 .3 1 .3 0 .3 3.2 .3-2.4 .2 .6 .3-2.7 .3-1.7 .3 7.8 .3-.8 .3-3.1 .3 .3 .3-3.2 .3 4.1 .3 3.2 .3-7.1 .3 .5 .3 .4 .3-3.2 .2 0 .3 .2 .3-2.7 .3 2.4 .3-4.3 .3 2 .3-2.7 .3-1.5"/>
<path stroke="#000000" d="M658.5 1055.3l .3 7.9 .3 7.2 .3-2.7 .3 3.8 .3-4.4 .3 2.4 .3 1.3 .3-4.9 .3 4.5 .3-2.7 .3-3.3 .2 4.4 .3-.7 .3 .7 .3-6.1 .3 10.3 .3-4.2 .3 1.3 .3-3.2 .3 2.3 .3-1.8 .3 1.7 .3 .1 .3-.7 .2-.6 .3 4.6 .3-4.6 .3 .3 .3-2.6 .3-3.9 .3 7.7 .3-.7 .3-1.1 .3 0 .3-.1 .3 3.9 .3-4.3 .2 .3 .3 5.6 .3 .7 .3-6.5 .3 .8 .3 1.3 .3-3.1 .3 1.2 .3 1.1 .3-2.7 .3 .6 .3 4 .3-1.2 .2 3.1 .3-3.8 .3 3 .3-3.2 .3 .3 .3 2 .3-1.6 .3-.7 .3-2.8 .3 1.1 .3 4.1 .3 2.7 .3-5 .3-2 .2 5.4 .3-5.4 .3 2 .3-3 .3 1.1 .3 2.3 .3-.7 .3-.5 .3 3.9 .3-.5 .3-.1 .3 3.7 .3-6.2 .2 3.8 .3-2.2 .3-2.9 .3-.2 .3 5.2 .3-4.1 .3 4.8 .3-4.9 .3 5.5 .3-6.3 .3 6.3 .3-1.5 .3-4.2 .2 0 .3-.9 .3 3.3 .3-.7 .3 2.2 .3-2 .3 2.1 .3-2.5 .3-2 .3 4.6 .3-.6 .3-4.5 .3 6 .2-4.6 .3 3.9 .3 1.8 .3-2.9 .3-2.7 .3 1.5 .3-.9 .3-3 .3 4.9 .3 4.9 .3-3.3 .3-3.1 .3-.1 .2-1.2 .3 2 .3 .8 .3-3.5 .3 2.5 .3 .8 .3-1.5 .3-3.3 .3 3.8 .3 .6 .3-1.9 .3 3.3 .3-.7 .3-3.4 .2-3.7 .3 5.9 .3-.9 .3 3 .3-2.3 .3-.5 .3 4.1 .3-2.7 .3-2.8 .3 2.1 .3 .3 .3-3 .3 3 .2 1.7 .3-.6 .3-1.4 .3-2.1 .3-.2 .3-.1 .3 5.7 .3-1.2 .3-4.3 .3-3.4 .3 4.8 .3-.7 .3-.8 .2 2.7 .3-.1 .3-2.7 .3 1.1 .3 1.1 .3-4.8 .3 6.4 .3 1.2 .3-6.1 .3 3.9 .3 1.5 .3-4 .3 2.4 .2-3.9 .3 .4 .3 4.4 .3 1.5 .3-3.8 .3-.2 .3 1.1 .3-.7 .3-.1 .3 1.5 .3-.9 .3 .3 .3 .2 .3-.1 .2 .1 .3 .6 .3-2.2 .3-1.7 .3 .8 .3 2.3 .3 1.1 .3-2.9 .3 2.6 .3 .8 .3-3 .3 4.2 .3 .1 .2-.5 .3-4.4 .3 2.7 .3-2 .3 2.5 .3-1.5 .3 4.5 .3-5.5 .3 3.2 .3-2.9 .3-.1 .3 4 .3-1.5 .2 .1 .3 1.3 .3-2 .3 1.7 .3-2.8 .3 5 .3-4.2 .3 1.7 .3 1.4 .3-.7 .3-.1 .3 1.5 .3-.9 .2-1.4 .3-2.4 .3 2.1 .3-.5 .3-.1 .3 1.1 .3 .6 .3 .1 .3 .6 .3 1.5 .3-4.9 .3 .8 .3 3.3 .3 1 .2-2.1 .3 0 .3 .5 .3-1.1 .3-.7 .3 2.1 .3-2.8 .3 3.9 .3-2.2 .3 1.6 .3 .7 .3-1.2 .3 .3 .2-1.6 .3-.7 .3 3.6 .3-5.8 .3 1.9 .3 .4 .3 5.2 .3-1.5 .3-1.1 .3-4.4 .3 2.2 .3 6.3 .3-1 .2-3.1 .3-1.9 .3 2.6 .3-.4 .3-4.8 .3 4.6 .3 .3 .3-2 .3 3.9 .3-1.8 .3 .6 .3-.7 .3-1.3 .2 1.1 .3 1 .3 .3 .3-.5 .3-1.3 .3 1.2 .3 2.5 .3-5.4 .3 5.5 .3-3.4 .3 .5 .3-.1 .3 2.9 .3-1.6 .2 2.8 .3-3.1 .3 1.1 .3-2.1 .3 4 .3-4.8 .3-.9 .3 .5 .3-2.2 .3 1.1 .3 .3 .3 2.9 .3 .1 .2-1.5 .3 5.2 .3-3.8 .3 .8 .3-2.7 .3 .8 .3 .2 .3 .2 .3 3 .3-2.9 .3 1.6 .3-1.6 .3-.3 .2 .3 .3-.8 .3 .3 .3-.8 .3 3.4 .3-1.2 .3 .7 .3 .2 .3 0 .3-1.3 .3-.2 .3 1.6 .3-3.9 .2 2.7 .3-1.4 .3-.5 .3 2.2 .3 3 .3-4.3 .3-.7 .3 1.9 .3-1.1 .3 2.3 .3-1.9 .3 3.2 .3-2.5 .2-3.2 .3 2.7 .3-.5 .3 1.1 .3 .4 .3-1.5 .3-2.4 .3 3.4 .3-2.6 .3 3.3 .3-1.7 .3 1.2 .3 1.9 .3-6.9 .2 4.9 .3-1.9 .3 2.5 .3-2.7 .3 3.4 .3-2.2 .3 1.6 .3-1.5 .3 .5 .3 1.5 .3-1 .3 .5 .3-.7 .2-.7 .3-3 .3 3 .3 1.9 .3 1.2 .3-3.5 .3 2.6 .3-1.9 .3-.1 .3 1.3 .3 .5 .3 1.1 .3-3.7 .2 2.1 .3-2.1 .3 1.8 .3 .5 .3 .6 .3-1.5 .3 1.1 .3 .1 .3-1.8 .3 .1 .3-.1 .3-1.2 .3 .9 .2 .1 .3 .3 .3 .4 .3 .4 .3-1.5 .3 .5 .3 1.3 .3-.3 .3-2.5 .3 2.6 .3 2.2 .3-4.6 .3 .4 .3 3.2 .2-.9 .3-2.2 .3 .6 .3-.8 .3 1.2 .3 .7 .3-.9 .3 1.6 .3-2.2 .3 2.9 .3-1.9 .3-1.3 .3 1.6 .2 .6 .3-1.2 .3 .9 .3-2.7 .3 .5 .3 1 .3 2.7 .3-2.5 .3 1.3 .3 1.1 .3-1.9 .3-.6 .3 .6 .2-1.1 .3 .1 .3-.8 .3 1.7 .3 .7 .3 .3 .3-1.2 .3 1.7 .3-4.1 .3 2.1 .3-.7 .3 .9 .3 .6 .2-.5 .3-.9 .3 3.4 .3-1.8 .3 1.2 .3-1.4 .3-.6 .3 1.1 .3-1.8 .3 1.2 .3-1.2 .3 2.1 .3-1.3 .3-.9 .2 2 .3-.8 .3 .7 .3-2.2 .3 1.7 .3 1.4 .3-1.6 .3 .1 .3-1.4 .3 .9 .3 .9 .3-2.7 .3 3.2 .2-1.5 .3 2.4 .3-3.9 .3 .5 .3 .7 .3 1.5 .3-1.1 .3 .8 .3-1.2 .3 1.8 .3-.6 .3-.1 .3 1.9 .2-2.4 .3 2.6 .3-.8 .3 .1 .3-3.1 .3 1.8 .3 .1 .3-2.1 .3 2.8 .3-2.6 .3 .1 .3 3.5 .3-3.8 .2 .5 .3-.3 .3 1.5 .3 .4 .3-2.2 .3 .3 .3 2.5 .3-1.6 .3 .5 .3 .2 .3 .4 .3-1.5 .3-.2 .3-.2 .2-.5 .3 2.9 .3-.2 .3-2.5 .3 2.5 .3 2.2 .3-2.4 .3-1.5 .3-.6 .3 1 .3-1.7 .3 2 .3-2.9 .2 1.4 .3 1 .3 1.5 .3 1.4 .3-1.8 .3-2.1 .3 1.5 .3 2.5 .3-4.3 .3-.4 .3 2.7 .3-.6 .3 1 .2-1.8 .3 .4 .3-1.1 .3 .6 .3 1.7 .3 .3 .3-3.8 .3 1.8 .3 2.5 .3 0 .3-.9 .3-1.2 .3 .4 .2-.1 .3 2.4 .3-3.8 .3 2.6 .3 .2 .3-1.7 .3-.4 .3 1.2 .3-.3 .3-.8 .3 1.7 .3-.8 .3-1 .2 .1 .3 .5 .3 1.7 .3-1.7 .3 0 .3 3 .3-2.8 .3 .7 .3-2.3 .3 3.5 .3-.9 .3-1 .3-1.5 .3-.2 .2-.4 .3 2.8 .3 .9 .3-.7 .3-.2 .3-2.7 .3 1.6 .3-2.4 .3 3.7 .3-2 .3 2.1 .3 .8 .3-3.7 .2 1.9 .3-.7 .3 .7 .3 1.2 .3-1.4 .3 .4 .3 .1 .3-3.3 .3 2.1 .3 2.3 .3-1.1 .3-1.9 .3 2.1 .2 1.2 .3-1.9 .3-.1 .3-.8 .3-.1 .3 1.3 .3-.8 .3 .9 .3-2.2 .3 3.4 .3-.9 .3 1.1 .3-1.3 .2-.6 .3 1 .3-1.8 .3 .8 .3-1.9 .3 4.6 .3-.2 .3-.3 .3-2.5 .3 1.2 .3-1 .3 2.1 .3-2.1 .3 .1 .2 .3 .3 1 .3 0 .3 .4 .3 .8 .3-.6 .3-1.6 .3 1.7 .3-2.4 .3 2.2 .3-.9 .3 .7 .3-1 .2-.9 .3-1 .3 1.9 .3 1.3 .3-2.7 .3 2.5 .3 1.2 .3-4.2 .3 1.5 .3-.3 .3 .8 .3-.1 .3-.4 .2 .2 .3-3.1 .3 1.5 .3 1.6 .3 1.1 .3-1.2 .3-1 .3 3.1 .3-2.1 .3-.4 .3 1.5 .3-.6 .3-2.9 .2 3.4 .3 .4 .3-3.5 .3 1.8 .3 1 .3-1 .3-.5 .3 1.3 .3 2.4 .3-2.5 .3 1.3 .3-.4 .3-1.8 .3-.4 .2-.2 .3 2.2 .3-3.2 .3 3.5 .3-.7 .3 1.2 .3-.5 .3-1.3 .3-.6 .3 1.6 .3-1.1 .3-.8 .3 2.9 .2-1.6 .3 .3 .3-.3 .3-1.5 .3 .5 .3-.2 .3 1 .3-2 .3 2.5 .3-1.5 .3 1 .3-.2 .3 2 .2 .5 .3-3.8 .3 3.5 .3-4.1 .3 3.7 .3-4.2 .3 1.4 .3 1.3 .3-2 .3 3.3 .3-1.8 .3 0 .3-.5 .2-.1 .3-1.6 .3 3.4 .3-1 .3 2.9 .3-4.7 .3 2.7 .3-7.6 .3 5.7 .3 2.4 .3 .7 .3 .1 .3-2.8 .3-1.3 .2 3.4 .3-4.7 .3 5.2 .3-1.4 .3-.1 .3-1.7 .3 1.9 .3-2.3 .3-.3 .3-.8 .3 .5 .3 1.5 .3 2.5 .2-4.1 .3 3.2 .3 .9 .3-1.1 .3-1.8 .3 2.1 .3-1 .3 1.6 .3-.7 .3-1.2 .3 1.5 .3 0 .3 1.4 .2-2.5 .3-.7 .3-.2 .3 2.2 .3-1.9 .3 .6 .3 .6 .3-3.1 .3 2.3 .3 2.2 .3-.6 .3-1 .3-.1 .2-.7 .3 0 .3 .3 .3 1.3 .3-.7 .3 .3 .3-1.4 .3 1.4 .3-.7 .3 1.8 .3-2.2 .3-.3 .3 .4 .2 .9 .3-1.4 .3 2 .3 .1 .3-.7 .3-.6 .3-.8 .3 1.8 .3 .6 .3-1.8 .3-1.4 .3-.2 .3 1.7 .3 .6 .2 .4 .3-.9 .3-.5 .3 .7 .3-1.2 .3 .3 .3 3 .3-4 .3 1.2 .3-.5 .3-.9 .3 1.1 .3 1.8 .2-2.7 .3 1.4 .3-2.3 .3 2.7 .3 .8 .3-.2 .3-.5 .3-.5 .3 .6 .3-.6 .3-1.2 .3 .2 .3 1.1 .2 1 .3-2.4 .3-.5 .3-.1 .3 3.4 .3-.9 .3-.2 .3 .6 .3 1.3 .3 .6 .3-1.9 .3-2 .3 .3 .2-.2 .3 .5 .3-2.6 .3 2.7 .3 .7 .3-2.1 .3 1.6 .3 .4 .3-2.6 .3 1.8 .3 4 .3-3.1 .3 .4 .3 .1 .2-1.3 .3-.2 .3 .4 .3 .1 .3-.3 .3 1.2 .3-1.9 .3 1 .3-.4 .3 1.6 .3-1.9 .3 1.1 .3-.6 .2-.4 .3 1.1 .3 .1 .3 .2 .3-3.6 .3 1.3 .3 .8 .3 2 .3-1.3 .3 1.3 .3-.7 .3-1.6 .3-.8 .2 3.9 .3-1.9 .3 .2 .3-.4 .3 1.4 .3-1 .3-1.2 .3 .4 .3-1.5 .3 4.9 .3-.3 .3-3.3 .3 2.8 .2-2.1 .3-1.1 .3 1.2 .3 .9 .3-.9 .3-1.3 .3-1.9 .3 1.8 .3 3.9 .3-3.1 .3 2.4 .3-1.3 .3 0 .3 2.7 .2-2.1 .3-2.6 .3 2.9 .3-1.1 .3 0 .3 .5 .3 .6 .3-4.8 .3 5.6 .3 1 .3-3 .3 2.2 .3-3.2 .2-.2 .3 1.3 .3-3.4 .3 2.9 .3 1.7 .3-2.4 .3 1.1 .3 .2 .3 1.7 .3-.6 .3-.6 .3 0 .3 .3 .2-2.1 .3 1.3 .3 .5 .3 .2 .3-1.7 .3-1.8 .3 2.7 .3-.8 .3 1 .3 .3 .3-2.6 .3 2 .3-.1 .2 0 .3-.5 .3-.1 .3 1.6 .3-1.9 .3-.3 .3 2.4 .3-3.4 .3 1.9 .3-.3 .3 1.9 .3-.4 .3 .2 .3-3.2 .2 1.8 .3 1.6 .3-1.9 .3 1.2 .3 .8 .3-.2 .3-1.4 .3 2.6 .3-1.9 .3-1.8 .3 2.3 .3 0 .3 1.3 .2-2.1 .3 .1 .3 1.5 .3-2.2 .3 1 .3-.4 .3 .5 .3-2.3 .3 2.4 .3-.8 .3-.1 .3-1.5 .3 .8 .2 .6 .3 1.1 .3-1.3 .3-.7 .3 1.5 .3 2.1 .3-3.9 .3 2.2 .3-2 .3 1.2 .3 2.2 .3-1.6 .3-.7 .2-1 .3 1.7 .3-.4 .3 1.4 .3-2.9 .3 2.5 .3-.8 .3 2.1 .3-3.6 .3 2.3 .3 .8 .3-2.6 .3 1.5 .2-2.7 .3 2.4 .3 2.2 .3-.7 .3-1.5 .3-2.8 .3 1.5 .3-1.5 .3 .9 .3 1.1 .3 1.1 .3-1.7 .3-.6 .3 .2 .2 1.4 .3 2.2 .3-1.3 .3 .2 .3-1.6 .3-2.3 .3 1.8 .3 .9 .3-.1 .3 1 .3-2.3 .3 .4 .3-1 .2 1.8 .3 .1 .3-.2 .3 1.4 .3-.9 .3-.6 .3 1.2 .3-4.2 .3 2 .3 .7 .3 .5 .3 1.4 .3 .5 .2-.3 .3-2.5 .3 2.7 .3-.6 .3-.4 .3-.3 .3-2.1 .3 2.1 .3 0 .3-1.3 .3 1.6 .3-1.4 .3 .8 .2 2.1 .3-3.1 .3 2.2 .3-1.9 .3 .2 .3-1.5 .3 .8 .3 2.1 .3-2.1 .3 .6 .3 .6 .3-2.4 .3 1.9 .3 1.2 .2-3.2 .3 2.6 .3 1.5 .3-.6 .3-1.2 .3 1.2 .3-.5 .3-1.2 .3 3.3 .3-3.8 .3 2 .3-.7 .3 1.5 .2-3.8 .3 3.9 .3 1.6 .3-2.2 .3-.9 .3-.7 .3-2 .3 2.4 .3 .6 .3-.8 .3 1.3 .3 1.3 .3-3.3 .2 1 .3-2.7 .3 3 .3-.7 .3 0 .3 .8 .3-1 .3 3.2 .3-5.3 .3 3.6 .3 .1 .3-2.1 .3 4 .2-2.7 .3 .4 .3-2.1 .3 3.7 .3-2.9 .3-.3 .3-2.7 .3 4.2 .3-1.3 .3 .6 .3-1.1 .3 4 .3-4.5 .3-.7 .2 2.4 .3 0 .3 1 .3-.9 .3 1.1 .3 .6 .3 0 .3-.7 .3-.4 .3 .7 .3 2.4 .3-6.2 .3 1.4 .2 2 .3-3.4 .3 3.5 .3-1.4 .3 .5 .3-1.9 .3 1.3 .3 1.6 .3 1 .3-2.9 .3 .9 .3 0 .3 0 .2-.2 .3 .8 .3-2.3 .3-.2 .3 2.4 .3 .8 .3 .2 .3 .2 .3 .2 .3-3.8 .3 .8 .3 .1 .3 .1 .2 2 .3-.4 .3-.6 .3-.5 .3-1.4 .3 2.7 .3 .2 .3-3.6 .3 1.6 .3-2.2 .3 2.2 .3 2.3 .3-.6 .3-2.3 .2 3.9 .3-1.1 .3-.7 .3-2 .3 2.8 .3-.9 .3-1.8 .3 .7 .3 .6 .3-1 .3 2.5 .3-3 .3 1.8 .2-.1 .3-1.1 .3 1.2 .3 .2 .3 .2 .3-1.3 .3 .6 .3 .2 .3-1.3 .3 1 .3 1.1 .3 1.6 .3-3.7 .2 .2 .3-1.2 .3-.1 .3 2.4 .3 1.2 .3-.3 .3-1.1 .3-1.5 .3 3.9 .3-2.6 .3-.2 .3-.8 .3 2.6 .2 .3 .3-1.8 .3-.3 .3 1 .3 1.3 .3-.9 .3-1.4 .3 0 .3 .7 .3 1.1 .3 .7 .3-.6 .3-1.7 .2 .2 .3-.6 .3-.2 .3-.4 .3 2.9 .3-3.2 .3 1.4 .3-.5 .3 3.2 .3-6 .3 3.8 .3-.8 .3 .9 .3-1 .2 4.2 .3-4 .3 .7 .3 1.3 .3-3.5 .3 .3 .3 4.1 .3-3.2 .3 1.7 .3-1.1 .3-.6 .3-.4 .3 3.1 .2 .2 .3-1.8 .3 .1 .3-1.4 .3 2.4 .3-1 .3 1.2 .3-2.6 .3 3.6 .3-1.1 .3-2.8 .3 3.8 .3-3.9 .2 1.3 .3-.9 .3-.9 .3 1.9 .3-.7 .3-2.2 .3 2.9 .3 .3 .3 .5 .3-.9 .3 1.4 .3-1.6 .3-2.4 .2 1.8 .3-.3 .3-1 .3 2.4 .3-.1 .3-1.1 .3-.6 .3 .6 .3 0 .3 1.7 .3-1.4 .3 .3 .3 2.3 .3-.8 .2-1 .3 1.5 .3-2.6 .3-.1 .3-.3 .3-.5 .3 .7 .3 .9 .3 0 .3 .5 .3-.2 .3 1.9 .3-4.8 .2 2.4 .3 1 .3-1.6 .3 .7 .3 .4 .3-.8 .3 2.2 .3-1.2 .3-3.1 .3 3.1 .3-2.4 .3-.8 .3 3 .2-1 .3 1.1 .3-.3 .3-1.2 .3 .8 .3-1.4 .3 2.3 .3-.3 .3 1.5 .3-3.7 .3 2.7 .3-2.2 .3 2.1 .2 .9 .3-2.9 .3 .5 .3-.3 .3 .1 .3 0 .3 2.6 .3-1.8 .3 1 .3-.1 .3-1.1 .3-.1 .3-.1 .3 1.1 .2-.7 .3 .4 .3-1.2 .3 2.7 .3-1.2 .3-.5 .3-.4 .3 1 .3-.9 .3-1.2 .3 .1 .3 2.8 .3-3.3 .2 3.3 .3-1.8 .3-.9 .3 1.8 .3-.5 .3 .1 .3 2.4 .3-3.2 .3 2.5 .3-2.2 .3 .9 .3 1.2 .3-1.6 .2 1 .3-.1 .3-2.2 .3-.6 .3 3.4 .3-1.7 .3-1 .3 3.2 .3-1.3 .3-.7 .3 1.9 .3-.4 .3-1.4 .2-.7 .3-.1 .3 .3 .3-1.1 .3 3.2 .3-1.9 .3 .1 .3 1 .3-1.2 .3-2.4 .3 1 .3 2.9 .3 .5 .3-2.4 .2 .1 .3 .5 .3-2.8 .3 4 .3-1.1 .3-.6 .3 .6 .3-.6 .3 .8 .3 .5 .3-1.6 .3 .1 .3 .9 .2 1.2 .3-.8 .3-5.3 .3 5.4 .3-.4 .3 .4 .3-1.5 .3 1.7 .3-.5 .3 .4 .3-.3 .3 2 .3-1.7 .2-.5 .3-.9 .3 .6 .3 1.7 .3-.5 .3 1 .3-1.9 .3 1.4 .3-1.2 .3-.9 .3 1 .3 1.7 .3-3.4 .2 1.2 .3 .8 .3-.6 .3 .6 .3 2.6 .3-3.2 .3 .1 .3-.7 .3 .7 .3-.5 .3 1.9 .3 1.2 .3-3.3 .2-.6 .3-.1 .3 .7 .3 .1 .3 1 .3-1.1 .3-3.9 .3 4 .3 0 .3 1.1 .3-.9 .3-1.7 .3 1.4 .3-1.2 .2 1.2 .3 .8 .3-1.6 .3-.1 .3 .1 .3 .1 .3 2.8 .3-3.1 .3-.5 .3 1 .3 1.3 .3-.9 .3-1.1 .2-.3 .3 1.7 .3-.4 .3 .4 .3-.5 .3 2.2 .3-2.5 .3 .8 .3 .1 .3-.3 .3 .6 .3 .6 .3-.6 .2 0 .3-2.4 .3 3.5 .3-2 .3 .5 .3 1.6 .3-.5 .3 1.6 .3-2.8 .3-1 .3 3.2 .3-3.5 .3 .9 .2 2 .3-1.5 .3 .4 .3 .1 .3 .2 .3-2.9 .3 1.2 .3 2.5 .3-.3 .3-1.3 .3-.9 .3-.1 .3 1 .3-.3 .2-1.3 .3 1.5 .3-2.7 .3 3.3 .3-.8 .3 .1 .3 1.8 .3-2.1 .3-.3 .3 .8 .3-.5 .3 1.1 .3 1.7 .2-1.6 .3-1.7 .3 .9 .3-.8 .3-.1 .3 2.7 .3-2.5 .3-.3 .3 1.8 .3 .3 .3 .9 .3 .4 .3-4.3 .2 3.5 .3 .1 .3 .8 .3-2.3 .3-2.1 .3 1.5 .3 .4 .3-.6 .3 .7 .3 2.1 .3-2.8 .3 .4 .3 2.9 .2-2.4 .3-1.6 .3 3.3 .3-2.1 .3 .5 .3-1.3 .3 1.4 .3-.1 .3 1.2 .3-.9 .3-1 .3 .4 .3 2.8 .3-1.8 .2-2.1 .3 1 .3 1 .3 .3 .3-1.6 .3 1 .3-1.4 .3 .3 .3 1.1 .3 1 .3-1.4 .3 .6 .3-1.3 .2 1.4 .3-2.6 .3 .9 .3 1.2 .3-.1 .3-1.5 .3 1.8 .3 0 .3 .3 .3-1 .3 2.1 .3-1.8 .3-.9 .2 .9 .3-.8 .3 .3 .3-1.1 .3 .9 .3 .9 .3-.5 .3 .1 .3-2.8 .3 3.8 .3-.8 .3 2 .3-1.4 .2 2.1 .3-1.9 .3-1 .3 .5 .3-.1 .3 0 .3-2.2 .3-.2 .3 2.5 .3-.9 .3 2.4 .3-3.1 .3-.5 .3 1.5 .2 1.4 .3-1.4 .3 .9 .3 .1 .3-2.4 .3 1.1 .3 .1 .3 2.2 .3-7.6 .3 6 .3 1 .3 1.5 .3-4.6 .2-1.7 .3 3.5 .3 .6 .3-3.8 .3 3.3 .3 .2 .3 .6 .3-1.3 .3 1.7 .3-3.9 .3 3.1 .3-1.6 .3 1.6 .2-.7 .3 1.9 .3-2.4 .3-.8 .3-.1 .3 1.3 .3 1 .3 1.4 .3-1.4 .3 .6 .3-.2 .3-1.7 .3 .2 .2 1.5 .3-2.6 .3 3.7 .3-2.6 .3 .8 .3-2.3 .3 4.9 .3-3.8 .3 1.7 .3-2.2 .3 2.1 .3-.5 .3 1.1 .2-4 .3 3.5 .3-2.7 .3 3.2 .3-2.2 .3 .8 .3 1 .3-1.1 .3 1 .3-1.6 .3 .7 .3-.8 .3 3.1 .3-4.8 .2 5.8 .3-.6 .3-2.8 .3 .3 .3 1.2 .3-.1 .3-1.5 .3 4.3 .3-4.1 .3-1.1 .3 2.5 .3-1.3 .3 .7 .2-.5 .3-1.2 .3 2.1 .3-1 .3-.9 .3 1.5 .3 .1 .3 .4 .3-2.4 .3-1.7 .3 1.8 .3 0 .3 .6 .2 1.9 .3-1.2 .3 .2 .3 0 .3 1 .3-.8 .3 1.4 .3-.8 .3 0 .3 1.3 .3 0 .3-2.3 .3 1.5 .2-2.9 .3-.4 .3 1.2 .3 .6 .3 1 .3-2.7 .3 .6 .3 3 .3-2.6 .3 2.2 .3 0 .3 .6 .3-1.6 .3-1.1 .2 1.2 .3-.8 .3-1.9 .3 1.6 .3 .5 .3 .6 .3 .2 .3-1.1 .3-.9 .3 1.9 .3-1.7 .3 1.7 .3-1.3 .2 3.6 .3-.2 .3-3.2 .3-.2 .3 1.1 .3-.9 .3-.6 .3 4.8 .3-2.1 .3-1.8 .3 .5 .3-.5 .3 .4 .2-1.1 .3 1 .3 .1 .3 .6 .3 1 .3-5.5 .3 4.5 .3 .4 .3-3.8 .3 2.7 .3-.3 .3 .6 .3-.9 .2-.2 .3-1.1 .3 4.2 .3-.4 .3-3.3 .3 .8 .3 .9 .3-2.3 .3 2.6 .3-.2 .3-.8 .3-1 .3 1.2 .3 .6 .2 1.9 .3-3.3 .3-1 .3 1 .3 1.3 .3-.5 .3-.2 .3 .9 .3-.1 .3 .1 .3-1.8 .3 .6 .3-.3 .2 1.8 .3-.8 .3-.3 .3 1 .3-1.3 .3-.9 .3 1.7 .3 .7 .3-.5 .3 .9 .3 0 .3-1.4 .3-1.3 .2 1.8 .3-3.7 .3 4.3 .3-2.8 .3 1.3 .3 .9 .3-.2 .3-.2 .3-1.4 .3-.2 .3 .4 .3 1.4 .3 .1 .2-.5 .3 .6 .3-2 .3 1.1 .3 1.3 .3-.5 .3-1.3 .3-.9 .3 2 .3 0 .3 1.7 .3 1.5 .3-2 .3-4.6 .2 4.2 .3-1.3 .3-.9 .3-.9 .3 2.1 .3-.1 .3 0 .3 .4 .3 .5 .3-2 .3 1.6 .3-1.5 .3 1.5 .2-.5 .3 1.4 .3 .4 .3-.9 .3 1.3 .3-1 .3-3.9 .3 4.1 .3-1 .3-2 .3 3.3 .3-2.4 .3 2.6 .2-1.5 .3-.1 .3-1.6 .3 .5 .3 2.6 .3-2 .3-.5 .3-.3 .3 2 .3-2.4 .3 .5 .3 .4 .3 .5 .2-.6 .3 .7 .3-1.7 .3 1.4 .3-.5 .3 .5 .3 .4 .3-.6 .3-.3 .3 1.8 .3-3.3 .3 2.3 .3-.2 .2 1.4 .3-1.3 .3 .8 .3-3 .3 1 .3 .2 .3 3.5 .3-2.3 .3 0 .3-.1 .3-2.4 .3 2.5 .3 0 .3 .2 .2-3.8 .3 2.9 .3 .2 .3 0 .3-.9 .3 2.4 .3 1.4 .3-3.9 .3 2.3 .3-3 .3 1.9 .3 2.4 .3-.6 .2 .3 .3-1 .3-2.5 .3 2.8 .3-4.4 .3 2.3 .3 1 .3 1 .3-2 .3 2.6 .3 .2 .3 1 .3-2.2 .2-1.1 .3 .1 .3-.3 .3 3 .3-4.7 .3 1.3 .3 3.7 .3-2.2 .3-.9 .3-1.1 .3 2.9 .3-1.7 .3-1.7 .2 2.1 .3 .8 .3-3.3 .3 1 .3 1.8 .3-.9 .3 1.1 .3-1.1 .3 .8 .3-1.7 .3 3.4 .3-1.8 .3 .7 .3-2.9 .2 .5 .3 .2 .3 .5 .3 .1 .3-.9 .3 3.5 .3-1.5 .3 .5 .3-.5 .3 1.8 .3-3.8 .3 3.5 .3-.2 .2-3.6 .3 3.6 .3-4.2 .3 3.1 .3-.8 .3-.6 .3 2 .3-.6 .3-.3 .3-.7 .3 3.1 .3-2.8 .3-.9 .2-2.1 .3 4.4 .3 1.6 .3-1.8 .3-3.1 .3 .3 .3 1 .3-1.5 .3 1.7 .3 2.9 .3-6.4 .3 5.2 .3-2.7 .2 2.4 .3 .7 .3 0 .3-4.9 .3 6.6 .3-4.1 .3 .2 .3 1.5 .3-1.1 .3 .4 .3 .3 .3-1 .3 .4 .3 2 .2-1.1 .3-1.2 .3-.1 .3-.2 .3-1.1 .3 3.8 .3-.8 .3-1.9 .3 .8 .3 2.1 .3-3.1 .3 2.5 .3-3.2 .2 .9 .3 .6 .3 .7 .3-2.5 .3 1.1 .3 .9 .3-1.5 .3 .5 .3 1.6 .3-.9 .3-.3 .3 1.6 .3-2.4 .2 2.2 .3 .7 .3-.3 .3-1.2 .3 2.5 .3-5.2 .3 1 .3 .9 .3 1.1 .3-2.1 .3 3.8 .3-4.3 .3 2 .2-.2 .3 .2 .3-.4 .3 4.3 .3-3.1 .3-3 .3 4 .3-3.2 .3 2.3 .3 1.5 .3-3.9 .3 1.7 .3 2.2 .3-.9 .2-.3 .3-1.4 .3 .2 .3 1.3 .3-2.1 .3 1.5 .3-.2 .3-1.5 .3 2.6 .3-1.5 .3 1.5 .3-3.6 .3 .9 .2 2.5 .3-1.4 .3 0 .3-.3 .3 .3 .3-.8 .3 1 .3 0 .3-1 .3 .3 .3-1.4 .3 2.5 .3-1.5 .2 1.7 .3-4 .3 2.5 .3 .6 .3-.3 .3 .4 .3-2.3 .3 4.1 .3-1.5 .3 .3 .3-1.1 .3 1.8 .3-1.4 .2 2.1 .3-3 .3 1.3 .3-1.2 .3-1.2 .3 4.5 .3-1.9 .3-.3 .3 .2 .3-.6 .3-1.5 .3 2.4 .3-2.4 .2-.6 .3 4.1 .3-2.4 .3-.6 .3 3 .3-3.1 .3 0 .3 .6 .3-1.1 .3 1.6 .3 1.3 .3-2.2 .3 2.6 .3-2 .2 2.8 .3-3.4 .3 .3 .3 .7 .3-1.3 .3 2.5 .3-.9 .3-.2 .3-1 .3 1.9 .3-3.5 .3-.1 .3 1.4 .2 2.1 .3-3.6 .3 5.8 .3-1.3 .3-2.2 .3 2.2 .3-1.5 .3 .8 .3 1.3 .3-.3 .3 .7 .3-2.2 .3 1.1 .2-1.8 .3 0 .3 1.4 .3-2.3 .3 0 .3 1.5 .3-.4 .3 .2 .3-.7 .3 2.2 .3 1.6 .3-1.2 .3-1.2 .2 .4 .3-2.7 .3 2.5 .3 .1 .3-.6 .3-2 .3-.4 .3 1.6 .3-.1 .3 .8 .3-1.2 .3 2.7 .3-2.4 .3 1.4 .2-.1 .3 1.4 .3-3.1 .3 2.6 .3-.1 .3 .1 .3 .6 .3-3.5 .3 1.3 .3-.6 .3 .7 .3-2.8 .3 1.3 .2 3.2 .3-1.2 .3 0 .3-1 .3 1.4 .3 1.1 .3-2.8 .3-1.1 .3 2.5 .3-2.8 .3 1.1 .3 3.1 .3-2.5 .2 .6 .3 .7 .3-1.5 .3-.8 .3-3.1 .3 4.6 .3-2.2 .3 2.4 .3 2.8 .3-.9 .3-.9 .3-2.1 .3-.4 .2 .6 .3 2.5 .3-4.7 .3 1.8 .3 .9 .3 .6 .3-1 .3 .8 .3 .7 .3-1.4 .3 2.3 .3-2.8 .3 2.5 .3-.9 .2 1.6 .3-2.9 .3 1.6 .3 1.3 .3-1.7 .3 .3 .3-2 .3-.6 .3 .3 .3 1 .3-.1 .3-.2 .3 .1 .2 .1 .3 1.7 .3-2.2 .3 1.2 .3 1.5 .3-1.4 .3-.7 .3-1.2 .3 3 .3 1.1 .3-1.4 .3 .2 .3-2.2 .2-1.6 .3 .9 .3 .3 .3 .6 .3 .3 .3-1.7 .3 1.4 .3-.4 .3 2.6 .3-2 .3 3.2 .3-2.8 .3 .7 .2-4 .3 3.1 .3 1.7 .3-1.1 .3-1.2 .3 2.1 .3 .4 .3-2.1 .3-.9 .3 2.1 .3 .3 .3-1 .3 0 .3-.3 .2-.3 .3 .2 .3-2.1 .3 1.6 .3-.1 .3 1.8 .3-1.1 .3 .9 .3-.6 .3 .3 .3 .9 .3 .2 .3-3.1 .2 1.4 .3 .5 .3 1.6 .3-.4 .3-2.1 .3 2.4 .3-1.5 .3-2.2 .3 1.6 .3-1.6 .3 3.4 .3-1.5 .3-2.2 .2 1.9 .3 .5 .3 .5 .3-.1 .3-.3 .3 1 .3-1.9 .3 .8 .3-2.2 .3 2.6 .3-1 .3 1.7 .3 .2 .2-2.2 .3 3.8 .3-1.4 .3-2.6 .3 .7 .3 0 .3-.6 .3 1.5 .3-.6 .3-1.7 .3-.5 .3 1.3 .3-.6 .2 2.5 .3 .7 .3-3.2 .3 .9 .3 2.8 .3-.3 .3-.6 .3-4.2 .3 2.1 .3 1.4 .3 1.3 .3-4.1 .3 .5 .3 .1 .2-.6 .3 .1 .3 3.8 .3-2.6 .3-.5 .3 1 .3-.3 .3 4.8 .3-3.5 .3-4.2 .3 3.8 .3 .9 .3-.2 .2-2.7 .3 1.3 .3 1 .3-2.5 .3 2.4 .3-3.2 .3 3.1 .3-1.2 .3 .9 .3-2.4 .3 2.7 .3 1.7 .3-1 .2-.6 .3 .8 .3-.3 .3-.8 .3 .5 .3-1.4 .3 1.4 .3-.3 .3 .3 .3-.9 .3 .9 .3-.9 .3 .3 .2-1.7 .3-.6 .3 4.1 .3-1.6 .3-.2 .3-1 .3 1.7 .3-1.3 .3 2.1 .3-2.3 .3 1.4 .3 2.8 .3-1.4 .3-4.6 .2 1.1 .3-.9 .3 4.2 .3-2.2 .3-.6 .3 2.6 .3-1.3 .3 0 .3 0 .3-1.6 .3 2 .3 0 .3-2.1 .2 1.6 .3-.9 .3 .4 .3-2.4 .3 3.9 .3-1.4 .3-.7 .3 1.9 .3-.5 .3 2.2 .3 .1 .3-2.4 .3 .1 .2 .9 .3-1.6 .3 .2 .3 .3 .3-1.2 .3-.3 .3 3.5 .3-5.3 .3 2.7 .3 .5 .3 1.3 .3-2 .3-.9 .2 .1 .3 2.2 .3-.1 .3-1.2 .3 0 .3 3.7 .3-2.5 .3-.2 .3 0 .3 2 .3-1.1 .3-1.7 .3-.3 .3 .6 .2-.3 .3 .6 .3-2.2 .3 1.9 .3-.2 .3-.9 .3 .2 .3 1.3 .3-1.9 .3 1 .3 1.9 .3-1.3 .3-.3 .2 2.7 .3-4 .3-.5 .3 2.9 .3 .6 .3-.1 .3-.8 .3 .4 .3 1 .3-2.3 .3-2 .3 2.6 .3 0 .2 1.1 .3-.9 .3-.6 .3 .7 .3-1 .3 .1 .3 .1 .3 .6 .3 .5 .3-1.5 .3 1.1 .3-1.1 .3-.1 .2-1.1 .3 3 .3-4.1 .3 3.6 .3-1.6 .3 2.3 .3-1.7 .3 .5 .3-.7 .3-.4 .3 3.4 .3-1.4 .3-.2 .3-2.6 .2 1.9 .3-2 .3 .2 .3 2.8 .3-1 .3-.9 .3 1.3 .3 .5 .3-1.3 .3-.9 .3 .3 .3 4 .3-2.2 .2 .5 .3-2.9 .3 .7 .3-.3 .3-.6 .3 1 .3-1.2 .3 .7 .3 1.2 .3 .4 .3-2.3 .3 3.2 .3-1.3 .2-1.4 .3 1.5 .3-3.1 .3-2.1 .3 5.9 .3 .3 .3-1.6 .3-.3 .3-2.1 .3 2.9 .3-2.6 .3 3.4 .3-.7 .2-1.4 .3-.1 .3 1.9 .3-.7 .3-.6 .3 2.4 .3-1.3 .3-1.6 .3 1.4 .3-.2 .3-.6 .3 .6 .3-.8 .2-2.4 .3 3.7 .3 1.8 .3-2.3 .3-.5 .3 1.7 .3-.7 .3-.7 .3 0 .3 .9 .3-1 .3-1.6 .3 1.5 .3-1.8 .2 2.5 .3-1.4 .3 1.2 .3-.3 .3-.7 .3 .1 .3 2 .3-2.6 .3 .5 .3 .8 .3-.1 .3 .7 .3-1.8 .2 1.8 .3-1 .3 1.8 .3 .4 .3-2.1 .3 .5 .3-2.5 .3 0 .3 2.9 .3-2.5 .3 1.6 .3-.6 .3 4.2 .2-3.9 .3 .7 .3 .7 .3-.9 .3 .2 .3 .5 .3-1.9 .3 1.7 .3-1.1 .3 2.8 .3-2.6 .3 .1 .3-1.3 .2-.1 .3 2.1 .3-.2 .3 .5 .3-1.8 .3 1.1 .3-1.1 .3 .1 .3 1.9 .3 .2 .3 .7 .3-1.4 .3 0 .3-3.5 .2 3.4 .3-2.7 .3 2.5 .3-2.3 .3 3.6 .3-1.2 .3 .4 .3-1.6 .3 1.1 .3-3 .3 3 .3 .7 .3-.4 .2 1.5 .3-2.4 .3-1.6 .3 3.9 .3-3.2 .3 1.4 .3 .1 .3-3.1 .3 3.3 .3-.4 .3-.5 .3 1.8 .3-1.4"/>
</g>
<g filter="url(#crisp)">
<text transform="translate(251.57,1168.6) scale(0.9500,1)" x="0 22.25" y="0" font-size="40">20</text>
<text transform="translate(543.97,1168.6) scale(0.9500,1)" x="0 22.25" y="0" font-size="40">30</text>
<text transform="translate(836.47,1168.6) scale(0.9500,1)" x="0 22.25" y="0" font-size="40">40</text>
<text transform="translate(1128.87,1168.6) scale(0.9500,1)" x="0 22.25" y="0" font-size="40">50</text>
<text transform="translate(1421.37,1168.6) scale(0.9500,1)" x="0 22.25" y="0" font-size="40">60</text>
<text transform="translate(663.7,1237)" x="0" y="0" font-size="47.3">2</text>
<text transform="translate(690.7,1237.6) scale(1.12,1)" x="0" y="0" font-size="43.7" style="font-family:&quot;Liberation Serif&quot;,serif">&#952;</text>
<text transform="translate(725.1,1237)" x="0 15.75 42.06 68.36 94.67 110.42 136.73 163.03" y="0" font-size="47.3">(degree)</text>
<text transform="translate(54,784.6) rotate(-90)" x="0 13.2 39.61 52.81 79.23 105.65 129.4 139.95 153.15 176.9 190.09 205.91 232.33 248.15 274.56 287.76 300.96 327.37 353.79 364.34 377.54 390.74" y="0" font-size="47.5">Intensity (arb. unit.)</text>
<text transform="translate(1212.9,297.4)" x="0 26.31 52.61" y="0" font-size="47.3">800</text>
<text transform="translate(1291.82,271.1)" x="0" y="0" font-size="28">o</text>
<text transform="translate(1307.39,297.4)" x="0" y="0" font-size="47.3">C</text>
<text transform="translate(1214.4,489)" x="0 26.61 53.21" y="0" font-size="47.3">700</text>
<text transform="translate(1294.22,462.7)" x="0" y="0" font-size="28">o</text>
<text transform="translate(1309.79,489)" x="0" y="0" font-size="47.3">C</text>
<text transform="translate(1216.6,673.9)" x="0 26.76 53.51" y="0" font-size="47.3">600</text>
<text transform="translate(1296.87,647.6)" x="0" y="0" font-size="28">o</text>
<text transform="translate(1312.44,673.9)" x="0" y="0" font-size="47.3">C</text>
<text transform="translate(1222.1,862.9)" x="0 26.31 52.61" y="0" font-size="47.3">500</text>
<text transform="translate(1301.02,836.6)" x="0" y="0" font-size="28">o</text>
<text transform="translate(1316.59,862.9)" x="0" y="0" font-size="47.3">C</text>
<text transform="translate(1135.1,1045.3)" x="0 31.55 55.2 70.95 97.26 123.56 149.87 176.17 199.82 210.33 223.47 249.78" y="0" font-size="47.3">As-deposited</text>
<text transform="translate(351,281.4) rotate(-90)" x="0 14.32 38.23 62.15 86.06" y="0" font-size="43">(100)</text>
<text transform="translate(635.2,248.6) rotate(-90)" x="0 14.32 38.23 62.15 86.06" y="0" font-size="43">(110)</text>
<text transform="translate(995,221.4) rotate(-90)" x="0 14.32 38.23 62.15 86.06" y="0" font-size="43">(200)</text>

</g>
</svg>
</body></html>
